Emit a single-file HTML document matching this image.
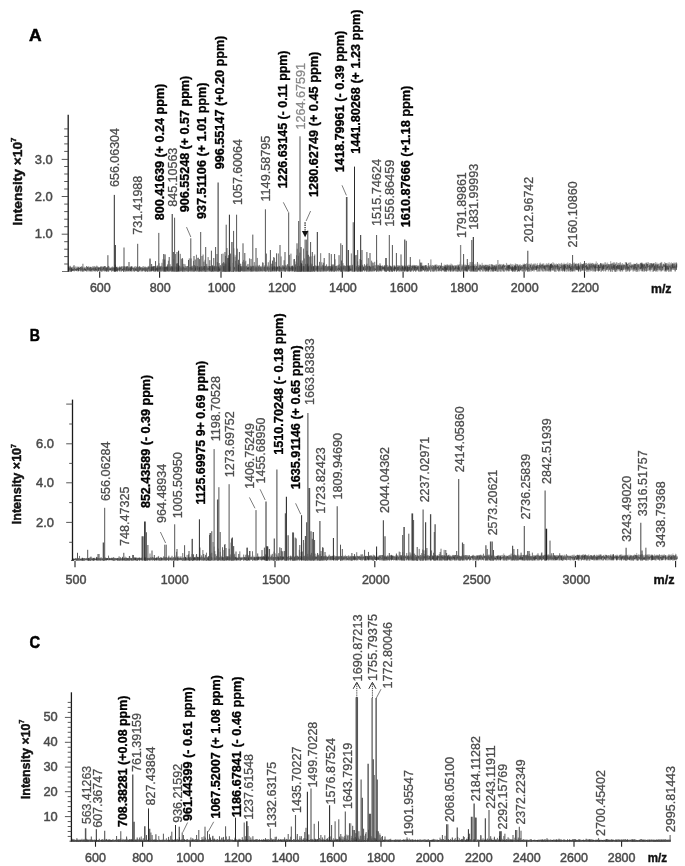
<!DOCTYPE html>
<html lang="en"><head><meta charset="utf-8"><title>Mass spectra A, B, C</title>
<style>html,body{margin:0;padding:0;background:#fff}svg{display:block;filter:grayscale(1)}text{font-family:"Liberation Sans", Arial, Helvetica, sans-serif}</style>
</head><body>
<svg width="685" height="866" viewBox="0 0 685 866">
<rect width="685" height="866" fill="#fff"/>
<path d="M68.5 267.58V271.54M69.08 267.06V271.01M69.81 267.64V270.46M70.44 266.67V270.42M71.16 267.44V271.67M71.67 267.73V271.13M72.28 266.69V270.98M72.91 267.05V270.72M73.48 265.59V270.8M74.15 266.83V270.66M74.9 267.58V270.86M75.62 266.4V270.97M76.32 267.32V271.19M77.07 266.23V271.2M77.81 267.15V270.64M78.52 266.77V270.91M79.18 266.62V271.1M79.82 267.7V270.47M80.62 266.88V270.93M81.27 266.31V271.44M82.03 267.4V271.09M82.7 267.07V270.77M83.49 267.73V271.45M84.25 266.65V271.49M84.92 267.11V270.48M85.59 267.44V271.08M86.2 267.22V271.13M86.88 267.05V270.44M87.44 266.87V271.56M88.18 266.53V270.74M88.88 266.19V270.42M89.45 267.56V271.24M89.97 267.48V271.11M90.55 266.67V271.01M91.2 267.68V270.92M91.75 267.55V271.61M92.32 266.3V271.5M92.86 266.65V270.61M93.56 266.9V270.7M94.3 266.94V270.7M94.92 266.85V270.83M95.44 267.26V271.7M96.03 266.43V270.81M96.75 265.53V270.74M97.27 266.49V271.69M97.82 266.41V271.71M98.47 267.13V270.86M99.17 267.05V270.66M99.87 267.25V271.07M100.63 266.35V270.42M101.23 266.22V271.45M101.8 266.68V271.53M102.4 266.37V271.32M103.19 267.33V271.37M103.74 266.32V270.68M104.43 266.42V270.89M105.01 266.38V271.21M105.78 267.47V271.14M106.29 267.56V271.57M107.04 267.16V271.22M107.65 266.81V270.69M108.23 266.34V271.15M108.87 267.25V271.46M109.37 266.66V270.51M110.14 267.59V270.71M110.77 267.48V270.61M111.49 267.5V271.63M112.28 266.29V270.78M112.92 266.98V271.27M113.72 267.2V271.2M114.31 267.55V271.63M115.1 267.47V270.67M115.9 266.83V271.32M116.47 266.83V270.8M117 267.21V271.73M117.69 266.67V271.67M118.29 267.14V270.81M119.05 267.17V270.84M119.73 265.94V270.71M120.25 266.8V270.47M120.94 267.19V271.46M121.7 267.39V271.06M122.22 266.19V270.61M123.02 266.38V270.81M123.67 266.23V270.78M124.21 266.24V270.42M124.99 266.4V271.62M125.71 266.57V270.62M126.26 266.53V271.29M126.78 266.15V271.49M127.44 266.32V271M128.04 267.21V270.4M128.66 266.74V270.45M129.21 267.41V270.73M129.83 266.99V271.21M130.33 266.79V271.06M130.96 266.55V271.38M131.61 266.87V270.68M132.28 266.22V271.64M132.97 267.51V270.46M133.73 267.34V271.43M134.33 266.53V271.54M135.04 266.46V271.19M135.81 266.12V271.16M136.38 267.25V271.15M136.9 266.54V271.36M137.55 265.64V271.38M138.29 266.61V270.73M139.08 267.36V271.44M139.78 266.5V270.98M140.57 266.98V271.48M141.12 267.07V270.53M141.91 267.38V271.2M142.44 267.11V270.7M142.94 266.01V270.97M143.63 266.28V270.64M144.29 267.14V271.17M144.99 266.34V271.49M145.66 266.8V271.55M146.33 266.96V270.75M147.07 267.36V271.4M147.86 266.38V271.72M148.51 266.66V270.79M149.12 266.73V270.35M149.75 267.07V270.91M150.46 266.78V271.26M151.02 267.53V270.74M151.78 266.26V271.07M152.42 266.25V270.92M153.22 267.06V270.59M153.88 266.97V270.35M154.51 266.9V271.56M155.23 266.14V271.4M155.95 266.53V271.26M156.57 266.55V271.24M157.31 266.21V271.43M157.99 266.97V270.72M158.75 266.67V270.56M159.4 266.79V270.41M160.12 266.85V270.84M160.62 266.72V271.68M161.25 266.44V271.2M161.81 266.13V270.72M162.56 266.69V270.86M163.28 267.23V271.27M164.02 267.08V271.2M164.69 267.22V271.46M165.29 267.14V271.71M166.04 267.44V271.62M166.64 266.82V271.42M167.19 266.51V270.57M167.83 266.06V271.37M168.41 266.66V270.53M169.12 266.92V271.4M169.84 266.36V270.77M170.46 266.71V270.47M170.97 266.54V271.6M171.48 266.37V271.5M172.17 266.94V271.53M172.87 267.32V270.9M173.49 267.2V270.66M174.13 266.56V270.63M174.73 266.53V271.63M175.24 266.21V271.56M175.85 266.55V271.64M176.62 266.27V270.54M177.12 267.23V271.28M177.74 267.25V270.99M178.51 267.4V270.41M179.02 267.02V270.49M179.53 266.45V271.39M180.28 266.4V270.88M181.07 266.44V270.67M181.85 266.51V270.83M182.52 266.62V270.41M183.15 267.12V271.59M183.85 266.31V271.39M184.57 267.04V271.73M185.35 266.08V271.55M185.87 266.15V271M186.67 267.36V271.09M187.21 266.8V271.34M187.71 266.6V270.45M188.24 267.37V270.87M188.83 267.21V271.47M189.59 266.94V270.93M190.26 266.89V270.81M191.05 266.49V270.47M191.68 265.85V271.36M192.39 266.56V271.61M192.98 267.16V270.85M193.51 265.38V271.15M194.2 266.91V270.74M194.8 266.21V271.04M195.34 265.95V270.78M195.87 265.84V271.01M196.64 265.86V271.5M197.42 266.12V270.5M198.09 265.81V271.45M198.82 266.81V271.68M199.44 266.65V271.74M199.99 267.15V271.31M200.76 267.09V270.91M201.28 267.22V271.1M201.81 266.96V271.23M202.33 267.26V271.55M202.88 266V270.34M203.64 266.24V270.72M204.32 265.99V271.61M205.02 266.5V271.69M205.74 266.07V271.76M206.3 266.17V271.43M206.94 266.72V271.59M207.62 267.3V271.55M208.18 266.24V271.31M208.77 265.94V271.4M209.43 266.44V271.11M210.09 266.04V271.7M210.78 266.86V270.74M211.46 266.47V271.73M212.15 265.75V271.38M212.76 266.7V271.67M213.46 265.9V271.66M214.07 266.6V271.47M214.8 266.57V270.79M215.33 266.06V270.91M215.91 265.96V271.16M216.71 266.92V271.05M217.42 266.64V271.44M218.13 266.54V271.73M218.66 267.12V271.72M219.17 266.92V271M219.79 266.16V271.52M220.47 265.72V271.1M221.08 265.79V271.72M221.74 266.64V271.28M222.32 266.87V271M223.08 266.04V271.29M223.7 266.23V270.72M224.47 267.13V271.55M225.08 265.84V270.58M225.71 265.87V271.76M226.36 265.86V271.09M227.08 265.07V271.01M227.78 265.8V271.72M228.44 266.59V271.41M229.01 266.85V271.33M229.55 266.98V271.12M230.34 266.43V271.19M230.96 266.84V271.32M231.53 266.69V270.98M232.21 267V271.59M232.87 267.19V270.76M233.56 265.96V271.61M234.21 266.75V270.47M234.79 267.14V271.08M235.46 266.16V270.61M236.13 265.31V270.91M236.72 266.27V270.4M237.42 265.66V270.78M238.08 267.24V270.77M238.65 265.42V271.29M239.37 267.1V270.75M239.89 267.22V270.48M240.67 266.22V270.63M241.25 266.42V270.75M241.85 265.94V271.23M242.54 265.83V270.88M243.22 266.39V271.12M243.84 265.78V271.22M244.36 266.42V270.53M244.99 266.35V270.64M245.65 266.47V270.87M246.26 266.17V271.09M247.01 265.19V271.3M247.72 266.99V271.64M248.48 266.89V271.54M249.08 265.78V270.5M249.69 266.51V270.44M250.28 266.14V271.47M250.78 265.66V271.65M251.39 266.31V271.6M252.13 266.24V270.9M252.75 266.23V270.34M253.26 265.43V270.26M253.8 266.39V270.8M254.6 265.72V271.25M255.34 266.82V271.48M256.01 266.63V270.5M256.79 266.7V271.59M257.48 265.56V271.43M258.11 266.59V270.7M258.75 266.05V271.22M259.26 266.09V271.61M259.96 266.4V270.77M260.75 267.17V271.62M261.5 266.91V271.35M262.1 265.59V271.25M262.74 266.42V271M263.45 266.87V270.92M264.13 265.65V271.53M264.74 267.01V270.29M265.29 265.91V271.27M265.88 266.93V271.74M266.66 267.16V270.85M267.38 265.66V271.07M267.89 265.84V271.75M268.59 266.61V270.61M269.37 265.57V270.51M270.02 266.46V271.46M270.74 266V271.3M271.4 266.76V271.44M272.09 266.52V271.1M272.74 263.88V270.61M273.33 266.7V270.88M274.12 265.98V270.73M274.76 266.32V270.88M275.38 266.51V270.55M275.99 266.91V271.11M276.72 266.11V271.37M277.26 266.73V270.78M277.9 266.9V270.44M278.46 265.8V271.07M279.09 265.68V271.13M279.71 266.82V271.2M280.44 267.05V271.39M281.15 266.15V270.44M281.67 266.74V270.83M282.37 265.48V270.79M282.94 265.94V270.77M283.46 265.74V270.56M284.05 265.77V271.15M284.78 266.7V270.32M285.37 265.76V271.71M285.9 265.69V271.21M286.47 266.27V270.42M287.18 265.74V270.83M287.72 265.27V270.63M288.28 265.83V270.82M288.96 266.67V271.22M289.74 266.27V271.56M290.47 266.4V270.65M291.22 266.89V271.1M291.73 266.75V271.51M292.51 265.57V270.37M293.02 266.39V270.91M293.7 266.78V271.02M294.26 266.49V271.59M294.99 266.99V271.64M295.74 266.8V270.45M296.33 267.03V271M297.08 266.42V271.77M297.83 265.99V270.84M298.47 265.5V271.08M299.12 266.36V271.14M299.66 266.08V271.55M300.42 265.74V271.43M301.22 265.73V271.12M301.89 267.06V271.63M302.5 266.14V271.22M303.15 265.99V271.55M303.8 265.69V270.22M304.4 266.71V271.62M304.93 266.53V271.01M305.73 265.03V271.17M306.42 265.66V270.63M307.08 266.08V271.19M307.63 265.46V270.63M308.22 265.82V270.63M308.8 266.24V271.37M309.56 265.38V271.51M310.16 265.47V271.56M310.79 265.55V271.39M311.51 265.53V270.27M312.21 265.55V270.88M312.77 266.85V270.41M313.31 266.59V270.52M314.1 266.47V271.73M314.66 265.44V270.22M315.17 265.19V271.08M315.7 265.63V270.26M316.26 266.54V270.98M316.88 265.91V270.51M317.59 266.52V271.68M318.23 266.99V270.24M318.92 265.88V271.71M319.63 266.44V270.32M320.34 265.64V271.71M321.01 266.07V271M321.71 266.03V271.56M322.35 265.58V271.27M323.02 265.62V271.16M323.61 265.97V270.27M324.38 266.61V270.9M325.16 265.8V271.19M325.79 265.9V270.76M326.29 265.7V271.38M326.8 266.42V271.14M327.56 266.64V270.33M328.36 265.88V270.4M329.14 265.94V270.57M329.85 266.68V271.42M330.53 266.36V270.66M331.18 266.19V271.58M331.74 265.36V271.16M332.43 266.57V270.82M332.98 265.26V271.38M333.48 265.76V270.68M334.18 266.93V270.78M334.94 266.09V270.7M335.62 266.47V271.07M336.12 266.44V270.33M336.77 265.46V271.39M337.57 266.51V270.79M338.1 266.07V271.01M338.88 264.68V270.3M339.6 264.33V270.29M340.2 266.94V270.2M340.76 266.45V271.07M341.33 266.6V271.61M341.99 266.17V270.72M342.5 266.64V271.21M343.06 266.65V271.64M343.8 265.41V270.42M344.35 266.88V270.64M345.02 266.18V271.46M345.56 266.6V271.38M346.34 265.52V270.53M346.92 265.4V270.58M347.48 266.33V270.91M348.18 265.86V271.57M348.8 266.51V271.52M349.58 265.87V270.36M350.32 265.37V271.04M351.1 265.6V270.78M351.7 265.58V270.94M352.25 265.93V271.59M352.8 266.12V271.19M353.32 265.85V270.55M353.87 265.41V270.68M354.54 265.36V271.66M355.24 266.8V270.47M356.04 265.63V270.48M356.83 266.02V271.58M357.56 265.8V271.25M358.1 265.23V270.22M358.78 265.2V270.51M359.54 266.33V270.82M360.05 264.62V271.3M360.59 266.25V271.62M361.16 266.35V271M361.82 265.3V271.05M362.58 265.87V270.94M363.19 266.13V270.29M363.92 266.66V270.5M364.53 266.81V270.75M365.23 265.35V270.31M365.79 266.28V271.1M366.49 265.13V270.19M367.14 266.82V270.25M367.8 266.64V270.27M368.53 265.87V271.79M369.29 265.86V270.95M369.81 266.77V271.24M370.32 266.56V270.7M371.07 266.42V270.66M371.86 265.33V271.2M372.63 266.48V270.74M373.3 265.84V271.16M373.9 266.24V270.81M374.57 265.3V270.81M375.32 265.12V270.55M375.89 265.53V270.22M376.57 265.6V271.66M377.23 265.96V270.17M377.9 265.52V270.42M378.42 265.55V271.51M379.12 265.66V270.65M379.85 266.21V270.42M380.6 265.13V271.09M381.15 265.96V270.16M381.92 266.73V271.23M382.71 265.03V270.35M383.51 266.23V270.44M384.2 266.26V271.06M384.83 265.81V270.42M385.62 265.73V271.45M386.17 266.79V271.77M386.78 265.61V271.36M387.41 265.31V270.87M387.93 265.47V270.29M388.56 266.45V270.88M389.07 266.43V271.76M389.69 265.11V271.43M390.37 266.44V271.43M391.11 266.64V271.68M391.86 265.95V271.62M392.38 265.89V271.69M393.03 266.45V271.03M393.8 265.38V270.93M394.34 264.95V271.15M395.08 266.33V270.88M395.62 266.54V270.2M396.23 265.05V270.59M396.86 265.35V270.63M397.46 265.32V270.41M398.09 265.86V271.02M398.68 265.18V271.73M399.38 265.36V270.65M400.01 265.79V270.78M400.58 266.24V270.45M401.15 265.23V271.65M401.75 264.92V270.69M402.43 265.44V270.8M403.19 266.13V270.48M403.9 265.41V270.4M404.67 264.86V271.13M405.42 266.24V270.21M406.03 265.31V270.6M406.78 266.47V270.79M407.44 265.26V271.79M407.98 265.81V271.02M408.69 264.79V271.71M409.24 264.79V270.36M409.77 265.51V270.31M410.37 265.11V271.3M410.91 265.93V270.38M411.56 265.68V271.68M412.22 265.53V270.33M412.76 264.9V270.68M413.41 265.59V271.62M413.97 264.86V270.08M414.48 265.02V270.4M415.23 265.11V270.26M415.76 265.2V271.81M416.45 265.29V270.32M417.06 265.13V270.79M417.72 266.16V270.18M418.23 265.27V270.87M418.9 266.44V271.49M419.4 265.72V271.44M420.16 265.2V271.22M420.89 265.41V270.14M421.6 265.52V271.09M422.35 266.05V271.18M422.9 266.48V270.28M423.54 266.46V270.17M424.33 265.67V270.88M424.86 265.46V271.24M425.55 265.44V270.78M426.21 265.57V271.35M426.73 265.34V271.59M427.26 266.28V271.66M427.96 266.31V270.96M428.53 265.88V271.13M429.19 265.71V270.11M429.78 265.25V270.82M430.58 265.83V271.77M431.24 265.93V270.35M431.87 265.3V270.36M432.57 264.96V271.23M433.28 265.27V270.89M433.87 266.31V270.29M434.64 264.8V270.49M435.37 265.36V270.57M436.17 264.45V271.56M436.89 264.61V271M437.68 265.34V271.41M438.2 265.49V270.04M438.99 265.03V271.04M439.7 265.19V271.17M440.48 265.49V271.12M441.15 265.03V270.35M441.69 266.29V271.02M442.42 266.04V270.28M442.95 265.66V271.27M443.53 266.09V271.06M444.29 264.59V271.71M444.87 265.4V270.8M445.43 264.81V270.07M446.17 265.48V271.56M446.78 264.51V271.82M447.35 264.44V270.67M447.95 265.89V270.47M448.74 265.27V270.19M449.51 264.74V270M450.24 264.9V271.83M450.98 263.49V270.69M451.62 264.55V270.23M452.31 264.5V271.28M452.97 266.09V270.43M453.52 265.56V271.18M454.29 265.4V271.01M455.02 265V271.74M455.55 265.67V271.12M456.11 265.71V271.09M456.86 266.04V271.43M457.58 264.66V271.73M458.08 264.9V271.67M458.72 264.71V270.5M459.34 264.26V270.02M459.88 264.67V271.78M460.63 265.75V270.02M461.26 266.05V271.23M461.78 264.38V270.62M462.3 265.58V270.54M462.98 264.46V271.57M463.67 264.4V270.43M464.47 264.89V271.28M465.27 264.48V270.57M465.77 265.2V271.6M466.31 265.68V270.26M466.87 265.84V271M467.63 264.89V270.55M468.19 266.09V270.36M468.9 265.52V270.37M469.55 264.51V270.79M470.08 265.67V270.94M470.74 266.13V271.76M471.4 265.74V270.41M472.09 264.25V270.45M472.67 266.07V269.96M473.47 266.04V270.09M474.06 265.61V271.6M474.62 264.23V271.13M475.32 265.28V271.81M475.96 263.69V271.75M476.46 265.82V271.68M477.13 265.69V269.95M477.7 264.96V271.61M478.36 265.5V270.27M478.98 263.63V270.33M479.58 265.62V270.69M480.3 264.82V271.53M480.81 264.62V270.17M481.43 265.49V270.01M482.14 262.84V271.68M482.7 264.94V270.95M483.23 265.02V270.02M483.99 265.99V271.47M484.51 264.77V270.83M485.25 264.81V271.49M486.04 264.59V271.61M486.64 264.98V270.9M487.39 264.74V271.56M488.17 265.21V271.84M488.78 264.64V270.1M489.46 264.23V270.04M490.14 265.82V271.39M490.83 264.3V271.75M491.48 264.02V271.22M492.16 264.27V271.55M492.71 264.43V271.3M493.36 265.08V271.78M493.94 265.85V270.04M494.64 265.42V271.34M495.25 264.5V271.42M495.99 264.85V271.19M496.66 264.12V271.73M497.17 265.18V270.94M497.88 265.82V271.61M498.67 265.09V271.55M499.18 264.71V270.65M499.74 263.82V270.2M500.43 265.46V271.54M501.21 264.33V271.81M501.96 264.47V271.29M502.62 265.19V270.53M503.14 263.95V271.36M503.77 263.93V270.87M504.42 265.39V271.85M505.01 264.99V271.28M505.67 265.12V270.56M506.44 262.89V270.29M507.02 263.79V270.16M507.76 265.17V269.86M508.29 265.38V270.61M508.82 264.49V271.16M509.34 265.6V270.79M509.9 264.37V270.04M510.66 263.59V270.62M511.41 264.69V270.53M512.12 264.04V270.71M512.66 265.55V271.8M513.18 264.32V271.82M513.98 265.32V271.29M514.51 265.18V271.77M515.19 263.57V271.28M515.78 263.7V270.08M516.43 264.02V269.86M517.04 265.26V271.69M517.72 264.64V271.59M518.49 265.41V271.07M519.26 264.32V270.77M519.77 265.53V270.37M520.39 264.33V270.35M521.16 264.96V270.59M521.78 265V271.31M522.49 265.49V271.26M523.07 263.76V271.6M523.78 264.52V271.01M524.38 263.48V271.43M525.1 265.4V271.49M525.81 264V270.66M526.57 263.19V269.79M527.3 264.1V271.38M527.92 265.39V271.74M528.58 264.04V271.51M529.25 263.77V271M529.83 263.87V271.42M530.61 264.48V270.06M531.23 263.12V271.71M531.92 264.25V271.12M532.71 264.5V270.58M533.45 263.67V270.08M534.03 264.11V270.28M534.73 263.52V269.96M535.37 263.54V269.82M536.12 265.15V269.8M536.63 264.39V271.49M537.38 263.2V271.84M538.13 264.98V270.97M538.89 264.94V271.52M539.54 263.43V271.17M540.3 262.59V271.48M540.97 265.08V269.9M541.49 264.64V270.37M542.27 263.42V270.71M543.06 264.76V271.11M543.71 263.15V271.77M544.43 265.05V270.64M545.01 264.37V271.37M545.79 264.92V270.18M546.35 263.22V270.48M547.06 264.21V271.07M547.57 264.52V270.83M548.13 263.2V270.22M548.89 262.8V271.4M549.62 264.99V271.46M550.19 264.17V269.99M550.94 263.57V271.45M551.52 263.14V270.4M552.19 264.81V270.16M552.96 262.08V269.7M553.7 263.45V270.24M554.22 263.46V271.21M554.96 264.68V271.82M555.57 264.33V271.45M556.24 263.43V271.79M556.83 264.25V269.82M557.58 264.56V270.72M558.16 265.03V270.99M558.72 263.23V271.4M559.47 264.04V271.05M560.02 263.62V271.55M560.8 263.84V270.57M561.57 262.82V271.14M562.16 263.67V269.71M562.9 264.42V271.11M563.44 264.21V270.36M564.03 262.73V270.94M564.61 264.3V271.46M565.16 264.05V271.17M565.91 263.77V270M566.42 263.54V271.85M567.08 264.23V270.57M567.76 262.43V269.91M568.37 263.88V271.26M568.88 264.92V270.63M569.62 263.08V271.47M570.18 262.95V270.27M570.69 263.96V271.82M571.39 263.98V270.61M572.19 264.08V270.96M572.75 263.62V269.8M573.37 263.25V271.41M574.16 262.39V270.72M574.85 263.17V270.09M575.44 264.23V269.78M576.16 263.1V270.3M576.68 264.43V270.17M577.19 263.85V269.6M577.69 263.88V269.8M578.4 264.67V271.41M579.09 263.48V271.27M579.72 264.79V269.58M580.4 262.34V271.55M581.18 263.81V270.54M581.7 263.66V270.85M582.4 264.33V270.97M582.98 264.07V270.17M583.52 263.19V270.42M584.17 264.26V271.6M584.68 264.25V269.96M585.23 263.15V271M585.8 263.17V270.45M586.56 262.95V271.79M587.32 263.76V271.59M587.9 264.08V271.59M588.45 263.31V269.89M589.03 262.8V270.05M589.54 263.93V269.57M590.22 262.77V271.49M590.85 263.85V271M591.41 263.68V270.49M591.93 262.91V271.23M592.6 262.96V269.85M593.12 263.21V269.82M593.83 263.79V271.19M594.36 263.89V270.76M595.11 263.8V271.8M595.67 263.48V271.17M596.21 261.41V270.88M596.96 264.64V270.29M597.49 262.91V270.95M598.24 264.59V270.01M598.92 264.21V270.48M599.47 264.6V270.74M600.17 264.13V270M600.96 263.34V271.85M601.69 263.27V270.43M602.35 264.3V270.9M603.01 263.26V270.88M603.68 264.45V271.66M604.29 263.6V270.89M604.99 262.15V269.67M605.79 262.5V270.65M606.43 263.78V269.91M607.07 264.01V270.04M607.66 262.57V269.75M608.28 264.18V271.55M608.8 264.21V271.21M609.39 264.19V269.57M609.99 264.1V269.79M610.71 261.16V271.77M611.36 263.3V270.56M612.03 263.59V271.85M612.54 263.09V271.85M613.1 262.53V269.62M613.64 262.52V269.96M614.21 263.4V271.2M614.73 262.24V271.55M615.25 263.65V271.85M615.8 264.2V271.88M616.5 262.28V271.52M617.19 262.59V270.1M617.75 264.39V271.38M618.48 263.07V269.74M619.03 263.29V270.52M619.7 262.63V271.25M620.48 262.25V270.39M621.03 263.65V271.55M621.65 264.68V270.04M622.4 263.05V269.75M623.13 263.89V269.94M623.91 264.12V270.32M624.7 264.56V269.57M625.34 262.14V269.61M626 262.34V271.85M626.57 262.28V269.55M627.2 263.97V271.66M627.81 263.88V270.53M628.47 262.85V270.16M629.2 262.81V271.76M629.98 262.33V270.37M630.78 262.44V270.87M631.32 264.32V269.85M632.11 264.15V269.85M632.87 264.33V269.6M633.46 264.64V269.87M633.98 263.46V271.25M634.57 264.31V270.55M635.2 263.88V270.67M635.7 264.05V271.58M636.44 263V271.92M637.01 262.77V271.47M637.8 264.06V271.58M638.36 264.07V269.73M638.95 263.73V269.81M639.62 264.1V271.44M640.36 262.77V270.56M641.13 264.16V269.76M641.83 262.18V270.99M642.46 264.47V271.13M643.08 263.65V270.3M643.76 264.44V271.68M644.48 263.71V269.8M645.05 263.82V271.13M645.61 262.75V271.01M646.28 264.47V271.12M646.96 262.12V271.23M647.63 263.96V270.65M648.28 262.04V270.73M649.05 263.11V269.82M649.7 263.47V269.65M650.45 263.19V269.95M651.01 263.68V270.08M651.7 263.12V269.9M652.27 263.24V271.86M653.03 264.36V269.56M653.6 263.71V271.29M654.36 262.92V270.95M655.06 264.49V271.06M655.65 262.04V271.61M656.27 263.8V269.79M656.96 262.68V270.53M657.65 263.93V271.73M658.44 264.01V270.22M659.08 263.09V271.24M659.72 264.36V269.57M660.44 262.91V269.99M661.21 261.91V271.07M661.83 262.31V271.28M662.61 264.53V270.15M663.39 263.62V269.76M664.09 264.24V271.18M664.72 262.04V271.53M665.43 263.52V270.41M665.95 263.19V269.88M666.51 263.21V271.7M667.29 263.75V269.82M667.92 262.76V270.91M668.53 263.97V271.93M669.17 262.15V271.5M669.85 263.78V271.62M670.64 263.34V271.16M671.29 262.33V271.55M672.07 263.87V269.87M672.81 263.43V269.55M673.38 264.34V269.89M673.99 262.39V270.02M674.58 263.77V269.85M675.16 262.72V271.18M675.86 262.69V269.72M676.51 262.33V269.75" stroke="#6a6a6a" stroke-width="0.6" fill="none"/>
<path d="M68.5 266.63V270.91M69.23 267.94V270.09M70.12 266.5V270.7M70.83 267.68V271.96M71.59 267.65V271.64M72.16 268.77V271.05M72.91 268.84V270.4M73.48 269.37V270.43M74.41 268.01V270.41M75.46 269.09V270.18M76.38 268.56V270.86M77 268.68V269.74M77.78 268.22V269.94M78.68 268.36V270.94M79.56 268.02V269.05M80.39 267.08V270.2M81 267.63V270.36M82.02 266.3V270.28M82.66 267.94V271.66M83.75 269.18V270.45M84.52 268.18V270.29M85.46 268.87V270.56M86.2 268.66V270.77M86.8 268.51V270.49M87.7 266.85V269.75M88.74 267.85V270.07M89.75 267.8V270.4M90.41 267.48V271.26M90.96 267.12V270.31M91.6 268.96V270.41M92.29 268.25V269.71M93.39 267.91V270.22M94.3 268.07V270.9M95.24 268.13V270.6M95.96 266.77V270M96.74 268.88V270.81M97.75 268.18V269.7M98.54 267.63V270.9M99.3 267.79V269.32M100.2 267.34V271.38M101.05 266.89V270.58M101.98 268.83V270.04M103.02 267.21V270.48M103.62 267.59V268.69M104.21 266.34V270.25M105.09 266.06V270.44M105.9 267.73V270.97M106.66 267.47V271.74M107.46 267.55V269.98M108.51 268.35V269.7M109.06 268.56V270.06M110.07 268.34V270.05M110.66 268.55V270.09M111.8 267.99V270.09M112.83 267.61V270.84M113.86 268.35V269.5M114.5 268.33V271.45M115.07 267.7V269.06M115.77 267.21V271.36M116.66 266.94V271.07M117.29 268.13V271.31M117.98 268.69V270.28M118.89 268.25V269.61M120 267.33V269.57M120.93 267.92V269.25M121.66 266.9V270.65M122.54 269.02V270.49M123.59 267.7V272M124.32 266.47V270.07M125.13 268.58V269.91M126.26 266.65V270.94M126.81 267.31V269.91M127.59 266.29V270.63M128.46 268.39V271.16M129.49 268.5V269.97M130.46 267.71V271.15M131.3 266.24V270.08M132.43 267.62V268.76M133.24 268.14V270.67M134.28 268.15V271.18M135.2 268.1V270.37M135.87 268.77V270.66M136.92 267.23V270.77M137.94 267.73V271.6M138.69 267.59V271.56M139.62 266.22V270.6M140.65 267.73V269.77M141.69 268.11V270.39M142.79 268.19V271.52M143.83 268.11V270.15M144.86 267.31V271.33M145.62 268.06V271.45M146.62 268.3V270.86M147.68 267.5V271.83M148.59 267.22V269.05M149.25 267.13V269.43M150.16 269.2V270.49M151.28 267.15V270.91M152.33 266.96V270.38M153.32 266.53V270.71M154.4 266.06V270M155.19 269.18V270.38M156.24 267.97V269.93M157.09 268.31V270.79M157.91 267.69V271.59M158.59 267.75V270.14M159.26 267.68V269.06M159.91 267.84V269.71M160.89 267.25V269.08M162.02 268.23V269.87M163.06 266.99V269.05M163.7 267.44V270.06M164.8 266.85V270.96M165.92 267.38V268.75M166.96 267.22V269.83M167.9 266.77V270.77M168.47 267.86V269.07M169.17 269.26V270.36M170.05 266.59V270.16M170.7 267.96V270.76M171.82 266.7V269.52M172.92 267.7V270.18M174.02 267.65V271.37M174.82 267.58V269.56M175.95 267.36V268.83M176.88 267.41V271.81M177.8 268.43V270.7M178.66 268.59V270.2M179.63 268.16V269.32M180.39 267.44V271.23M181.35 268.16V270.45M182.09 267.43V269.95M182.83 267.89V271.33M183.47 266.85V269.52M184.41 268V270.49M185.3 268.06V270.09M186.34 267.85V269.31M186.97 267.82V270.48M188.03 268.68V270.49M189.05 267.73V270.7M190.2 267V269.47M190.99 266.85V270.01M192.05 268.18V269.46M192.76 267.97V270.58M193.34 266.96V269.82M194.08 267.13V269.47M194.7 268.53V270.66M195.53 267.61V270.18M196.63 266.83V269.56M197.28 266.28V269.75M198.03 267.95V270.66M198.6 267.5V268.59M199.5 267.65V269.68M200.23 266.7V270.73M201.31 267.65V271.27M201.93 266.65V270.54M202.6 268.58V269.96M203.64 267.42V269.33M204.77 266.01V270.17M205.5 267.66V269.17M206.08 267.32V269.88M206.82 265.82V269.95M207.88 268.34V269.82M208.52 268V269.6M209.24 266.43V270.14M210.19 266.09V270.43M211.1 267.71V271.07M211.93 267.51V270.02M212.52 268.57V270.78M213.1 266.88V269.23M214.08 267.73V269.9M215.17 267.01V268.96M216.25 267.43V270.08M216.85 267.21V270.79M217.91 266.55V269.57M218.95 268.9V270.23M219.58 268.42V270.77M220.39 268.37V270.15M221.02 267.33V270.51M222.14 266.39V269.67M222.76 267.32V270.6M223.56 267.36V269.83M224.6 268.18V270.78M225.6 267.39V269.95M226.52 267.69V270.32M227.36 268.41V270.59M228.29 265.86V270.33M228.86 268.54V270.13M229.81 266.74V268.9M230.38 267.04V270.23M230.94 267.67V270.1M232.02 268.03V269.13M232.71 268.15V270.88M233.5 267.4V269.43M234.13 268.16V269.66M234.76 267.16V269.01M235.85 267.63V268.74M236.97 266.53V270.98M237.99 267.45V269.98M238.54 267.69V269.54M239.32 267.87V271.08M240.44 267.28V271.32M241.05 266.83V270.76M242.07 268.13V270.66M242.69 267.29V270.32M243.7 266.4V270.6M244.78 267.42V271.08M245.92 266.83V269.08M246.74 266.89V270.31M247.55 267.96V269.06M248.13 267.65V269.81M248.82 267.16V268.44M249.48 267.79V269.62M250.3 268.59V269.86M251.23 267.14V271.38M252.37 267.55V268.7M253.31 266.71V270.95M254.22 268.86V269.9M255.05 267.32V268.97M255.65 268.42V270.83M256.67 267.33V271.23M257.41 267.95V270.58M258.52 266.98V271.21M259.64 267.31V269.59M260.19 267.78V271M260.84 266.78V271.17M261.94 268.6V270.81M262.65 266.98V268.49M263.35 268.47V269.49M264.46 266.98V271.06M265.18 266.62V270.91M265.79 267.11V268.64M266.47 267.52V268.63M267.11 267.52V269.67M267.93 266.94V270.49M268.82 267.45V271.86M269.91 267.82V269.69M270.74 267.27V270.12M271.85 266.86V271.24M272.49 268.01V269.97M273.05 266.54V268.88M273.71 267.78V268.93M274.28 266.38V270.01M275.12 266.99V271.3M275.97 268.02V269.74M276.73 267.28V271.12M277.37 266.74V269.41M278.18 266.86V270.99M278.88 267.22V268.54M279.62 267.71V269.15M280.67 267.46V269.36M281.39 267.83V271.11M282.42 267.12V268.73M283.22 267.87V269.36M283.89 267.2V268.46M284.53 267.12V269.21M285.44 268.15V271.23M286.28 267.75V269.15M287.22 266.89V270.28M288.01 266.99V269.2M288.65 265.97V270.44M289.32 266.69V271.06M290.11 267.62V269.01M290.74 268.19V270.9M291.48 265.95V269.53M292.11 266.79V270.54M293.15 268.43V270.37M293.79 266.81V268.97M294.54 267.32V268.77M295.34 267.76V269.24M296.39 266.61V269.03M297.17 266.82V270.07M298.03 267.03V270.7M298.63 268.16V271.06M299.64 266.68V269.4M300.65 266.76V269.8M301.72 267.25V270.17M302.69 268.54V270.49M303.83 267.92V270.36M304.48 266.91V269.39M305.45 267.85V269.04M306.05 268.9V270.19M307.14 267.87V271.11M308.09 267.34V271.4M309.07 266.97V271.35M309.76 266.57V270.33M310.72 266.1V270.76M311.3 267.22V268.76M312.05 267.22V271.85M313.06 266.26V270.67M313.81 266.89V270.52M314.57 266.87V271.24M315.33 268.56V269.82M316.43 267.4V269.71M317.55 266.33V269.22M318.68 267.38V269.35M319.5 267.97V269.94M320.62 267.54V271.42M321.48 267.52V269.39M322.24 267.43V269.65M323.11 265.61V269.58M324.11 268.52V269.89M324.83 266.49V269.57M325.95 266.27V270.35M326.53 267.74V270.18M327.29 266.88V271M328.4 266.97V269.85M329.22 266.14V269.19M330.22 268.58V270.37M331.1 268.34V270.08M331.82 266.66V270.18M332.88 266.54V269.77M334.01 267.51V271.56M334.8 267.62V270.4M335.66 265.95V270.62M336.66 268.12V269.23M337.41 268.67V270.01M338.49 267.8V269.11M339.32 268.6V269.79M340.17 267.67V270.28M340.89 267.29V270.31M341.51 267.32V271.48M342.39 267.81V271.1M342.96 267.77V271.24M343.6 265.67V269.46M344.37 266.05V269.54M345.26 267.64V270.87M346.08 265.86V270.54M347.2 265.3V269.98M348.21 266.08V269.99M349.15 266.71V270.95M349.88 267.67V270.78M350.65 268.92V270.2M351.56 268.67V269.9M352.62 267.08V270.14M353.36 268.35V269.89M354.2 266.75V269.79M354.87 268.11V269.16M355.8 267.97V269.5M356.54 266.36V270.48M357.68 266.78V270.7M358.46 267.14V271.67M359.6 268.13V269.45M360.28 266.31V269.58M361.04 266.47V270.32M361.65 266.59V268.47M362.58 265.74V270.21M363.45 267.18V270.09M364.04 267.23V270.42M365.01 266.01V270.33M365.82 268.6V269.61M366.72 268.61V270.28M367.27 266.3V268.67M368.31 266.19V269.65M369.34 265.8V270.14M370.25 267.13V269.55M370.9 267.2V271.27M371.57 266.79V268.34M372.36 265.96V270.47M373.37 265.63V269.97M374.49 268.06V270.94M375.43 268.54V270.23M376.58 266.89V269.21M377.27 267.07V270.82M377.96 265.53V270.26M379 265.98V270.03M379.97 266.08V270.62M380.96 265.8V270.23M381.73 267.68V270.53M382.52 266.37V269.31M383.39 267.14V269.02M384.26 266.79V269.84M385.27 267.94V270.88M386.18 266.7V268.47M386.97 267.66V269.46M387.83 267.14V270.85M388.89 266.76V270.61M389.83 265.88V269.29M390.78 265.98V270M391.55 267.06V271.39M392.36 268.12V270.06M393.02 268.56V269.88M393.98 267.52V270.4M394.68 266.14V268.65M395.47 267.45V269.23M396.2 267.05V268.6M396.95 267.08V271.41M397.82 267.14V270.47M398.72 266.51V270.09M399.5 267.05V268.92M400.28 268.37V269.52M401.3 267.26V270.87M402.25 266.4V268.75M402.88 267.03V269.75M403.67 268.17V270.77M404.74 267.07V268.87M405.52 266.66V269.63M406.13 266.32V271.04M406.74 267.84V270.3M407.36 266.61V271.34M408.35 266.91V271.17M409.39 266.84V269.71M409.99 266.67V271.18M411.11 267.97V270.75M412.11 265.93V270.22M412.78 266.46V268.22M413.49 266.13V269.06M414.49 266.11V270.67M415.13 266.11V268.3M416.1 267.05V268.14M416.82 268.17V270.28M417.48 266.36V269.34M418.5 266.5V270.88M419.32 266.76V268.52M419.9 267.4V269.68M420.67 267.44V268.61M421.45 266.7V268.3M422.54 265.69V269.41M423.37 265.52V270.32M424.23 268.33V270.18M425.1 265.6V269.74M425.69 265.31V270.02M426.56 267.03V269.34M427.7 267.9V270.83M428.54 266.06V268.74M429.2 267.15V269.64M430.28 266.57V270.73M431.25 266.19V269.1M432 267.46V268.77M433.07 266.97V271.69M433.71 265.75V268.61M434.77 266.71V270.26M435.35 264.77V269.48M436.19 266.7V269.55M436.99 267.29V268.7M437.71 266.86V268.28M438.52 266.3V270.9M439.52 267.8V270.02M440.45 266.22V268.46M441.19 265.94V270.86M441.76 266.04V268.89M442.75 268.05V269.94M443.3 268.5V269.94M444.1 266.81V268.37M445.07 266.94V269.43M445.83 266.92V271.37M446.41 268.16V269.81M447.1 266.37V269.86M447.98 264.76V269.68M448.98 265.98V270.88M450.13 266.99V269.74M451.06 268.17V269.29M452.03 266.38V269.79M452.66 265.45V268.62M453.39 266.43V271.33M454.29 268.13V270.17M455.05 266.48V268.96M455.62 266.44V269.45M456.75 266.79V268.81M457.88 268.1V269.37M458.59 265.54V269.66M459.31 267.21V271.07M460.38 267.09V270.81M461.25 268.19V270M462.14 267.07V269.23M463.03 265.58V269.24M463.66 266.84V270.4M464.79 266.46V270.35M465.7 266.9V270.61M466.83 266.96V271.07M467.41 264.92V269.11M468.5 265.07V269.49M469.06 266.87V268.87M470.15 265.82V268.35M471.2 266.05V270.54M472.07 265.88V268.18M473 265.42V270.49M473.88 266.13V269.6M474.66 266.54V268.74M475.45 267.92V270.43M476.5 266.41V269.17M477.61 267.31V269.67M478.24 267.9V270.19M479.26 267.71V270.24M480.02 264.89V268.99M480.65 267.79V268.94M481.29 267.53V269.62M481.86 266.05V268.04M483 266.42V268.07M483.67 266.5V268.79M484.58 266.17V269.55M485.57 267.71V268.85M486.2 266.79V269.92M486.88 267.21V270.72M487.74 265.57V270.38M488.72 266.58V270.47M489.61 266.12V269.54M490.7 267.36V268.8M491.43 267.64V269.63M492.1 265V269.15M493.1 267.08V270.73M494.15 265.34V269.04M494.99 265.97V270.78M495.63 267.27V270.91M496.25 265.81V269.64M497.38 266.82V270.51M498.39 264.8V269.59M499.04 267.49V268.78M500.11 264.49V269.01M501.08 266.74V269.02M502.03 266.09V269.8M502.77 265.32V268.45M503.74 264.79V269.09M504.66 265.83V267.12M505.54 268.32V269.52M506.6 266.54V269.82M507.43 265.37V270.55M507.99 266.72V268.06M508.58 265.18V268.63M509.48 265V268.88M510.59 266.47V268.97M511.66 267.3V270.41M512.27 267.06V270.39M512.92 268.15V269.57M513.65 266.98V270.66M514.55 266.08V269.57M515.45 265.42V269.69M516.26 266.84V270.14M517.16 266.08V268.25M518.22 265.95V271.24M518.79 266.65V270.76M519.63 266.62V271.19M520.62 266.32V270.22M521.74 266.43V269.33M522.44 267.11V268.43M523.39 264.98V268.96M524.4 264.69V269.7M525.18 263.99V269.24M525.93 266.69V268.05M526.83 267.5V270.4M527.61 265.62V270.01M528.53 267.54V269.12M529.59 268.46V269.54M530.53 264.87V267.81M531.28 267.27V269.71M532.32 265.52V270.77M533.3 266.95V268.89M533.97 265.04V269.47M534.95 266.08V267.79M535.9 266.46V270.16M536.49 266.12V269.65M537.37 265.2V268.42M538.19 266.91V268.41M539.32 264.93V269.12M540.1 266.01V267.44M540.92 264.19V268.61M542.06 265.14V268.44M542.79 264.26V267.97M543.75 265.69V268.62M544.6 265.77V268.9M545.31 265.9V270.44M546.2 265.44V266.99M546.98 265.25V267.46M548.04 264.99V267.54M548.83 265.34V270.58M549.83 265.91V269.81M550.62 264.71V268.77M551.4 263.98V268.04M552.27 264.75V267.59M552.89 265.65V270.78M554.01 265.88V268.71M554.8 264.86V267.14M555.82 265.9V268.81M556.83 265.49V267.36M557.61 264.11V269.36M558.73 266.07V268.96M559.37 267.62V269.98M560.31 267.04V268.18M561.17 265.12V268.35M562.29 265.77V270.35M563.29 264.87V269.1M564.13 265.97V270.57M564.94 264.17V269.23M565.69 265.77V267.9M566.81 267.6V269.04M567.45 264.87V268.61M568.6 265.82V268.6M569.48 264.76V268.2M570.36 267.08V270.01M571.14 268.15V269.19M572.2 265.67V269.29M572.94 265.6V270.71M574.02 266.63V268.65M574.83 264.43V268.07M575.81 264.02V269.2M576.65 266.32V269.79M577.73 266.33V270.33M578.42 263.38V268.39M579.16 265.76V269.62M579.85 267.17V268.93M580.89 264.49V267.16M581.96 266.35V268.78M582.53 264.22V269.84M583.53 264.36V268M584.57 266.08V269.42M585.55 265.72V267.46M586.5 265.07V269.5M587.54 266.48V269.5M588.24 267.31V270.02M589.35 264.54V268.9M590.12 265.67V269.79M591.08 263.91V267.6M592.19 265.82V268.64M592.79 265.12V266.13M593.45 264.57V267.33M594.31 265.33V268.39M595.22 266.07V268.36M596.06 264.12V268.23M597.21 266.94V268.31M598.32 265.07V267.13M599.04 265.62V270.9M599.62 266.96V267.99M600.59 262.98V268.29M601.4 264.8V267.58M602.04 264.69V268.61M602.66 266.17V270.09M603.41 264.7V269.12M604.06 265.55V268.76M605.14 264.83V266.85M606.05 264.93V267.11M606.74 266.92V269.63M607.61 266.4V268.34M608.18 264.41V267.36M609.24 266.42V269.82M609.93 264.84V266.65M610.96 266.13V269.18M611.83 264.13V268.69M612.92 266.26V269.81M613.64 264.51V268.1M614.39 265.05V269.56M615.19 265.35V269.19M616.29 266.23V269.77M616.85 266.07V268.04M617.46 264.93V268.93M618.57 265.29V268.91M619.57 264.84V269.07M620.24 265.87V269.97M621.17 264.86V270.03M621.73 266.01V270.19M622.51 266.37V269.78M623.22 264.99V269.65M624.11 265.55V268.36M624.89 265.06V266.34M625.66 266.23V269.42M626.49 262.82V268.46M627.15 263.86V269.21M627.88 266.24V270.73M628.58 266.86V268.61M629.67 265.25V269.51M630.74 265.94V267.45M631.7 265.34V268.37M632.74 265.29V267.14M633.65 265.86V269.09M634.26 264.2V269.34M635.27 263.98V268.23M636.16 267.13V269.84M637.07 264.77V269.65M637.97 264.82V267.67M638.89 265.45V267.22M640.01 266.97V268.99M640.77 263.17V268.94M641.5 263.35V268.35M642.43 264.33V266.71M643.07 265.37V269.28M643.95 263.79V267.94M644.62 265.06V269.87M645.6 266.48V268.32M646.55 263.28V268.86M647.63 263.92V267.71M648.73 265.81V266.83M649.66 265.14V270.35M650.39 265.71V268.65M651.13 263.27V268.5M652.05 264.35V267.57M652.83 264.18V267.31M653.45 263.28V268.81M654.52 265.76V270.33M655.25 264.4V268.77M656.2 265.83V270.45M657.07 265.02V269.98M657.88 264.49V268.06M658.98 266.39V268.53M659.93 265.91V270.1M660.95 263.27V267.92M662.06 266V270.39M662.65 266.92V268.2M663.79 264.18V266.89M664.86 265.02V266.89M665.52 265.98V270.08M666.09 265.41V269.36M667.02 266.09V270.37M667.87 265.62V269.24M668.56 267.46V269.62M669.18 265.52V267.38M670.27 265.63V268.5M671.03 267.03V269.68M671.84 264.68V269.17M672.49 263.39V267.79M673.24 266.65V267.81M673.88 263.52V268.52M674.8 265.85V267.95M675.38 266.48V268.27M676.21 264.61V269.92M676.76 263.53V267.53" stroke="#242424" stroke-width="0.65" fill="none"/>
<path d="M70 271.5V265.76M74.17 271.5V265.21M80.8 271.5V267.27M82.91 271.5V263.78M86.5 271.5V266.05M88.92 271.5V267.3M90.9 271.5V267.49M94.1 271.5V265.97M97.31 271.5V266.91M101.69 271.5V267.52M104.84 271.5V266.6M108.56 271.5V265.89M111.78 271.5V267.41M115.4 271.5V264.63M121.4 271.5V266.4M125.59 271.5V267.46M127.26 271.5V267.14M134.32 271.5V267.43M138.61 271.5V267.44M141.64 271.5V267.43M145.98 271.5V267.36M148.98 271.5V265.89M150 271.5V259.23M154.31 271.5V266.42M159.06 271.5V263.18M161.13 271.5V265.77M161.97 271.5V262.81M163.05 271.5V259.23M168.4 271.5V260.72M170.1 271.5V264.25M171.96 271.5V266.19M173.72 271.5V259.32M175.45 271.5V254M179.53 271.5V265.61M180.25 271.5V253.87M181.35 271.5V259.09M183.82 271.5V263.88M185.01 271.5V264.27M186.32 271.5V266.29M187.47 271.5V265.96M188.17 271.5V266.16M189.27 271.5V258.37M192.8 271.5V265.76M193.47 271.5V260.88M194.47 271.5V265.11M196.43 271.5V254.73M198.15 271.5V257.63M201.18 271.5V266.03M203.08 271.5V254.54M206.69 271.5V263.87M208.12 271.5V257.09M210.7 271.5V266.26M211.64 271.5V265.24M216.19 271.5V266.1M217.3 271.5V262.1M220.33 271.5V265.07M221.68 271.5V253.94M222.71 271.5V263.22M223.55 271.5V266.18M224.4 271.5V265.78M227.06 271.5V261.64M228.54 271.5V255.19M231.14 271.5V265.34M232.63 271.5V266.13M235.47 271.5V260.84M237.17 271.5V263.54M239.33 271.5V263.43M240.1 271.5V266.2M240.85 271.5V266.22M242.77 271.5V261.77M243.72 271.5V259.95M244.9 271.5V262.26M245.75 271.5V260.77M246.47 271.5V266.2M249.55 271.5V258.33M252.38 271.5V265.88M253.39 271.5V266.07M254.28 271.5V262.07M255.92 271.5V265.55M257.3 271.5V257.91M258.12 271.5V265.67M259.34 271.5V264.9M260.92 271.5V266.17M262.52 271.5V262.38M263.19 271.5V262.73M265 271.5V265.28M266.47 271.5V253.55M268.29 271.5V262.28M270.06 271.5V260.39M271.36 271.5V263.66M275.82 271.5V261.87M278.34 271.5V253.46M281.12 271.5V256.43M282.74 271.5V265.35M285.9 271.5V264.84M287.5 271.5V264.19M290.94 271.5V253.64M293.88 271.5V259.27M294.57 271.5V265.76M296.49 271.5V255.26M298.42 271.5V264.24M300.41 271.5V260.25M302.26 271.5V260.51M304.75 271.5V266.07M305.96 271.5V264.62M307.67 271.5V263.68M309.29 271.5V265.96M312.03 271.5V264.01M314.74 271.5V254.47M315.86 271.5V265.99M317.08 271.5V265.8M318.43 271.5V265.67M319.5 271.5V261.86M320.69 271.5V253.16M321.83 271.5V262.26M322.85 271.5V264.69M325.45 271.5V265.95M326.55 271.5V264.32M328.06 271.5V265.96M333.21 271.5V264.67M334.09 271.5V264.21M335.04 271.5V259.29M336.49 271.5V266M338.04 271.5V265.16M340.68 271.5V265.98M342.98 271.5V263.18M344.43 271.5V265.49M345.62 271.5V265.96M347.49 271.5V265.96M348.99 271.5V265.63M351.32 271.5V253.42M353.52 271.5V260.24M354.59 271.5V263.68M355.45 271.5V255.18M356.73 271.5V254.92M357.63 271.5V261.38M359.36 271.5V265.85M361.43 271.5V260.01M362.63 271.5V264.77M364.47 271.5V264.19M366.3 271.5V265.21M368.36 271.5V258.1M371.61 271.5V260.68M372.28 271.5V262.45M373.22 271.5V262.68M374.71 271.5V261.81M376.62 271.5V259.91M377.9 271.5V264.74M378.83 271.5V265.32M222 271.5V263.88M222.52 271.5V263.63M223.04 271.5V253.55M226.56 271.5V264.23M227.51 271.5V258.08M229.42 271.5V249.95M230.55 271.5V253.51M232.4 271.5V262.86M233.81 271.5V248.25M235.15 271.5V256.7M236.12 271.5V254.96M237.35 271.5V248.61M239.7 271.5V263.25M296 271.5V261.49M297.26 271.5V248.71M297.88 271.5V262.84M298.54 271.5V255.89M299.84 271.5V252.6M302.95 271.5V264.06M303.52 271.5V248.57M304.32 271.5V258.44M305.65 271.5V263.84M309.6 271.5V256.56M381.63 271.5V265.96M386.57 271.5V264.74M392.69 271.5V266.69M396.47 271.5V266.3M399.46 271.5V266.01M404 271.5V266.49M410.47 271.5V265.09M413.35 271.5V265.77M418.59 271.5V266.67M424.5 271.5V266.5M426.04 271.5V265.38M428.39 271.5V263.01M430.69 271.5V264.81M433.24 271.5V266.58M434.37 271.5V266.17M436.26 271.5V265.85M438.91 271.5V266.51M441.45 271.5V262.78M448.65 271.5V266.43M451.84 271.5V266.47M453.03 271.5V266.42M456.25 271.5V265.24M460.3 271.5V261.61M462.01 271.5V265.87M463.58 271.5V262.42M467.65 271.5V263.24M470.17 271.5V262.03M472.14 271.5V261.93M474.56 271.5V266.26M476.21 271.5V266.31M477.46 271.5V261.98M480 271.5V266.76M483.06 271.5V264.85M497.59 271.5V266.62M500.11 271.5V265.23M503.44 271.5V266.37M506.75 271.5V266.14M517.55 271.5V264.37M519.4 271.5V265.16M523.25 271.5V266.38M525.09 271.5V265.39M529.79 271.5V265.7M534.03 271.5V266.27M538.97 271.5V265.85M542.23 271.5V265.88M545.97 271.5V264.94M548.08 271.5V264.76M554.72 271.5V265.84M558.71 271.5V266.03M562.72 271.5V265.48M568.08 271.5V265.91M574.88 271.5V265.81M580.69 271.5V265.84M584.26 271.5V264.92M588.91 271.5V264.74M593.03 271.5V264.53M601.29 271.5V264.27M605.68 271.5V265.73M610.43 271.5V263.99M615.34 271.5V263.77M620.34 271.5V265.37M622.63 271.5V264.96M626.07 271.5V265.59M629.59 271.5V265M633.09 271.5V265.21M637.89 271.5V264.35M644.36 271.5V265.63M646.44 271.5V265.67M650.15 271.5V265.66M653.53 271.5V265.66M656.27 271.5V264.4M660.96 271.5V265.45M670.93 271.5V265.61M675.19 271.5V265.44" stroke="#666" stroke-width="0.9" fill="none"/>
<path d="M78.14 271.5V267.23M119.75 271.5V267.46M131.23 271.5V266.76M151.63 271.5V263.99M153.3 271.5V266.08M155.54 271.5V261.08M157.34 271.5V265.48M159.93 271.5V266.15M164.71 271.5V259.5M166.18 271.5V266.37M167.71 271.5V264.4M176.47 271.5V263.51M177.5 271.5V263.21M178.22 271.5V264.9M182.64 271.5V259.24M191.04 271.5V258.48M195.22 271.5V259.52M199.61 271.5V259.12M203.98 271.5V261.61M205.17 271.5V259.76M209.81 271.5V260.14M212.51 271.5V265.42M214.31 271.5V265.78M219.12 271.5V263.14M225.59 271.5V255.79M229.27 271.5V262.61M233.76 271.5V254.52M238.53 271.5V264.92M247.99 271.5V263.94M251.05 271.5V258.95M272.54 271.5V260.6M274.26 271.5V258.03M276.55 271.5V253.32M279.48 271.5V266.11M284.14 271.5V260.22M289.31 271.5V254.88M292.45 271.5V265.79M295.3 271.5V264.38M297.73 271.5V266.05M299.64 271.5V265.79M303.64 271.5V266.08M310.93 271.5V256.3M313.69 271.5V266.03M323.68 271.5V262.7M329.91 271.5V265.99M331.31 271.5V254.08M332.05 271.5V264.34M339.04 271.5V255.16M341.48 271.5V260.53M349.85 271.5V265.53M352.45 271.5V264.8M360.06 271.5V259.02M366.97 271.5V263.72M369.72 271.5V265.92M223.72 271.5V262.13M224.7 271.5V263.4M225.62 271.5V263.83M228.33 271.5V257.94M231.23 271.5V253.92M233.31 271.5V257.43M238.47 271.5V259.8M240.74 271.5V263.8M300.9 271.5V262.76M301.5 271.5V263.36M306.9 271.5V250.73M308.34 271.5V254.82M310.78 271.5V263.21M380 271.5V263.38M384.76 271.5V265.18M389.72 271.5V265.37M394.41 271.5V266.75M402.75 271.5V266.24M407.28 271.5V266.37M415.8 271.5V266.66M420.5 271.5V262.55M421.71 271.5V262.6M444.74 271.5V266.41M445.89 271.5V265.4M450.42 271.5V265.5M458.03 271.5V266.43M466.27 271.5V265.28M485.85 271.5V264.96M488.66 271.5V266.72M493 271.5V266.67M508.89 271.5V265.71M512.27 271.5V266.19M515.19 271.5V265.57M550.37 271.5V263.97M564.6 271.5V264.98M571.06 271.5V265.72M578.52 271.5V265.84M595.18 271.5V265.11M598.39 271.5V264.98M642.12 271.5V263.28M665.7 271.5V263.42" stroke="#333" stroke-width="0.8" fill="none"/>
<path d="M114.3 271.5V194.9M115.3 271.5V245M165 271.5V254.4M172.2 271.5V214M178.6 271.5V250.7M218.1 271.5V182.5M229.4 271.5V214.7M301 271.5V247M317.3 271.5V232M348.3 271.5V250M354.5 271.5V166.6M360.7 271.5V235M404.8 271.5V239.5" stroke="#2a2a2a" stroke-width="1.0" fill="none"/>
<path d="M107.9 271.5V255.2M124 271.5V247.5M129 271.5V262M137.7 271.5V243.8M150 271.5V258.4M158.8 271.5V232.9M163.7 271.5V254M169.2 271.5V257M174.6 271.5V217.7M173.4 271.5V252M177 271.5V252M182.3 271.5V258M188.5 271.5V260M190.8 271.5V238.3M194 271.5V256M198 271.5V258M200.7 271.5V232M202 271.5V256M205.7 271.5V247M211.4 271.5V250.7M213.8 271.5V258M215.6 271.5V247M217 271.5V254M225 271.5V252M226.2 271.5V224.7M226.9 271.5V248M233.6 271.5V230.9M236.6 271.5V214.7M239.4 271.5V252M243 271.5V243.3M244.8 271.5V253M252.8 271.5V234.6M256 271.5V248M265.4 271.5V209.3M270.4 271.5V250M273.8 271.5V257M280 271.5V245M285 271.5V252M288.7 271.5V212.3M294.4 271.5V259M297 271.5V243.3M298.7 271.5V221M300 271.5V136.3M305.1 271.5V239.6M306.3 271.5V239.6M310.6 271.5V242M312.3 271.5V252M314.3 271.5V256M324.2 271.5V258M329.2 271.5V253M334.6 271.5V254M340.8 271.5V243.3M342.3 271.5V245M357.7 271.5V250M362 271.5V250M366.9 271.5V252M370 271.5V253M376.6 271.5V235M385.8 271.5V258M389.3 271.5V235M392.4 271.5V245M396.4 271.5V253M401 271.5V254.4M406.3 271.5V240.8M410.3 271.5V257M386.2 271.5V258M463.6 271.5V254M467.3 271.5V259M471.8 271.5V240M572.6 271.5V255M584.5 271.5V261" stroke="#555" stroke-width="1.0" fill="none"/>
<path d="M231.5 271.5V242M232.3 271.5V242M419.7 271.5V259.4M430.9 271.5V259.4M497.9 271.5V260" stroke="#858585" stroke-width="1.0" fill="none"/>
<path d="M307.8 271.5V230.6" stroke="#2a2a2a" stroke-width="0.9" fill="none"/>
<path d="M346.7 271.5V197" stroke="#555" stroke-width="1.6" fill="none"/>
<path d="M353.3 271.5V222.2" stroke="#858585" stroke-width="1.4" fill="none"/>
<path d="M460.6 271.5V245" stroke="#858585" stroke-width="1.3" fill="none"/>
<path d="M473.3 271.5V237" stroke="#2a2a2a" stroke-width="1.1" fill="none"/>
<path d="M527.8 271.5V250.7" stroke="#555" stroke-width="1.1" fill="none"/>
<path d="M68.2 114.8V271.9" stroke="#1a1a1a" stroke-width="1.3" fill="none"/>
<path d="M62 271.5H69.5" stroke="#4a4a4a" stroke-width="0.8" fill="none"/>
<path d="M68.2 264H64.2M68.2 256.6H64.2M68.2 249.2H64.2M68.2 241.7H64.2M68.2 226.7H64.2M68.2 219.2H64.2M68.2 211.6H64.2M68.2 204.1H64.2M68.2 189H64.2M68.2 181.5H64.2M68.2 174H64.2M68.2 166.5H64.2M68.2 151.4H64.2M68.2 143.9H64.2M68.2 136.4H64.2M68.2 128.9H64.2M68.2 234.2H61.7M68.2 196.5H61.7M68.2 159.4H61.7" stroke="#444" stroke-width="0.9" fill="none"/>
<path d="M99.7 271.5V277.7M159.6 271.5V277.7M221 271.5V277.7M281.4 271.5V277.7M342.3 271.5V277.7M403.1 271.5V277.7M463.6 271.5V277.7M524.1 271.5V277.7M584.5 271.5V277.7" stroke="#222" stroke-width="1.1" fill="none"/>
<g font-size="12.5" fill="#4a4a4a" stroke="#4a4a4a" stroke-width="0.45" text-anchor="middle">
<text x="100.3" y="292.2" textLength="20.85" lengthAdjust="spacingAndGlyphs">600</text>
<text x="160.2" y="292.2" textLength="20.85" lengthAdjust="spacingAndGlyphs">800</text>
<text x="221.6" y="292.2" textLength="27.8" lengthAdjust="spacingAndGlyphs">1000</text>
<text x="282" y="292.2" textLength="27.8" lengthAdjust="spacingAndGlyphs">1200</text>
<text x="342.9" y="292.2" textLength="27.8" lengthAdjust="spacingAndGlyphs">1400</text>
<text x="403.7" y="292.2" textLength="27.8" lengthAdjust="spacingAndGlyphs">1600</text>
<text x="464.2" y="292.2" textLength="27.8" lengthAdjust="spacingAndGlyphs">1800</text>
<text x="524.7" y="292.2" textLength="27.8" lengthAdjust="spacingAndGlyphs">2000</text>
<text x="585.1" y="292.2" textLength="27.8" lengthAdjust="spacingAndGlyphs">2200</text>
</g>
<g font-size="12.5" fill="#4a4a4a" stroke="#4a4a4a" stroke-width="0.45" text-anchor="end">
<text x="52.8" y="238.4" textLength="18" lengthAdjust="spacingAndGlyphs">1.0</text>
<text x="52.8" y="200.7" textLength="18" lengthAdjust="spacingAndGlyphs">2.0</text>
<text x="52.8" y="163.6" textLength="18" lengthAdjust="spacingAndGlyphs">3.0</text>
</g>
<text x="651" y="293" font-size="13" font-weight="bold" fill="#111" stroke="#111" stroke-width="0.4" textLength="20.5" lengthAdjust="spacingAndGlyphs">m/z</text>
<text transform="translate(21.8 225.5) rotate(-90)" font-size="13.7" font-weight="bold" fill="#111" stroke="#111" stroke-width="0.45" textLength="87.8" lengthAdjust="spacingAndGlyphs">Intensity ×10<tspan font-size="7.67" dy="-6.3">7</tspan></text>
<text x="28.9" y="40.7" font-size="16.4" font-weight="bold" fill="#000" stroke="#000" stroke-width="0.5" textLength="12.6" lengthAdjust="spacingAndGlyphs">A</text>
<path d="M186.5 227.1L190.8 237" stroke="#444" stroke-width="0.7" fill="none"/>
<path d="M283.3 202.3L288.2 211.8" stroke="#444" stroke-width="0.7" fill="none"/>
<path d="M310.6 211L306.1 221" stroke="#444" stroke-width="0.7" fill="none"/>
<path d="M342 185.3L346.4 195.4" stroke="#444" stroke-width="0.7" fill="none"/>
<path d="M305.1 222.3V231" stroke="#606060" stroke-width="1.7" stroke-dasharray="1.4 0.9" fill="none"/>
<path d="M301.9 230.9H308.3L305.1 237.2Z" fill="#111"/>
<text transform="translate(118.9 187) rotate(-90)" font-size="13.5" fill="#4c4c4c" stroke="#4c4c4c" stroke-width="0.3" textLength="59" lengthAdjust="spacingAndGlyphs">656.06304</text>
<text transform="translate(141.95 234.7) rotate(-90)" font-size="13.5" fill="#4c4c4c" stroke="#4c4c4c" stroke-width="0.3" textLength="58.9" lengthAdjust="spacingAndGlyphs">731.41988</text>
<text transform="translate(164.05 220.3) rotate(-90)" font-size="13.5" font-weight="bold" fill="#000" stroke="#000" stroke-width="0.35" textLength="136.6" lengthAdjust="spacingAndGlyphs">800.41639 (+ 0.24 ppm)</text>
<text transform="translate(177.25 206.7) rotate(-90)" font-size="13.5" fill="#4c4c4c" stroke="#4c4c4c" stroke-width="0.3" textLength="59" lengthAdjust="spacingAndGlyphs">845.10563</text>
<text transform="translate(189.45 212.2) rotate(-90)" font-size="13.5" font-weight="bold" fill="#000" stroke="#000" stroke-width="0.35" textLength="136.4" lengthAdjust="spacingAndGlyphs">906.55248 (+ 0.57 ppm)</text>
<text transform="translate(205.55 219.1) rotate(-90)" font-size="13.5" font-weight="bold" fill="#000" stroke="#000" stroke-width="0.35" textLength="136.6" lengthAdjust="spacingAndGlyphs">937.51106 (+ 1.01 ppm)</text>
<text transform="translate(224.15 169.2) rotate(-90)" font-size="13.5" font-weight="bold" fill="#000" stroke="#000" stroke-width="0.35" textLength="133.5" lengthAdjust="spacingAndGlyphs">996.55147 (+0.20 ppm)</text>
<text transform="translate(242.15 204.9) rotate(-90)" font-size="13.5" fill="#4c4c4c" stroke="#4c4c4c" stroke-width="0.3" textLength="65.8" lengthAdjust="spacingAndGlyphs">1057.60064</text>
<text transform="translate(270.05 201.5) rotate(-90)" font-size="13.5" fill="#4c4c4c" stroke="#4c4c4c" stroke-width="0.3" textLength="65.8" lengthAdjust="spacingAndGlyphs">1149.58795</text>
<text transform="translate(286.95 188.3) rotate(-90)" font-size="13.5" font-weight="bold" fill="#000" stroke="#000" stroke-width="0.35" textLength="137.7" lengthAdjust="spacingAndGlyphs">1226.63145 (- 0.11 ppm)</text>
<text transform="translate(305.05 129.5) rotate(-90)" font-size="13.5" fill="#888" stroke="#888" stroke-width="0.3" textLength="66.5" lengthAdjust="spacingAndGlyphs">1264.67591</text>
<text transform="translate(318.15 197) rotate(-90)" font-size="13.5" font-weight="bold" fill="#000" stroke="#000" stroke-width="0.35" textLength="145.2" lengthAdjust="spacingAndGlyphs">1280.62749 (+ 0.45 ppm)</text>
<text transform="translate(343.55 172.2) rotate(-90)" font-size="13.5" font-weight="bold" fill="#000" stroke="#000" stroke-width="0.35" textLength="141.5" lengthAdjust="spacingAndGlyphs">1418.79961 (- 0.39 ppm)</text>
<text transform="translate(359.55 153.8) rotate(-90)" font-size="13.5" font-weight="bold" fill="#000" stroke="#000" stroke-width="0.35" textLength="144.2" lengthAdjust="spacingAndGlyphs">1441.80268 (+ 1.23 ppm)</text>
<text transform="translate(380.75 226) rotate(-90)" font-size="13.5" fill="#4c4c4c" stroke="#4c4c4c" stroke-width="0.3" textLength="67" lengthAdjust="spacingAndGlyphs">1515.74624</text>
<text transform="translate(393.95 226.8) rotate(-90)" font-size="13.5" fill="#4c4c4c" stroke="#4c4c4c" stroke-width="0.3" textLength="67.1" lengthAdjust="spacingAndGlyphs">1556.86459</text>
<text transform="translate(410.35 227.3) rotate(-90)" font-size="13.5" font-weight="bold" fill="#000" stroke="#000" stroke-width="0.35" textLength="141.6" lengthAdjust="spacingAndGlyphs">1610.87666 (+1.18 ppm)</text>
<text transform="translate(465.85 238) rotate(-90)" font-size="13.5" fill="#4c4c4c" stroke="#4c4c4c" stroke-width="0.3" textLength="65.8" lengthAdjust="spacingAndGlyphs">1791.89861</text>
<text transform="translate(477.75 229.8) rotate(-90)" font-size="13.5" fill="#4c4c4c" stroke="#4c4c4c" stroke-width="0.3" textLength="66" lengthAdjust="spacingAndGlyphs">1831.99993</text>
<text transform="translate(532.65 242.5) rotate(-90)" font-size="13.5" fill="#4c4c4c" stroke="#4c4c4c" stroke-width="0.3" textLength="65.6" lengthAdjust="spacingAndGlyphs">2012.96742</text>
<text transform="translate(576.55 247.5) rotate(-90)" font-size="13.5" fill="#4c4c4c" stroke="#4c4c4c" stroke-width="0.3" textLength="66.1" lengthAdjust="spacingAndGlyphs">2160.10860</text>
<path d="M73 558.49V560.46M73.53 558.55V560.36M74.12 558.67V560.29M74.67 558.76V560.19M75.46 558.46V560.26M76.04 558.96V560M76.64 558.76V560.44M77.31 558.84V560M77.85 558.68V560.49M78.4 558.46V560.39M79.18 558.52V560.39M79.97 558.4V560.06M80.68 558.68V560.25M81.46 558.65V560.41M82.23 558.41V560.21M83 558.5V560.23M83.6 558.51V560.06M84.18 558.38V560.13M84.89 558.61V560.24M85.57 558.72V560.07M86.35 558.53V560M87.07 558.35V560.06M87.58 558.5V560.11M88.35 558.81V560.24M88.92 558.74V560.43M89.64 558.84V560.15M90.34 557.43V560.47M90.84 558.7V560.4M91.4 556.74V560.16M91.94 558.82V560.14M92.67 557.73V560.13M93.4 558.38V560.45M94.16 558.39V560.21M94.85 558.62V560M95.62 558.73V560.27M96.27 558.72V560.48M96.95 558.54V559.95M97.49 558.76V559.95M98.02 558.4V560.22M98.8 558.16V560.06M99.38 558.41V560.29M100.09 558.61V560.17M100.59 558.75V560.16M101.31 558.61V559.98M101.88 558.62V560.23M102.47 558.34V560.05M103.26 558.28V560.17M103.94 558.71V560.16M104.49 558.68V560.39M105.15 558.13V560.28M105.94 558.48V559.92M106.47 558.52V560.41M106.98 558.42V560.16M107.54 558.32V559.95M108.15 558.09V559.95M108.71 558.32V560.14M109.43 558.43V559.98M109.96 558.13V560.29M110.67 558.67V560.3M111.38 558.34V560.12M112.12 558.49V560.22M112.91 558.12V560.47M113.5 558.5V560.2M114.13 558.19V560.46M114.87 558.58V560.11M115.42 558.36V559.93M116.18 557.96V560.29M116.77 558.47V560.31M117.41 558.27V559.96M118.19 558.1V559.94M118.9 558.43V560.45M119.62 558.33V560.51M120.29 557.29V560.16M121.05 558.47V560.2M121.67 558.09V560.48M122.32 557.91V560.09M123.01 558.04V560.42M123.7 558.29V560.3M124.39 558.56V560.17M125.16 556.46V560.4M125.87 558.12V560.46M126.4 557.96V560.37M127.13 558.12V559.99M127.67 558.1V560.15M128.34 558.19V559.99M128.86 558.53V560.18M129.56 557.97V560.18M130.16 557.73V560.19M130.88 558.38V560.35M131.51 558.01V560.38M132.05 558.38V560.11M132.63 558.49V560.22M133.24 558.09V560.1M134.01 558.26V560.29M134.67 557.8V559.89M135.26 557.99V560.38M135.88 557.84V559.9M136.49 558.06V560.42M137.18 558.22V560M137.75 558.24V560.5M138.5 558.16V560.09M139.02 558.09V559.95M139.61 557.76V560.47M140.3 557.72V560.06M140.87 558.28V560.3M141.48 557.81V559.99M142.17 558.11V560.4M142.93 557.69V560.18M143.72 557.83V560.35M144.5 557.81V560.51M145.18 557.87V560.08M145.74 557.64V560.07M146.5 558.23V560.5M147.01 558.1V560.07M147.78 557.77V560.12M148.35 557.7V560.09M149.04 558.24V560.04M149.57 558.24V559.95M150.2 558.15V560.05M150.77 557.85V560.05M151.5 558.29V559.91M152.13 557.7V559.9M152.88 558.05V560.36M153.5 557.51V560.09M154.18 558.06V560.41M154.86 557.87V560.52M155.61 557.93V560.1M156.13 558.21V560.53M156.91 557.73V560.47M157.5 557.63V559.79M158.1 558.14V559.89M158.63 555.9V560.27M159.2 557.87V560.2M159.86 558.21V559.93M160.6 557.82V560.3M161.14 557.84V559.88M161.68 558.07V559.82M162.29 557.72V560.43M163.01 557.81V560.48M163.54 557.55V560.25M164.15 557.98V560.1M164.77 557.55V560.39M165.41 557.97V560.36M165.98 557.61V560.31M166.49 557.74V559.92M167.16 557.65V560.25M167.87 557.79V559.8M168.62 556.74V560.23M169.15 557.64V560.18M169.94 557.34V560.46M170.53 557.99V560.4M171.11 557.39V560.2M171.74 557.54V560.11M172.27 557.55V559.97M172.84 557.86V560.18M173.49 557.34V559.91M174.2 557.45V560.1M174.81 557.72V559.95M175.45 557.96V560.12M176.04 557.97V560.23M176.61 557.58V560.27M177.31 557.84V559.9M177.9 558.1V560.44M178.5 557.82V559.94M179.1 557.71V560.07M179.61 557.58V559.84M180.29 557.75V559.78M181.06 557.5V560.13M181.84 557.94V559.97M182.61 557.89V560.31M183.29 557.43V560.16M183.86 558V560.27M184.54 557.7V560.08M185.16 557.61V560.03M185.73 557.56V560.4M186.51 557.42V559.76M187.13 557.56V559.8M187.79 557.3V560.2M188.51 557.81V559.73M189.05 557.88V559.98M189.73 557.41V560.51M190.4 557.92V560.27M190.94 557.71V560.27M191.72 557.66V559.99M192.41 557.88V560.37M193.19 557.38V560.39M193.84 557.06V559.72M194.59 557.96V560.27M195.31 557.15V559.76M195.99 557.54V560.05M196.54 557.91V560.2M197.29 557.3V559.94M197.8 557.7V560.37M198.42 557.07V559.78M198.94 556.72V559.85M199.59 557.65V560.25M200.25 557.41V560.03M200.78 557.5V560.08M201.58 557.36V560.13M202.21 556.99V560.38M202.76 557.33V559.79M203.26 557.21V560.54M203.93 557.65V560.07M204.56 557.63V559.87M205.35 556.22V560.22M206.1 556.93V560.16M206.8 557.63V560.3M207.56 557.41V560.26M208.22 557.41V560.52M208.85 557.36V560.47M209.54 556.91V559.77M210.23 557.4V560.53M210.85 557.23V560.35M211.45 557.05V559.97M212.15 557.19V560.03M212.95 557.03V560.02M213.62 557.42V560.24M214.39 557.15V560.26M214.9 557.36V559.75M215.51 557.21V560.32M216.26 557.48V559.72M216.88 556.88V560.06M217.39 557.77V560.1M217.9 557.46V560.09M218.69 556.91V560.23M219.26 557.17V559.79M220.01 557.2V560.31M220.59 557.26V560.17M221.35 556.77V559.81M222.09 557.03V559.85M222.66 556.88V560.18M223.21 557.34V560.08M223.76 557.55V560.29M224.52 557.12V560.37M225.08 557.02V559.63M225.81 557.54V559.8M226.57 557.72V560.46M227.24 557.24V559.74M227.79 556.89V560.46M228.58 557.66V559.76M229.1 556.88V560.12M229.69 557.68V560.47M230.31 557.58V560.18M230.87 557.66V559.94M231.42 557.46V560.21M232.16 557.02V560.43M232.93 557.66V559.73M233.67 557.15V560.5M234.45 557.03V559.95M235.17 556.95V560.14M235.86 556.91V560.44M236.41 556.89V560.56M237.05 557.35V559.67M237.84 557.53V560.4M238.44 556.75V559.75M239.11 556.71V560.12M239.89 557.03V560.36M240.49 557.54V559.78M241.12 556.93V560.42M241.89 556.93V559.93M242.68 556.92V559.64M243.29 557.16V560.35M243.87 557.03V560.49M244.62 556.83V559.77M245.31 556.84V560.12M245.96 557.34V560.04M246.49 557.34V559.93M247.16 556.78V559.84M247.76 557.34V559.72M248.54 556.67V559.75M249.08 556.24V560.01M249.78 555.21V559.77M250.4 557.22V559.73M250.98 557.28V559.81M251.72 557.22V559.99M252.47 556.71V560.57M253.21 557.22V560.16M253.89 555.58V559.64M254.65 557.03V559.66M255.3 557.01V560.22M255.87 556.63V560.31M256.5 556.44V560.47M257.27 557.34V559.64M257.81 556.94V560.32M258.37 556.63V559.61M259.14 556.9V559.87M259.86 556.61V560.48M260.53 556.57V560.07M261.12 557.2V559.58M261.74 556.46V559.61M262.3 557.12V559.86M262.99 556.01V559.74M263.78 556.97V560.25M264.3 557.11V559.98M264.91 556.69V559.69M265.5 556.72V559.73M266.13 556.51V560.56M266.63 557.04V560.56M267.36 556.91V560.53M268.04 556.02V559.65M268.76 556.47V560.35M269.27 556.2V559.81M270.05 556.4V559.65M270.75 556.67V559.97M271.52 556.38V560.29M272.03 557.1V559.79M272.59 556.64V560.25M273.36 557.41V560.55M274.05 557.08V560.27M274.62 557.25V560.37M275.15 556.82V559.73M275.73 557.29V560.4M276.43 557.05V560.35M277.23 557.33V559.86M277.87 556.61V560.17M278.66 556.64V560.59M279.35 557.25V560.1M279.92 556.63V559.66M280.61 556.79V559.68M281.22 556.58V559.98M281.82 556.98V559.66M282.46 556.96V559.51M282.97 557.2V559.83M283.76 556.44V559.73M284.27 557.2V559.63M284.94 556.58V560.54M285.67 557.12V560.5M286.41 557.22V560.29M287.08 556.99V560.35M287.81 556.95V560.31M288.51 557.27V559.51M289.21 556.12V560.01M289.88 556.28V560.57M290.48 557.2V560.48M291.21 556.24V559.68M291.84 556.26V560.44M292.42 556.52V560.46M293.09 557V560.44M293.74 556.47V559.85M294.38 556.74V560.3M295.09 556.19V560.39M295.78 556.2V559.55M296.44 556.76V559.62M297.17 556.16V560.59M297.93 556.23V559.67M298.69 556.31V559.79M299.31 556.7V560.3M299.85 556.44V559.55M300.6 556.09V559.76M301.15 556.6V559.87M301.78 556.53V560.44M302.37 557.2V559.71M303.11 556.04V559.72M303.77 556.59V560.56M304.28 556.69V560.07M304.94 556.17V559.58M305.69 556.97V559.66M306.23 556.5V559.61M306.84 556.2V560.16M307.52 556.67V560.58M308.21 557.08V559.75M309 556.28V559.52M309.56 556.41V559.68M310.29 556.54V560.15M310.97 556.62V559.83M311.55 556.81V560.39M312.26 556.28V559.99M312.86 557.13V560.44M313.58 555.96V559.92M314.27 556.02V559.78M315.05 556.79V559.47M315.75 556.84V560.55M316.52 556.66V560.52M317.05 556.24V559.79M317.8 556.77V560.02M318.53 556.76V560.1M319.2 556.38V559.95M319.82 555.81V560.05M320.44 556.1V560.24M321.07 556.49V560.43M321.84 556.02V559.46M322.5 556.25V560.48M323.25 557.05V560.42M323.76 556V560.58M324.49 556.54V559.72M325.23 556.7V559.87M325.81 555.2V559.43M326.55 556.3V560.33M327.31 556.27V559.45M327.94 556.87V559.79M328.73 555.76V560.23M329.36 556.93V559.96M330.02 555.94V559.9M330.76 555.81V559.93M331.53 556.35V559.74M332.29 555.7V559.87M332.86 556.6V559.67M333.55 556.92V559.52M334.34 556.53V560.39M334.9 555.73V559.5M335.56 556.53V560.32M336.13 556.57V560M336.82 555.94V559.82M337.45 556.92V559.92M338.01 555.79V560.13M338.59 556.78V559.74M339.3 556.04V559.44M340.01 556.03V560.04M340.8 556.16V559.93M341.54 556.02V560.35M342.22 555.47V560.1M342.94 555.7V559.99M343.5 556.9V560.07M344.11 556.11V560.32M344.71 556.12V560.17M345.39 554.83V560.39M345.94 556.66V560.22M346.54 556.79V559.45M347.07 555.95V559.63M347.7 555.93V560.4M348.26 556.7V560.08M348.98 556.59V560.24M349.56 556.63V560.32M350.22 555.74V559.41M350.82 556.53V560.41M351.45 556.27V559.55M351.95 556.17V560.16M352.74 556.4V560.58M353.28 556.12V560.23M353.79 556.29V559.99M354.52 555.82V559.48M355.23 555.75V560.2M355.95 556.29V560.42M356.63 556.01V560.32M357.27 555.73V559.9M358.04 556.08V559.55M358.61 556.52V559.42M359.23 555.67V559.58M359.96 556.77V559.88M360.69 556.38V559.53M361.25 555.03V559.5M361.76 555.77V560.32M362.36 556.73V560.27M363.03 555.4V559.66M363.66 556.03V559.87M364.32 556.73V560.4M364.92 556.1V560.11M365.46 556.23V560.15M366.03 555.64V560.59M366.69 556.54V559.96M367.28 556.14V559.92M367.97 556.33V560.53M368.56 556.65V559.37M369.19 556.57V559.4M369.75 555.43V559.8M370.35 555.8V559.52M370.89 556.64V560.07M371.39 555.47V559.71M371.9 556.22V559.44M372.54 556.48V560.49M373.27 556.37V560.27M374 556.44V560.57M374.52 555.38V559.73M375.09 556.59V560M375.79 555.77V559.8M376.44 556.48V560.09M377.11 556.46V559.65M377.81 556.65V559.87M378.57 556.5V560M379.19 555.29V559.65M379.78 556.26V559.41M380.48 555.45V559.95M381.18 555.3V560.05M381.83 555.41V560.4M382.56 555.56V559.49M383.2 556.62V560.4M383.92 555.23V560.33M384.61 555.87V560.33M385.2 555.45V559.5M385.98 556.3V560.5M386.7 556.4V559.37M387.38 555.3V560.06M387.99 555.87V560.26M388.59 555.61V559.77M389.11 556.01V560.12M389.75 555.46V559.91M390.41 555.19V559.74M391.14 556.15V560.37M391.69 555.78V560.05M392.27 555.1V559.97M392.9 555.76V559.68M393.65 555.56V559.7M394.31 556.47V560.12M395.02 555.87V559.45M395.69 555.52V560.49M396.23 555.11V560.01M396.91 555.2V560.1M397.6 555.12V560.31M398.22 556.23V559.55M398.89 555.5V559.92M399.51 556.52V560M400.08 555.41V559.55M400.72 555.09V560.12M401.28 555.2V560.64M401.95 556.28V560.49M402.73 555.36V559.81M403.24 556.36V560.04M403.83 556.5V559.33M404.44 555.15V560.22M405.17 555.46V560.32M405.9 555.64V560.16M406.53 555.24V560.37M407.29 555.7V559.36M408.05 555.85V559.86M408.61 555.7V559.87M409.31 556.21V560.33M409.93 556.22V560.11M410.67 555.26V559.75M411.35 555.91V559.28M412.12 555.78V560.54M412.8 555.9V560.15M413.51 556.19V559.66M414.14 555.86V560.57M414.8 556.3V560M415.52 555.04V560.09M416.28 555.01V560.61M416.98 556.25V559.63M417.74 555.59V559.71M418.33 556.08V559.55M419.11 556.2V560.44M419.83 556.09V560M420.54 555.06V559.34M421.15 555.85V560.63M421.9 555.48V560.34M422.47 555.52V560.63M423.1 555.91V560.45M423.64 555.9V560.16M424.15 553.98V559.66M424.85 554.18V559.39M425.5 556.45V560.04M426.15 555.39V559.57M426.86 556.04V560.12M427.57 556.1V559.86M428.31 556.18V560.37M428.95 556.03V559.5M429.57 556.14V560.38M430.2 556.28V559.3M430.84 555.46V559.46M431.36 555.17V559.27M432.15 556.15V559.66M432.66 555.73V559.99M433.3 556.18V559.85M433.81 555.86V560.42M434.6 555.16V560.65M435.2 555.27V559.46M435.95 555.62V560.33M436.7 556.21V559.72M437.48 556.26V559.64M438.05 555.84V559.5M438.79 555.86V560.65M439.39 556.32V560.26M439.96 556.42V559.65M440.67 555.41V560.23M441.43 555.71V560.55M442.14 555.09V560.63M442.92 555.79V559.69M443.53 555.05V559.71M444.06 555.32V560.56M444.61 555.25V560.44M445.25 555.85V560M446.02 555.91V560.6M446.66 555.12V559.58M447.44 555.13V560.46M448.13 555.21V559.59M448.87 555.66V560.09M449.37 554.65V560.48M449.96 556.04V559.31M450.57 555.4V560.39M451.12 555.6V560.55M451.83 556.07V559.67M452.58 555.58V559.51M453.09 555.27V560.03M453.78 555.85V559.94M454.52 556.11V560.61M455.08 554.99V559.62M455.64 555.07V560.47M456.35 555.23V560.14M457.08 555V560M457.69 555.7V560.2M458.42 555.16V559.53M459.19 555.59V559.29M459.74 555.66V560.52M460.46 556.36V559.59M461.26 556.06V559.46M461.99 555.27V559.99M462.67 554.63V560.43M463.35 555.41V559.57M463.96 555.49V559.32M464.71 555.42V560.39M465.38 555.08V559.5M466.12 555.22V560.53M466.82 555.38V559.55M467.56 556.01V559.77M468.28 556.26V559.41M469.01 555.05V559.47M469.78 556.24V560.45M470.52 556.01V560.24M471.18 555.99V559.94M471.97 555.65V560.05M472.6 554.96V560.5M473.38 554.81V559.25M473.91 555.05V559.43M474.47 556.04V559.69M475.04 556.06V560.35M475.72 555.61V560.24M476.28 556.15V560.43M476.86 555.45V560.59M477.46 555.82V559.88M478.13 555.49V559.68M478.77 555.09V560.52M479.33 554.88V559.66M479.97 556.19V559.97M480.51 554.83V559.81M481.17 556.19V559.7M481.76 555.18V559.63M482.48 555.43V559.89M483.01 555.53V559.72M483.54 556.2V559.7M484.26 555.34V559.59M484.96 556.15V560.35M485.73 555.64V559.88M486.27 554.99V560.08M486.79 555.89V559.44M487.4 554.86V559.9M488.03 555.68V559.32M488.67 554.44V560.31M489.34 555.01V559.94M489.98 554.66V560.01M490.72 555.44V559.72M491.34 554.79V560.52M492.08 555.93V560.56M492.58 555.3V559.77M493.11 555.77V560.58M493.77 555.25V559.38M494.39 555.75V559.89M494.91 555.86V560.4M495.6 556.23V560.17M496.16 555.91V560.65M496.76 556.15V559.82M497.36 555.64V559.38M497.89 554.99V560.45M498.56 555.68V560.21M499.17 555.15V559.71M499.81 556.3V559.92M500.36 555.6V560.02M500.87 555.16V559.33M501.65 555.29V559.24M502.29 554.87V559.84M503.01 555.13V560.64M503.74 553.41V559.49M504.43 554.91V560.44M505.01 554.94V560.02M505.79 556.26V559.57M506.35 555.67V560.54M507 555.61V560.6M507.62 556.14V559.59M508.42 555.13V559.46M509.1 555.48V560.06M509.66 555.33V560.06M510.28 555.93V559.53M511.02 555.8V560.41M511.64 556.12V560.56M512.44 555.64V559.93M512.96 555.7V559.33M513.49 555.3V559.99M514.24 555.28V560.37M514.98 555.27V560.42M515.68 554.82V559.22M516.33 555.46V559.54M517 555.69V559.21M517.54 554.67V559.33M518.27 554.66V560.28M518.96 554.82V560.44M519.75 555.33V559.8M520.43 555.37V559.65M521.06 554.86V559.38M521.71 555.38V559.24M522.25 555.19V560.33M522.9 554.93V560.35M523.55 554.95V559.99M524.18 556.05V560.55M524.85 555.16V559.92M525.37 555.54V559.31M526 556.13V559.72M526.59 554.71V559.63M527.1 555.1V559.83M527.87 555.82V560.23M528.43 555.54V559.22M528.96 556.05V559.87M529.51 555.98V559.61M530.3 555.74V559.23M531.07 555.84V560.65M531.65 556.11V559.61M532.24 555.61V560.26M532.76 556.08V560.46M533.38 555.11V560.63M534.1 555.23V560.37M534.67 555.35V560.11M535.35 555.48V559.75M535.96 555.63V560.65M536.6 556.21V559.62M537.25 555.11V560.54M538.03 554.82V559.49M538.54 555.18V560.53M539.31 555.29V560.34M539.89 556.07V559.38M540.42 554.96V559.58M541.21 556.14V560.04M541.85 556.17V559.93M542.51 555.24V559.99M543.11 555.42V559.73M543.89 556.04V559.42M544.48 554.8V560.44M545.17 555.58V560.3M545.86 554.19V560.55M546.65 555.83V560.13M547.27 554.66V559.31M547.81 555.94V559.51M548.5 555.36V560.38M549.29 555.64V559.97M549.88 554.69V559.74M550.5 555.99V559.7M551.26 555.27V559.26M551.95 555.17V559.56M552.61 555.77V560.41M553.13 554.94V559.85M553.77 554.77V559.31M554.54 555.47V560.64M555.25 555.3V560.25M555.98 555.79V559.81M556.48 555.02V560.08M557.23 554.98V560.32M557.82 555.09V559.56M558.56 555.34V560.47M559.2 555.53V559.59M559.73 554.81V559.54M560.27 555.59V559.67M560.87 555.81V559.89M561.52 555.54V559.99M562.13 555.01V559.82M562.75 554.85V560.66M563.47 556.08V560.2M564.02 554.89V560.4M564.65 554.76V559.47M565.44 555.55V559.96M566.17 555.57V559.6M566.88 555.21V560.24M567.59 555.21V560.11M568.23 556V559.86M568.9 555.34V560.09M569.7 555.88V560.14M570.43 555.86V559.55M571.12 555.61V560.4M571.7 555.37V559.49M572.49 554.95V560.03M573.27 554.7V560.42M573.79 555.61V559.9M574.36 554.68V559.91M575.12 555.71V559.46M575.66 556.09V559.21M576.41 555.49V559.87M577 555.57V559.75M577.71 555.21V559.33M578.44 555.33V560.46M579.11 555.7V560.09M579.84 555.7V560.66M580.63 555.48V559.45M581.36 555.04V559.18M582.15 555.23V559.26M582.88 554.61V559.33M583.42 554.34V559.98M584.04 554.94V560.66M584.62 554.97V559.85M585.38 554.86V559.81M586.09 555.11V560.17M586.81 555.72V560.39M587.43 556.02V560.42M588.12 555.56V559.25M588.78 554.25V560.4M589.55 555.93V560.6M590.16 555.38V560.4M590.9 555.03V560.11M591.61 555.2V559.7M592.14 555.62V559.48M592.68 555.77V559.77M593.39 555.6V560.34M594.11 554.86V559.7M594.62 554.67V560.25M595.22 555.82V560.27M595.99 555.53V560.47M596.57 554.74V559.26M597.19 555.14V559.42M597.96 554.87V559.32M598.49 555.75V559.58M599.08 554.5V559.27M599.77 554.76V559.88M600.32 554.45V560.46M601.09 554.53V559.44M601.73 555.86V560.39M602.53 555.86V560.44M603.04 555.8V560.33M603.76 554.97V559.8M604.37 555.95V559.36M605.14 554.54V559.57M605.69 554.96V559.31M606.48 554.83V560.19M607.23 555.23V560.51M607.95 555.66V560.36M608.46 555.31V560.21M609.21 555.52V559.86M610 555.86V559.16M610.51 554.31V559.7M611.02 555.93V559.91M611.74 554.6V559.17M612.26 555.43V559.51M612.79 554.7V559.64M613.55 555.39V559.37M614.16 555.94V560.16M614.87 555.3V559.23M615.59 555.06V559.35M616.25 554.84V559.23M617.04 554.68V560.16M617.72 554.88V559.51M618.31 555.93V559.86M619.02 555.6V559.75M619.8 555.27V559.89M620.5 554.53V559.66M621.15 554.86V560.26M621.71 554.39V559.2M622.24 554.89V559.84M622.79 555.88V559.15M623.53 555.42V559.94M624.12 554.79V559.13M624.9 555.49V559.89M625.49 554.92V560.45M626.13 555.91V559.19M626.87 555.12V560.61M627.59 555.39V560.26M628.2 555.69V559.13M628.93 554.58V559.77M629.61 555.55V559.82M630.36 554.81V559.19M631.07 555.91V560.66M631.72 555.38V559.13M632.43 555.64V559.23M633.17 555.46V560.05M633.73 555.02V559.35M634.37 554.47V559.8M635 555.25V560.35M635.51 554.89V559.36M636.11 555.19V559.49M636.7 552.93V559.56M637.32 555.94V560.09M637.94 554.83V560.67M638.63 554.3V559.58M639.16 554.84V559.95M639.81 554.78V559.28M640.47 554.81V560.31M641.23 554.75V559.52M641.95 554.44V559.64M642.65 554.36V560.08M643.3 555.15V559.43M643.97 555.26V560.07M644.74 555.38V559.64M645.42 554.28V560.35M646.21 554.78V559.21M646.85 555.06V560.65M647.57 554.56V559.12M648.21 554.05V560.56M649 555.39V559.16M649.53 554.33V559.93M650.25 555.08V559.98M651.04 554.46V560.51M651.82 555.56V560.33M652.38 554.73V559.91M653.04 555.27V560.03M653.77 555.47V559.68M654.55 554.27V559.47M655.21 555.76V560.12M655.77 555.45V560.17M656.31 554.71V560.48M657.11 555.51V559.41M657.74 554.77V559.95M658.25 555.83V559.24M658.77 555.3V559.32M659.47 554.56V560.28M660.03 555.17V560.64M660.78 555V559.6M661.3 554.83V560.31M661.82 554.88V559.6M662.33 555.13V559.88M662.91 554.66V560.01M663.55 554.86V560.05M664.33 554.24V559.32M665 555.71V559.52M665.62 555.35V559.23M666.35 555.54V559.36M667.07 555.72V560.22M667.64 555.53V560.04M668.2 555.82V559.77M668.74 554.53V559.2M669.32 555.73V559.71M669.93 554.82V559.84M670.49 554.88V560.45M671.06 554.74V559.65M671.58 554.59V559.77M672.34 555.69V560.43M672.91 553.48V560.48M673.51 555.08V559.38M674.27 555.43V559.75M674.88 555.56V559.66M675.54 553.74V560.08M676.34 554.4V560.13M676.94 555.85V559.47" stroke="#747474" stroke-width="0.6" fill="none"/>
<path d="M73 558.65V560.32M73.56 558.94V560.12M74.6 558.91V560.17M75.28 558.51V559.88M76 558.46V560.36M76.59 558.81V560.73M77.73 558V560.53M78.8 558.05V560.75M79.51 558.91V560.3M80.57 558.92V560.57M81.27 558.72V560.47M82.18 557.82V560.9M83.1 558.6V560.8M84 558.17V560.9M85 558.16V560.62M85.99 558.58V559.86M86.91 557.91V560.6M87.47 559V560.1M88.03 558.28V560.08M88.65 557.98V560.9M89.57 557.66V560.73M90.71 557.72V560.9M91.62 558.5V559.58M92.27 559.02V560.46M93.35 557.97V560.9M94.29 557.78V560.61M94.86 558.36V560.17M95.88 558.65V559.98M96.5 558.17V560.1M97.37 557.36V560.63M98.28 557.97V560.4M99.43 558.5V559.67M100.13 557.84V560.9M101.01 557.73V560.36M102.12 558.73V560.2M103.02 558.16V560.69M103.77 558.35V560.38M104.76 557.71V560.39M105.87 558.45V560.07M106.57 557.94V560.42M107.43 558V560.11M108.12 558.15V560.02M109.09 558.47V560.04M109.65 557.84V560.27M110.58 558.2V559.95M111.54 557.74V560.2M112.4 557.93V560.29M113.03 558.32V560.2M113.69 557.62V560.8M114.74 557.81V560.75M115.72 558.48V560.02M116.44 558.55V559.81M117.34 557.94V560.57M117.91 558.29V560.89M118.79 557.71V560.45M119.47 558.88V560.34M120.31 557.38V560.75M121 558.72V559.91M122.1 558.24V560.9M122.71 558.37V559.7M123.5 558.94V560.11M124.11 558V560.22M124.79 557.69V560.66M125.62 557.73V560.51M126.58 557.61V560.71M127.59 558.2V560.59M128.25 557.98V560.82M129.16 558.1V560.45M130.13 557.9V560.05M131.23 558.2V560.88M131.79 558.56V559.71M132.87 557.88V560.73M133.78 557.67V560M134.82 557.45V560.34M135.45 557.88V560.02M136.03 557.89V560.19M136.9 558.02V560.9M137.59 558.29V560.72M138.63 557.76V559.79M139.38 557.51V560.76M139.97 558.3V559.59M140.98 557.97V560.28M141.87 557.62V560.06M142.79 558.63V560.19M143.63 558.5V559.69M144.65 557.41V560.25M145.36 557.64V560.9M145.95 557.43V560.31M146.65 557.85V559.86M147.62 558.11V560.73M148.28 558.5V559.63M149.22 558.56V560.05M149.79 557.73V560.75M150.9 556.97V560.25M151.9 558.22V559.34M152.95 557.56V559.68M153.72 558.43V559.81M154.59 558.27V560.28M155.19 558.23V560.06M156.29 558.12V559.57M157.14 558.33V559.51M158.05 557.13V560.53M158.69 557.48V559.81M159.68 558.05V560.86M160.78 557.53V560.5M161.58 557.51V560.51M162.15 558.08V560.35M163.15 558.44V559.51M164.11 557.22V559.81M165.2 558.01V560.04M166.18 557.01V560.37M166.75 558.84V559.94M167.83 557.69V560.11M168.57 557.45V560.9M169.21 558.32V559.7M170.22 557.58V559.44M170.9 558.43V559.98M171.99 558.62V559.92M173.12 557.87V560.82M174.1 557.92V559.55M174.84 557.89V560.9M175.49 557.28V560.03M176.34 558V559.35M177.04 557.89V559.58M177.77 557.51V560.58M178.67 558.01V559.46M179.26 558.67V560.22M180.19 558.12V559.38M181.14 558.44V559.55M182.09 558.36V560.34M182.91 557.92V560.86M183.97 557.29V560.42M184.72 557.63V559.42M185.42 556.85V560.39M186.02 558.27V560.05M186.81 558.13V560.71M187.74 558.64V559.81M188.5 556.76V560.09M189.45 557.98V560.51M190.04 557.18V560.48M191.16 558.69V559.81M192.26 557.46V560.21M192.86 557.89V560.87M193.75 558.19V560.22M194.5 557.91V559.28M195.51 557.51V560.31M196.53 557.6V559.9M197.39 556.8V560.27M198.39 557.73V559.38M199.45 557.43V559.63M200.14 558.09V559.48M200.88 556.96V559.7M201.8 556.8V560.25M202.93 558.43V560.18M203.93 558.37V559.71M204.73 557.88V560.59M205.31 557.1V559.48M206.41 557.29V560.9M207.13 556.85V560.02M207.95 557.82V560.7M208.68 558.75V559.85M209.81 557.91V560.6M210.44 557.83V558.98M211.29 556.58V559.88M212.15 558.24V560.16M212.98 558.24V559.3M213.59 558.11V559.65M214.66 558.23V559.91M215.53 558.26V559.7M216.49 557.66V558.68M217.4 557.24V560.01M218.04 558.13V560.24M219.06 558.29V560.06M219.73 557.34V559.83M220.87 557.89V559.37M221.9 557.36V560.9M222.98 557.41V559.5M223.68 557.33V560.79M224.45 558.27V559.36M225.03 557.91V559.7M225.8 556.35V560.11M226.83 558.14V560.11M227.46 556.42V560.03M228.29 556.52V560.12M229.38 556.65V559.93M230.03 557.38V558.97M230.98 557.57V559.64M231.99 556.67V559.88M232.97 557.85V558.94M233.7 557.84V559M234.26 558.43V559.43M235.41 557.06V559M236.3 558.34V559.91M236.99 557.77V560.73M237.61 558.28V559.64M238.42 557.95V559.79M239.49 557.33V558.73M240.43 557.81V560.67M241.37 557.78V559.88M242.14 558.21V559.47M243.28 557.62V559.57M243.95 557.21V560.52M244.7 557.22V559.61M245.35 558.57V559.71M246.32 557.41V560.64M246.91 557.71V558.72M247.94 556.88V560.69M248.55 558V560M249.5 558.31V560.08M250.48 557.51V558.6M251.27 556.5V559.69M252.15 557.55V558.88M252.98 557.53V560.49M254.05 556.77V560.22M254.78 558.15V560.26M255.86 557.58V560.33M256.63 557.07V559.32M257.7 557.28V560.22M258.48 556.72V559.85M259.11 556.69V559.31M260.22 557.14V558.57M261.11 556.69V560M261.99 558.05V559.17M262.74 557.01V559.41M263.42 556.1V559.6M264.25 557.53V559.22M264.84 556.49V559.82M265.92 557.07V560.7M267.03 557.53V559.58M267.66 557.87V560.05M268.59 557.02V559.19M269.15 557.7V559.03M269.99 557.64V560.64M270.74 557.28V558.57M271.69 555.81V559.78M272.4 557.84V559.47M273.38 556.94V560.62M274.39 556.78V560.21M275.17 557.29V558.5M275.79 557.13V559.49M276.88 556.97V560.75M277.54 556.49V559.15M278.35 556.83V560.43M279.33 558.13V559.23M280.33 556V559.61M281.07 557.08V559.26M282.19 556.51V559.8M283.34 556.57V559.14M283.93 556.98V558.79M285.07 558.33V559.34M286.18 557.95V558.98M287.09 556.82V559.61M288.23 556.9V558.85M289.1 557.94V559.52M290.17 557.69V558.74M291.31 557.46V558.91M292.22 557.75V559.78M292.94 556.97V560.11M293.81 556.95V560.31M294.46 557.34V560.7M295.32 556.77V558.73M296.24 557.68V559.31M297.25 555.79V559.6M297.94 557.56V560.36M298.59 557.01V558.83M299.17 556.92V559.48M299.78 556.61V559.64M300.81 558.16V559.33M301.59 557.15V559.03M302.72 556.96V559.94M303.42 556.27V559.97M304.38 557.42V560.2M304.96 558.27V559.74M305.64 556.7V559.64M306.55 556.73V559.91M307.14 556.89V558.85M308.14 557.47V559.17M309.12 556.32V559.81M309.77 555.87V559.3M310.4 557.41V560.27M311.22 555.91V559.36M311.78 557.44V559.51M312.71 556.35V558.97M313.51 557.08V558.12M314.2 557.81V558.91M314.81 556.33V559.16M315.93 556.53V559.07M316.55 557.06V558.6M317.49 556.39V560.26M318.45 555.6V559.6M319.22 556.74V560.79M320.06 556.98V560.42M320.65 556.71V560.2M321.7 556.18V558.86M322.51 558.29V559.54M323.26 556.8V559.5M323.96 556.14V559.39M325.07 556.55V559.4M325.85 555.73V559.8M326.8 557.05V560.9M327.65 557.05V560.02M328.78 556.19V558.83M329.85 557.5V558.63M330.63 556.35V560.38M331.29 556.82V558.74M331.95 556.21V559.92M332.79 555.87V559.87M333.62 555.96V559.42M334.26 557.86V559.03M335.15 557.67V559.53M335.91 556.87V560.23M336.93 556.08V560.08M337.79 557.33V558.73M338.78 556.36V559.83M339.9 556.74V559M340.88 556.81V560.78M341.65 556.23V559.28M342.69 557.83V559.66M343.49 557.33V559.13M344.08 557.28V559.11M344.97 556.52V559.17M346.07 556.52V558.48M346.64 556.48V560.23M347.69 558.1V559.73M348.32 556.68V560.05M349.39 557.62V559.2M350.19 556.49V559.92M351.25 556.82V560.82M352.2 557.18V559.55M353.17 555.94V559.85M353.9 557.1V559.2M354.76 557.47V559.3M355.58 556.58V559.8M356.49 557.79V559.14M357.31 556.2V559.98M358.24 556.69V558.52M358.87 556.65V558.52M359.82 555.99V559.87M360.68 557V560.15M361.77 556.81V558.87M362.84 557.1V559.52M363.88 556.76V558.43M364.78 557.4V559.73M365.33 556.22V560.17M366.24 556.19V558.28M367.39 556.06V559.33M368.04 556.96V559.61M368.62 558.04V559.73M369.46 556V559.27M370.14 555.44V559.28M371.28 555.55V559.51M371.87 558.12V559.5M372.52 557V559.83M373.35 556.4V560.59M374.38 555.63V559.4M375.51 556.9V559.99M376.66 555.83V559.92M377.67 557.18V559.7M378.42 557.51V559.63M379.04 555.79V559.22M379.62 555.61V558.92M380.44 556.57V557.94M381.26 557.91V559.19M382.37 555.01V559.21M383.1 556.51V559.17M383.89 556.31V558.88M384.74 556.94V559.23M385.4 557.59V558.7M386.01 556.29V559.06M386.61 557.05V560.45M387.45 557.01V559.14M388.02 557.31V560.01M389.11 556.89V558.59M390.05 558.02V559.57M390.94 555.66V558.62M391.76 555.66V559.73M392.59 555.97V559.62M393.7 556.59V558.07M394.84 556.48V560.08M395.97 557.22V560.23M396.64 557.1V559.42M397.58 556.55V559.13M398.46 557.11V559.53M399.46 556.39V557.68M400.39 555.51V559.54M401.2 557.35V559.25M402.17 556.83V559.53M403.19 556.03V558.69M403.9 556.08V560.41M404.93 557.39V558.43M405.61 556.34V558.13M406.74 557.01V559.84M407.34 555.85V558.95M408.36 556.79V559.82M409.46 557.23V558.5M410.19 555.41V559.42M411.24 557.19V559.16M412.29 555.31V559.31M413.06 556.26V558.69M414.11 556.28V560.27M414.67 557.58V559.93M415.8 556.96V559.68M416.63 556.56V560.57M417.41 556.49V560.89M418.36 556.13V558.38M419.19 555.47V558.48M419.92 557.6V559.63M420.5 556.85V560.69M421.44 556.52V559.09M422.3 555.44V559.54M422.94 557.47V558.59M424.04 556.59V558.28M425.06 556.03V558.25M425.64 556.85V558.2M426.69 556.19V558.48M427.75 555.39V558.76M428.32 557.77V559.33M429.37 555.84V559.26M430.36 556.83V558.52M431.2 557.42V558.62M431.79 557.79V558.97M432.46 555.49V559.1M433.02 557.52V558.83M433.67 556.17V559.29M434.53 555.67V559.08M435.37 557.9V559.61M436.2 556.29V560.31M436.94 557.47V559.35M437.61 555.97V560.36M438.66 555.77V558.24M439.67 556.44V560.25M440.23 555.7V558.46M440.93 556.39V559.77M441.74 555.78V558.12M442.63 557.07V558.61M443.58 556.32V559.48M444.46 555.41V559.34M445.28 556.08V557.98M446.32 555.93V559.46M447 556.59V558.95M447.85 556.25V560.18M448.68 554.9V559M449.78 557.09V559.51M450.92 556.42V560.63M451.72 557.21V558.85M452.39 556.71V558.77M453.02 554.9V558.91M453.63 556.86V558.19M454.41 557.28V559.2M455.26 554.94V559.02M456.4 557.04V558.84M457.22 557.17V558.28M457.82 555.34V558.8M458.89 556.51V558.72M459.49 556.14V559.47M460.2 556.4V560.71M460.91 556.91V560.19M461.7 556.6V558.75M462.26 556.93V559.08M463.21 556.53V559.24M464.14 556.16V557.6M465.02 557.34V558.88M465.89 555.24V559.57M466.83 556.54V560.29M467.86 557.78V559.4M468.45 556.7V558.74M469.18 555.01V559.18M469.83 557.38V558.64M470.38 557.58V559.71M471.32 556.15V558.04M472.41 555.89V558.54M473.23 556.33V559.36M473.95 556.04V557.7M475.06 557.63V559.01M476.08 557.11V559.22M476.98 555.36V559.37M477.54 555.73V558.46M478.4 556.12V559.63M479.23 555.26V559.56M479.84 556.26V558.94M480.89 554.76V559.18M481.73 555.87V557.89M482.57 557.26V559.47M483.52 555.91V558.57M484.36 556.37V557.63M484.92 555.81V558.29M486.06 556.64V559.59M486.99 556.27V560.44M487.56 557.52V558.94M488.59 555.65V558.9M489.6 556.6V560.28M490.68 556.37V559.87M491.43 556.05V558.49M492.1 555.53V558.5M492.78 557.58V559.02M493.38 555.95V560.17M493.97 556.97V559.73M494.92 557.72V559.06M495.5 557.83V559.32M496.45 556.75V558.37M497.05 556.3V558.84M497.67 556.05V559.6M498.22 555.61V559.17M499.28 556.81V559.39M500.12 556.79V558.3M500.84 557.06V560.21M501.95 557.08V558.95M502.81 556.75V557.85M503.71 556.32V560.37M504.32 555.56V558.37M505.13 557.65V558.93M506.13 556.67V560.4M506.87 556.77V559.21M507.55 556.13V558.24M508.27 556.5V559.39M509.09 557.57V558.58M510.02 554.76V559.18M510.93 557.01V558.5M511.89 557.59V559.76M512.84 556.95V558.27M513.63 555.15V559.54M514.36 556.06V558.4M515.37 555.32V559.6M516.13 556.18V560.65M516.77 556.49V559.36M517.79 557.17V558.31M518.8 556.26V559.79M519.4 557.83V559.46M520.12 556.29V559.05M520.87 557.2V559.58M521.9 557.39V559.41M522.51 557.02V560.34M523.34 555.37V559.12M524.21 554.88V559.19M525.29 555.74V558.08M526.23 556.25V560.4M527.02 554.95V558.83M527.92 555.6V558.07M528.93 556.32V559.64M530.06 556.25V560.23M530.89 556.47V559.82M532.01 556.48V560.42M532.7 555.98V558.55M533.67 556.76V559.51M534.29 556.95V560.28M535.41 555.68V559.14M536.15 557.73V559.04M536.8 554.74V558.77M537.91 555.53V560.07M539 555.96V559.03M539.75 556.19V560.22M540.57 556.18V559.19M541.44 556.14V559.03M542.22 556.72V558.32M543.34 555.83V559.18M544.11 554.96V559.26M545.06 556.83V559.85M545.74 554.87V558.91M546.38 556.95V559.7M547.14 555.47V559.51M548.25 555.69V559.02M549 556.84V558.95M550.09 555.44V558.15M550.86 557.47V558.85M551.46 555.79V559.27M552.07 556.65V558.95M553.06 557.89V559.31M554.16 555.98V559.52M554.85 555.09V559.2M555.84 556.98V560.03M556.91 556.84V560.14M557.68 556.42V559.3M558.53 555.89V558.26M559.6 555.08V559.24M560.58 555.52V558.48M561.41 555.7V559.98M562.05 556.32V560.87M563.13 557.52V559.63M563.83 556.35V558.93M564.97 556.39V559.74M566.05 557.27V559.79M566.82 556.59V558.46M567.79 556.03V557.43M568.91 556.36V559.57M570.03 556.19V558.07M570.81 556.16V558.53M571.74 557V558.08M572.7 556.83V558.92M573.6 557.01V558.07M574.29 557.49V559.67M574.9 556.6V560.52M575.58 555.86V557.56M576.55 557.47V559.65M577.12 554.99V559.21M577.75 554.7V559.23M578.54 555.26V558.6M579.68 554.74V559.11M580.68 557.54V558.63M581.48 556.14V560.15M582.19 554.85V558.77M582.89 556.09V560.01M583.83 555.8V557.66M584.49 555.41V559.56M585.22 554.38V558.95M586.15 555.36V559M586.92 556.36V560.36M587.89 555.13V559.12M588.87 556.44V558.82M589.95 556.61V558.97M590.92 555.17V558.91M591.75 555.83V559.46M592.66 556.57V559.81M593.67 555.82V558.74M594.22 555.08V559.5M594.82 556.7V557.73M595.82 556.55V559.36M596.66 556.79V560.21M597.4 556.4V560.32M598.24 555.71V558.97M599.12 556.19V558.55M599.77 555.56V558.9M600.84 554.78V558.99M601.47 556.54V559.55M602.38 556.23V557.72M603.38 555.85V557.67M604.01 556.56V558.19M604.67 556.89V558.99M605.4 556.9V559.85M606.52 555.3V558.53M607.27 555.86V557.37M607.82 557.18V558.38M608.96 555.29V558.37M609.73 557.79V559.09M610.59 555.67V557.77M611.35 556.51V560.35M612.37 556.54V560.37M613.18 554.61V559.06M613.75 557.67V558.72M614.43 556.74V557.91M615.32 556.24V558.21M616.42 556.41V560.26M617.17 555.86V559.37M618.27 557.02V558.41M619.3 555.99V557.71M620.2 555.26V558.53M620.98 557.35V559.53M621.62 556.35V560.58M622.39 556.25V558.64M623.28 556.11V558.32M624.2 556.78V559.49M624.82 555.73V559.5M625.45 555.75V560.09M626.12 556.18V558.25M626.99 554.81V558.86M627.75 556.51V559.67M628.78 557.48V559.5M629.58 556.54V560.26M630.51 556.13V558.55M631.07 555.13V559.69M632.08 556.52V560.26M633.22 556.3V560.74M633.81 555.85V558.53M634.58 557.84V558.97M635.21 554.86V558.7M636.33 555.04V558.31M636.96 556.26V560.6M637.92 556.52V560.39M638.89 556.78V558.19M639.55 557.48V558.73M640.44 554.88V559.21M641.32 557.77V558.84M641.9 554.34V558.84M643 556.82V559.84M643.58 557.88V559.2M644.39 557.3V559.64M644.96 557.41V559.39M645.88 556.12V558.4M646.91 556.43V559.53M648 556.16V558.86M648.89 556.71V559.64M649.73 556.91V558.66M650.84 555.99V557.87M651.81 555.85V559.34M652.46 555.42V559.82M653.16 556.1V559.77M654.12 556.89V559.61M655.08 555.92V559.5M656.14 555.7V558.61M657.15 555.6V558.49M658.19 555.59V559.62M659.06 556.32V559.63M660.15 556.73V558.76M660.83 557.01V558.33M661.47 556.94V559.98M662.54 556.29V560.11M663.36 556.2V558.56M664.02 555.77V557.5M665.1 556.78V557.95M665.93 557.44V559.46M666.84 557.48V558.63M667.91 557.21V558.5M668.67 555.9V560.06M669.57 556.15V557.21M670.36 556.87V559.24M671.34 556.06V559.84M671.93 556.58V559.07M673.01 555.03V559.43M673.83 556.2V558.2M674.45 556.18V560.1M675.36 555.23V558.9M676.31 557.85V559.13M677.12 556.64V558.98" stroke="#242424" stroke-width="0.65" fill="none"/>
<path d="M76 560.4V557.93M79.52 560.4V555.91M84.07 560.4V558.18M90.79 560.4V556.65M101.21 560.4V557.44M108.51 560.4V555.61M113.28 560.4V557.12M115.25 560.4V558.02M119.1 560.4V556.25M125.78 560.4V557.97M129.32 560.4V556.23M132.54 560.4V554.95M136.88 560.4V557.39M150 560.4V553.49M152.62 560.4V556.9M158.27 560.4V556.39M160.56 560.4V557.52M163.73 560.4V556.29M165.99 560.4V557.01M168.88 560.4V555.66M171.59 560.4V557.66M172 560.4V555.82M173.66 560.4V557.38M174.95 560.4V555.57M176.56 560.4V551.81M178.88 560.4V556.38M182.73 560.4V553.03M184.53 560.4V554.45M187.11 560.4V554.98M190.7 560.4V556.74M196.18 560.4V555.46M197.06 560.4V557.2M198.66 560.4V557.44M199.75 560.4V554.22M200 560.4V547.52M201.58 560.4V555.38M202.88 560.4V550.02M203.74 560.4V556.44M205.5 560.4V554.87M206.48 560.4V552.66M210.46 560.4V553.76M214.8 560.4V551.1M215.73 560.4V554.19M216.61 560.4V555.87M217.49 560.4V555.26M220.25 560.4V551.86M221.02 560.4V555.83M223.95 560.4V550.06M224.93 560.4V556.34M228.2 560.4V556.25M230.22 560.4V554.44M231.31 560.4V556.31M233.23 560.4V546.68M234.65 560.4V553.81M239.82 560.4V551.34M243.66 560.4V554.55M247.17 560.4V553.91M252.51 560.4V551.24M261.56 560.4V556.74M265.64 560.4V554.4M269.56 560.4V548.98M271.15 560.4V554.64M272.39 560.4V553.83M274 560.4V551.58M275.08 560.4V553.35M276.88 560.4V554.55M285.11 560.4V552.71M286.29 560.4V555.96M288.46 560.4V555.99M295.57 560.4V555.96M296.83 560.4V555.68M299.3 560.4V549.87M302.35 560.4V551.47M304.43 560.4V555.74M305.49 560.4V554.23M307.72 560.4V553.88M309.17 560.4V550.33M310.64 560.4V554.66M311.51 560.4V552.85M313.78 560.4V555.86M317.19 560.4V554.62M318.36 560.4V554.76M320 560.4V553.98M324.84 560.4V556.72M326.59 560.4V556.8M329.21 560.4V554.68M331.72 560.4V556.76M333.96 560.4V555.39M335.74 560.4V556.37M342.17 560.4V556.47M343.94 560.4V555.84M346.2 560.4V556.64M348.66 560.4V555.37M350.1 560.4V556.59M352.22 560.4V556.22M356.72 560.4V552.2M357.88 560.4V556.58M361.02 560.4V554.34M362.25 560.4V554.19M366.56 560.4V556.23M369.87 560.4V556.56M371.99 560.4V556.06M373.26 560.4V554.66M379.59 560.4V555.96M380.88 560.4V555.07M382.26 560.4V555.01M387.38 560.4V555.74M389.42 560.4V555.83M393.59 560.4V556.25M397.65 560.4V555.97M399.21 560.4V551.56M400 560.4V552M402.72 560.4V552.14M404.54 560.4V555.39M406.75 560.4V553.03M409.96 560.4V552.27M410.96 560.4V553.47M414.57 560.4V553.59M415.62 560.4V554.91M417.61 560.4V555.37M419.23 560.4V548.91M420.71 560.4V554.95M421.79 560.4V553.1M422.69 560.4V549.5M425.9 560.4V550.39M427.99 560.4V555.1M430.36 560.4V554.31M431.55 560.4V550.46M435.65 560.4V554.94M439.26 560.4V554.12M441.02 560.4V548.69M444.15 560.4V549.89M452.3 560.4V556.28M455.72 560.4V556.25M459.41 560.4V556.29M461.01 560.4V556.28M463.91 560.4V554.93M467.15 560.4V555.05M469.51 560.4V555.9M473.64 560.4V555.78M475.21 560.4V556.26M476.95 560.4V556.23M478.49 560.4V555.91M481.11 560.4V556.02M483.46 560.4V553.68M485.61 560.4V556.19M487.96 560.4V555.45M490.26 560.4V554.64M493.4 560.4V555.15M496.53 560.4V555.96M498.97 560.4V555.89M504.31 560.4V555.96M505.98 560.4V556.07M508 560.4V556.21M511.13 560.4V553.58M514.45 560.4V554.52M516.25 560.4V555.43M518.02 560.4V555.95M523.64 560.4V556.18M525.35 560.4V555.2M527.11 560.4V554.83M529.73 560.4V553.84M532.39 560.4V552.64M537.97 560.4V553.29M541.42 560.4V553.52M545.07 560.4V555.83M548.28 560.4V554.41M551.62 560.4V553.28M559.7 560.4V553.24M560 560.4V556.6M562.82 560.4V556.5M566.42 560.4V554.17M570.25 560.4V555.83M573.16 560.4V556.1M581.49 560.4V556.51M586.25 560.4V555.92M589.3 560.4V556.51M594.08 560.4V555.84M598.95 560.4V556.5M603.42 560.4V555.57M605.81 560.4V555.04M610.01 560.4V556.46M619.83 560.4V554.81M623.9 560.4V556.33M626 560.4V555.56M630.99 560.4V556.24M633.11 560.4V556.49M637.8 560.4V555.14M642.73 560.4V556.26M646.11 560.4V554.85M647.91 560.4V554.98M655.15 560.4V556.18M659.38 560.4V554.43M661.87 560.4V556.42M669.09 560.4V554.58M673.91 560.4V555.5M675.9 560.4V556.42" stroke="#666" stroke-width="0.9" fill="none"/>
<path d="M82.45 560.4V557.86M88.49 560.4V558.21M93.09 560.4V558.13M96.46 560.4V556.91M103.51 560.4V557.97M105.19 560.4V557.53M122.44 560.4V556.84M135.17 560.4V557.56M154.75 560.4V557.73M156.49 560.4V557.47M177.63 560.4V556.63M180.93 560.4V556.33M185.45 560.4V557.23M188.6 560.4V554.32M189.58 560.4V557.55M192.06 560.4V554.07M193.52 560.4V554.3M194.64 560.4V557.05M197.83 560.4V557.15M208.47 560.4V556.12M211.84 560.4V552.78M213.91 560.4V546.59M218.3 560.4V548.56M222.56 560.4V547.23M226.7 560.4V556.19M229.21 560.4V548.78M233.95 560.4V555.38M236 560.4V551.51M245.86 560.4V554.79M248.81 560.4V555.11M254.79 560.4V557.11M257.7 560.4V553.45M262 560.4V550.02M264.42 560.4V547.64M267.2 560.4V555.81M278.8 560.4V553.13M281.28 560.4V550.86M282.7 560.4V551.28M290.7 560.4V555.65M293.08 560.4V555.45M301.23 560.4V552.04M314.99 560.4V553.65M321.62 560.4V556.03M337.28 560.4V556.59M340.53 560.4V553.48M354.48 560.4V554.08M365.37 560.4V556.49M368.47 560.4V551.92M376.52 560.4V552.38M384.86 560.4V556.47M391.35 560.4V554.85M396.42 560.4V553.54M401.38 560.4V555.39M408.36 560.4V555.38M413.19 560.4V553.81M423.93 560.4V550.36M433.62 560.4V552.78M437.25 560.4V555.21M442.1 560.4V555.19M445 560.4V556.25M447.54 560.4V556.27M449.77 560.4V556.3M454.18 560.4V555.19M500.4 560.4V555.89M521.08 560.4V552.63M534.92 560.4V556.14M555.81 560.4V556.13M578.21 560.4V556.17M613.38 560.4V554.18M616.91 560.4V556.12M651.86 560.4V554.77M665.3 560.4V555.15" stroke="#333" stroke-width="0.8" fill="none"/>
<path d="M77.5 560.4V552.8M87.7 560.4V549.8M98 560.4V554M99 560.4V554M104.7 560.4V507.8M123.8 560.4V552.8M129.6 560.4V556M133.4 560.4V555M147.9 560.4V545M152 560.4V550.5M154.3 560.4V555M164.8 560.4V544.7M166.2 560.4V544.7M174.7 560.4V524.3M177 560.4V549M184.6 560.4V545.2M189 560.4V551M192.3 560.4V538.8M196.6 560.4V554M203.7 560.4V554M209.5 560.4V535M211.8 560.4V531.2M214.1 560.4V449.1M218.9 560.4V487.2M220.2 560.4V532M224.5 560.4V545M226 560.4V548M229.1 560.4V484.2M231.1 560.4V542.6M233.7 560.4V546M238.8 560.4V554M246.9 560.4V547.7M249.9 560.4V551M256 560.4V510.1M269.3 560.4V549M281.2 560.4V548M284.3 560.4V551M292.7 560.4V532.5M295.2 560.4V537.6M299.8 560.4V545M303.4 560.4V540M305.4 560.4V543M312.3 560.4V538.8M313.6 560.4V548M317.6 560.4V553M323.2 560.4V547.7M325 560.4V552M340.5 560.4V544.7M342.3 560.4V549M351.9 560.4V553M364.6 560.4V549.8M389.3 560.4V553M402.7 560.4V535M408.8 560.4V533.7M413.6 560.4V520M417.2 560.4V547M426.9 560.4V548M434.3 560.4V532M440.2 560.4V552M445.8 560.4V550M446.6 560.4V553M456.7 560.4V551M463.8 560.4V544M487.2 560.4V549M493.5 560.4V550M513.9 560.4V549M517.7 560.4V549M529.1 560.4V551M541.8 560.4V552.5M550 560.4V540.6M553.3 560.4V553M645.9 560.4V547.7M296.2 560.4V538.5M314.6 560.4V540M279.8 560.4V547.3M225 560.4V544M247.4 560.4V547.7M249.6 560.4V551M322.5 560.4V547.3M321 560.4V551M192.2 560.4V539" stroke="#555" stroke-width="1.0" fill="none"/>
<path d="M103.4 560.4V542.6M490.6 560.4V541.4M313.3 560.4V532M210.2 560.4V533" stroke="#555" stroke-width="1.4" fill="none"/>
<path d="M142.3 560.4V536.3M217.7 560.4V499.4M404.1 560.4V526.9M293.3 560.4V532.4M305.6 560.4V536M231.8 560.4V538.5" stroke="#555" stroke-width="1.5" fill="none"/>
<path d="M143.6 560.4V536.3" stroke="#858585" stroke-width="1.0" fill="none"/>
<path d="M144.9 560.4V521.5" stroke="#2a2a2a" stroke-width="1.6" fill="none"/>
<path d="M146.3 560.4V532.3M232.4 560.4V537.6M288.1 560.4V535.3M306.7 560.4V522.3M311 560.4V531.2M319.9 560.4V521M383.4 560.4V520.3M385 560.4V536.3M462.5 560.4V542.6M485.9 560.4V545.2M492.2 560.4V541.4M512.6 560.4V545.7M527.8 560.4V551M642 560.4V550.5M274.3 560.4V538.5" stroke="#555" stroke-width="1.2" fill="none"/>
<path d="M199.4 560.4V519.3M266 560.4V501.5M301.6 560.4V515.2M333.4 560.4V538M376.6 560.4V546.5" stroke="#2a2a2a" stroke-width="1.0" fill="none"/>
<path d="M213.1 560.4V542" stroke="#858585" stroke-width="1.4" fill="none"/>
<path d="M267.7 560.4V546.5" stroke="#555" stroke-width="1.3" fill="none"/>
<path d="M276.9 560.4V469.5M307.9 560.4V413M337.2 560.4V506.3M423.1 560.4V509.6M458.7 560.4V479.1M524.3 560.4V526.1M545.1 560.4V490.5M626.1 560.4V547.7M640.8 560.4V522.8" stroke="#555" stroke-width="1.1" fill="none"/>
<path d="M286.4 560.4V496.8" stroke="#2a2a2a" stroke-width="1.1" fill="none"/>
<path d="M309.3 560.4V488" stroke="#555" stroke-width="1.8" fill="none"/>
<path d="M412.3 560.4V513.4" stroke="#444" stroke-width="1.7" fill="none"/>
<path d="M425.6 560.4V522.3M435.1 560.4V524.3" stroke="#484848" stroke-width="1.2" fill="none"/>
<path d="M430.6 560.4V514.2" stroke="#484848" stroke-width="1.3" fill="none"/>
<path d="M546.4 560.4V528.7" stroke="#222" stroke-width="1.5" fill="none"/>
<path d="M285.6 560.4V513.3" stroke="#555" stroke-width="1.6" fill="none"/>
<path d="M266.9 560.4V546.2" stroke="#2a2a2a" stroke-width="1.4" fill="none"/>
<path d="M72.5 399.6V560.8" stroke="#1a1a1a" stroke-width="1.3" fill="none"/>
<path d="M71 560.4H74" stroke="#3a3a3a" stroke-width="0.9" fill="none"/>
<path d="M72.5 424H69.2M72.5 463.4H69.2M72.5 502.6H69.2M72.5 542.3H69.2M72.5 404.1H66.2M72.5 443.8H66.2M72.5 482.8H66.2M72.5 522.4H66.2" stroke="#444" stroke-width="0.9" fill="none"/>
<path d="M75 561V567.2M173.7 561V567.2M275 561V567.2M374.8 561V567.2M475.7 561V567.2M575.4 561V567.2M675.6 561V567.2" stroke="#222" stroke-width="1.1" fill="none"/>
<g font-size="12.3" fill="#4a4a4a" stroke="#4a4a4a" stroke-width="0.45" text-anchor="middle">
<text x="76" y="584.2" textLength="20.85" lengthAdjust="spacingAndGlyphs">500</text>
<text x="174.7" y="584.2" textLength="27.8" lengthAdjust="spacingAndGlyphs">1000</text>
<text x="276" y="584.2" textLength="27.8" lengthAdjust="spacingAndGlyphs">1500</text>
<text x="375.8" y="584.2" textLength="27.8" lengthAdjust="spacingAndGlyphs">2000</text>
<text x="476.7" y="584.2" textLength="27.8" lengthAdjust="spacingAndGlyphs">2500</text>
<text x="576.4" y="584.2" textLength="27.8" lengthAdjust="spacingAndGlyphs">3000</text>
<text x="676.6" y="584.2" textLength="0" lengthAdjust="spacingAndGlyphs"></text>
</g>
<g font-size="12.3" fill="#4a4a4a" stroke="#4a4a4a" stroke-width="0.45" text-anchor="end">
<text x="54" y="448.3" textLength="18" lengthAdjust="spacingAndGlyphs">6.0</text>
<text x="54" y="487.3" textLength="18" lengthAdjust="spacingAndGlyphs">4.0</text>
<text x="54" y="526.9" textLength="18" lengthAdjust="spacingAndGlyphs">2.0</text>
</g>
<text x="653.5" y="584.4" font-size="13" font-weight="bold" fill="#111" stroke="#111" stroke-width="0.4" textLength="21" lengthAdjust="spacingAndGlyphs">m/z</text>
<text transform="translate(21.3 524.2) rotate(-90)" font-size="12.3" font-weight="bold" fill="#111" stroke="#111" stroke-width="0.45" textLength="80.2" lengthAdjust="spacingAndGlyphs">Intensity ×10<tspan font-size="6.89" dy="-5.66">7</tspan></text>
<text x="29.8" y="341.3" font-size="16.4" font-weight="bold" fill="#000" stroke="#000" stroke-width="0.5" textLength="10.2" lengthAdjust="spacingAndGlyphs">B</text>
<path d="M160.4 532L165.6 543" stroke="#444" stroke-width="0.7" fill="none"/>
<path d="M249.4 497.4L255 508.3" stroke="#444" stroke-width="0.7" fill="none"/>
<path d="M260.1 489.3L265.2 500" stroke="#444" stroke-width="0.7" fill="none"/>
<path d="M295.6 503.3L300.7 514.2" stroke="#444" stroke-width="0.7" fill="none"/>
<text transform="translate(109.75 501) rotate(-90)" font-size="13.5" fill="#4c4c4c" stroke="#4c4c4c" stroke-width="0.3" textLength="59.5" lengthAdjust="spacingAndGlyphs">656.06284</text>
<text transform="translate(129.35 546) rotate(-90)" font-size="13.5" fill="#4c4c4c" stroke="#4c4c4c" stroke-width="0.3" textLength="59.6" lengthAdjust="spacingAndGlyphs">748.47325</text>
<text transform="translate(150.35 508.1) rotate(-90)" font-size="13.5" font-weight="bold" fill="#000" stroke="#000" stroke-width="0.35" textLength="133.3" lengthAdjust="spacingAndGlyphs">852.43589 (- 0.39 ppm)</text>
<text transform="translate(165.95 522.9) rotate(-90)" font-size="13.5" fill="#4c4c4c" stroke="#4c4c4c" stroke-width="0.3" textLength="59" lengthAdjust="spacingAndGlyphs">964.48934</text>
<text transform="translate(181.55 518.2) rotate(-90)" font-size="13.5" fill="#4c4c4c" stroke="#4c4c4c" stroke-width="0.3" textLength="66.1" lengthAdjust="spacingAndGlyphs">1005.50950</text>
<text transform="translate(204.95 504.5) rotate(-90)" font-size="13.5" font-weight="bold" fill="#000" stroke="#000" stroke-width="0.35" textLength="143.6" lengthAdjust="spacingAndGlyphs">1125.69975 9+ 0.69 ppm)</text>
<text transform="translate(220.45 441.3) rotate(-90)" font-size="13.5" fill="#4c4c4c" stroke="#4c4c4c" stroke-width="0.3" textLength="65.2" lengthAdjust="spacingAndGlyphs">1198.70528</text>
<text transform="translate(234.45 477.3) rotate(-90)" font-size="13.5" fill="#4c4c4c" stroke="#4c4c4c" stroke-width="0.3" textLength="66" lengthAdjust="spacingAndGlyphs">1273.69752</text>
<text transform="translate(254.05 488.8) rotate(-90)" font-size="13.5" fill="#4c4c4c" stroke="#4c4c4c" stroke-width="0.3" textLength="65.6" lengthAdjust="spacingAndGlyphs">1406.75249</text>
<text transform="translate(265.45 483.4) rotate(-90)" font-size="13.5" fill="#4c4c4c" stroke="#4c4c4c" stroke-width="0.3" textLength="65.7" lengthAdjust="spacingAndGlyphs">1455.68950</text>
<text transform="translate(282.65 454.8) rotate(-90)" font-size="13.5" font-weight="bold" fill="#000" stroke="#000" stroke-width="0.35" textLength="141.4" lengthAdjust="spacingAndGlyphs">1510.70248 (- 0.18 ppm)</text>
<text transform="translate(299.95 489.3) rotate(-90)" font-size="13.5" font-weight="bold" fill="#000" stroke="#000" stroke-width="0.35" textLength="143.9" lengthAdjust="spacingAndGlyphs">1635.91146 (+ 0.65 ppm)</text>
<text transform="translate(313.75 405) rotate(-90)" font-size="13.5" fill="#4c4c4c" stroke="#4c4c4c" stroke-width="0.3" textLength="66.7" lengthAdjust="spacingAndGlyphs">1663.83833</text>
<text transform="translate(324.85 513.8) rotate(-90)" font-size="13.5" fill="#4c4c4c" stroke="#4c4c4c" stroke-width="0.3" textLength="66.5" lengthAdjust="spacingAndGlyphs">1723.82423</text>
<text transform="translate(342.05 499.4) rotate(-90)" font-size="13.5" fill="#4c4c4c" stroke="#4c4c4c" stroke-width="0.3" textLength="66.4" lengthAdjust="spacingAndGlyphs">1809.94690</text>
<text transform="translate(389.25 513) rotate(-90)" font-size="13.5" fill="#4c4c4c" stroke="#4c4c4c" stroke-width="0.3" textLength="66" lengthAdjust="spacingAndGlyphs">2044.04362</text>
<text transform="translate(429.45 502.3) rotate(-90)" font-size="13.5" fill="#4c4c4c" stroke="#4c4c4c" stroke-width="0.3" textLength="65.4" lengthAdjust="spacingAndGlyphs">2237.02971</text>
<text transform="translate(464.35 472.3) rotate(-90)" font-size="13.5" fill="#4c4c4c" stroke="#4c4c4c" stroke-width="0.3" textLength="65.9" lengthAdjust="spacingAndGlyphs">2414.05860</text>
<text transform="translate(496.85 535.3) rotate(-90)" font-size="13.5" fill="#4c4c4c" stroke="#4c4c4c" stroke-width="0.3" textLength="65.4" lengthAdjust="spacingAndGlyphs">2573.20621</text>
<text transform="translate(530.35 519.6) rotate(-90)" font-size="13.5" fill="#4c4c4c" stroke="#4c4c4c" stroke-width="0.3" textLength="65.7" lengthAdjust="spacingAndGlyphs">2736.25839</text>
<text transform="translate(550.75 484) rotate(-90)" font-size="13.5" fill="#4c4c4c" stroke="#4c4c4c" stroke-width="0.3" textLength="65.7" lengthAdjust="spacingAndGlyphs">2842.51939</text>
<text transform="translate(631.35 541.7) rotate(-90)" font-size="13.5" fill="#4c4c4c" stroke="#4c4c4c" stroke-width="0.3" textLength="65.9" lengthAdjust="spacingAndGlyphs">3243.49020</text>
<text transform="translate(646.65 516.3) rotate(-90)" font-size="13.5" fill="#4c4c4c" stroke="#4c4c4c" stroke-width="0.3" textLength="66" lengthAdjust="spacingAndGlyphs">3316.51757</text>
<text transform="translate(664.95 547.5) rotate(-90)" font-size="13.5" fill="#4c4c4c" stroke="#4c4c4c" stroke-width="0.3" textLength="66.1" lengthAdjust="spacingAndGlyphs">3438.79368</text>
<path d="M72 840.27V841.12M72.68 838.64V840.97M73.26 840.27V841.25M74.01 840.19V841.15M74.7 840.06V841.11M75.4 840.33V841.18M75.99 840.34V841.21M76.71 840.06V841.17M77.33 840.08V841.09M78.09 840.32V840.99M78.88 840.2V841.14M79.53 840.22V841.06M80.21 840.05V841.16M80.96 840.02V841.16M81.72 840.03V841.23M82.44 840.28V841.2M83.02 840.33V841.21M83.55 840.08V841.08M84.14 838.86V841.22M84.65 840.11V841.05M85.44 840.18V841.25M85.97 840.15V840.96M86.59 838.6V841M87.18 840.03V841.22M87.82 840.18V841.15M88.49 840.14V841.24M89.12 840.11V841.02M89.91 839.18V841.12M90.59 840.34V841.14M91.1 840.14V841.09M91.71 839.54V841.18M92.41 840.03V841.03M93.09 840.24V841.06M93.7 840.15V841.04M94.43 840.34V841.12M95.03 840.27V841.2M95.58 840.2V841.16M96.18 840.24V841.2M96.94 840.29V841.05M97.7 840.2V841.02M98.36 840.28V841.2M98.92 840.26V841.2M99.66 840.23V840.99M100.4 840.26V841.06M101.02 840.21V841.23M101.52 840.04V841.22M102.15 840.03V841.23M102.88 840.07V841.15M103.46 840.23V841.02M104.14 838.67V841.2M104.85 840.04V841.22M105.52 840.34V841.18M106.11 840.13V841.11M106.89 840.15V841.06M107.65 840.19V841.19M108.21 840.17V841.2M108.95 840.04V841.2M109.45 839.31V841.21M110.03 840.17V841.08M110.76 840.35V840.97M111.3 840.32V841.25M111.83 840.18V841.05M112.43 840.13V841.13M112.99 840.24V840.99M113.7 840.22V840.98M114.32 840.15V841.19M115.06 840.14V841.08M115.71 840.12V841.08M116.34 840.27V841.11M116.87 840.21V841.08M117.65 840.22V841.22M118.22 840.19V840.99M118.92 840.05V841.19M119.64 840.16V840.98M120.15 839.69V841.19M120.67 838.55V841.01M121.21 840.07V841.16M122 838.74V841.19M122.65 840.11V840.98M123.43 840.33V841.05M124.18 840.27V841.01M124.86 840.1V841.07M125.48 840.23V841.08M126.13 840.03V841.08M126.68 840.12V841.18M127.34 840.19V841.15M127.88 840.32V841.18M128.54 840.2V841.17M129.12 840.28V841.13M129.69 840.12V841.24M130.4 840.21V841.21M130.98 840.28V840.96M131.59 840.29V841.06M132.33 840.3V841.25M133 840.19V841.2M133.67 840.19V841.17M134.29 840.11V841.24M134.86 840.27V841.17M135.65 840.07V841.03M136.23 840.29V841.17M137 840.26V841.21M137.62 840.11V840.98M138.37 840.25V841.06M139.08 840.35V841.05M139.72 840.28V841.13M140.34 840.17V840.99M141.04 840.31V841.22M141.57 840.04V841.07M142.29 840.25V841.16M143.04 840.26V841.18M143.74 840.17V840.99M144.34 840.11V841.16M144.9 840.13V841.14M145.67 840.13V840.99M146.21 840.24V841.17M146.87 840.13V841.09M147.43 840.32V841.17M148.09 840.1V841.06M148.71 840.06V840.97M149.28 840.09V841.06M149.9 840.17V841.19M150.65 840.31V841.03M151.19 840.09V841.17M151.75 840.21V841.18M152.47 840.15V841M153.03 840.17V841.12M153.6 840.09V840.96M154.37 840.03V841.07M155.05 840.14V841.25M155.64 840.06V841.1M156.35 840.35V841.19M157 840.17V841.09M157.66 840.34V841.1M158.29 840.16V841.24M158.83 840.09V841.14M159.44 840.27V840.98M160.22 840.24V841.22M160.76 840.06V841.13M161.48 840.1V841.06M162.26 840.06V841.08M162.9 840.31V840.97M163.46 840.29V841.1M164.12 840.21V841.15M164.76 840.1V841.07M165.53 840.11V841.06M166.19 839.4V841.02M166.92 840.3V841.09M167.49 840.29V841.07M168 840.31V841M168.51 840.34V841.09M169.22 840.33V841.07M169.73 840.03V841.02M170.38 840.29V841.14M170.91 840.33V841.17M171.65 840.19V841.23M172.22 840.26V841.2M172.83 840.32V841.16M173.5 840.35V840.96M174.06 840.34V840.97M174.83 840.28V841.25M175.57 839.18V841.24M176.25 840.04V840.98M177 840.31V841.07M177.71 840.04V841.01M178.43 840.07V841.12M179.04 840.21V841.02M179.68 840.26V841M180.36 840.11V841.07M180.91 840.11V840.96M181.64 840.12V840.98M182.39 840.14V841.22M183.02 840.05V841.17M183.64 840.32V841.07M184.17 840.16V840.99M184.86 840.27V840.97M185.56 840.15V840.96M186.35 840.27V841.12M187.08 840.15V841.19M187.64 840.29V840.98M188.17 840.34V841.24M188.94 840.32V841.09M189.69 840.14V841.15M190.45 840.23V841.13M190.98 840.07V841.13M191.54 840.17V841.09M192.07 840.23V841.1M192.73 840.1V841.08M193.41 840.28V841.06M194.01 840.21V840.98M194.56 840.04V841.17M195.36 840.15V841.23M195.99 840.03V841.23M196.63 840.09V841.08M197.41 840.25V841.24M197.94 840.11V841.04M198.63 840.33V841.18M199.26 840.23V841.18M199.84 840.31V841.04M200.37 840.3V841.18M201.16 840.02V841.22M201.71 840.24V841.09M202.37 840.23V841.21M203.01 840.05V841.2M203.58 840.08V840.96M204.24 840.17V841M204.8 840.09V841.09M205.54 840.02V840.96M206.04 840.2V841.05M206.71 840.32V841.05M207.45 839.19V841.03M208.14 840.12V841.23M208.71 840.3V841.18M209.36 840.07V841.12M209.91 840.34V841.15M210.68 840.19V841.15M211.43 840.15V841.08M211.98 840.29V841.16M212.64 840.21V841.06M213.39 840.2V841.24M213.98 840.18V841.08M214.73 838.85V841.14M215.39 840.19V841.04M216.17 840.31V841.15M216.82 840.05V841.24M217.38 840.04V841.01M218.13 840.24V841.03M218.91 840.24V841.07M219.45 840.26V841.25M220.02 840.28V840.98M220.74 840.07V841.14M221.24 840.25V841.24M221.82 840.19V841.03M222.34 840.27V841.24M223.11 840.29V841.25M223.8 840.3V840.97M224.36 840.28V841.2M224.87 840.03V841.11M225.4 840.22V841.25M225.94 840.3V840.99M226.72 840.32V841.01M227.52 840.02V841.03M228.3 840.19V841.17M228.81 840.23V841.18M229.48 840.19V841.12M230.14 840.07V841.01M230.92 840.07V841.01M231.67 840.29V841.03M232.19 840.02V841.08M232.72 840.34V841.22M233.52 840.12V841.11M234.05 840.17V841.09M234.73 840.24V841.11M235.32 840.23V841.13M236.1 840.06V841.21M236.9 840.26V840.99M237.62 840.23V841.15M238.41 840.2V841.1M239.17 840.02V841.11M239.85 840.32V841.08M240.59 840.33V841.21M241.38 840.23V841.02M242.15 840.21V841.21M242.75 840.25V841.11M243.37 840.13V841.22M243.91 840.27V841.06M244.45 840.32V841.05M244.96 840.17V841.23M245.68 840.07V841.21M246.31 840.12V840.99M246.93 840.19V841.22M247.49 840.08V841.13M247.99 840.23V840.95M248.55 840.26V841.07M249.18 840.14V841.15M249.71 840.02V841.16M250.34 840.1V841.25M250.84 840.19V841.08M251.59 840.24V841.08M252.36 840.28V841.07M253.05 840.34V841.24M253.72 840.32V841.02M254.48 840.17V841.04M255.18 840.17V841.01M255.95 840.3V841.11M256.55 840.09V841.23M257.27 840.28V840.97M257.87 840.28V841.22M258.61 840.04V840.99M259.23 839.18V841.01M259.85 840.07V841.2M260.47 840.22V841.01M261.05 840.12V841.06M261.61 840.2V841.12M262.32 840.28V841.16M262.88 840.1V841.07M263.56 840.14V841.09M264.29 840.06V841.1M264.87 840.05V841.16M265.62 840.02V841.06M266.26 840.29V841.17M266.98 840.15V840.99M267.74 840.19V841.12M268.37 840.18V841.13M268.93 840.32V841.18M269.52 840.05V841.22M270.32 840.07V841.18M270.82 840.12V841.17M271.47 840.16V841.03M272.14 840.22V840.99M272.73 840.11V841M273.29 840.21V841.13M273.81 840.19V841.01M274.36 840.31V841.12M275.12 840.18V841.07M275.7 840.24V841.24M276.49 840.19V841.08M277.27 840.29V841.13M277.83 840.27V841.25M278.55 840.05V840.98M279.28 840.27V841.09M279.88 840.1V841M280.46 840.18V841.07M281.18 840.18V841.16M281.92 840.26V841.12M282.54 840.33V841M283.1 840.1V841.11M283.86 838.94V841.07M284.58 840.04V841.01M285.37 840.1V841.1M285.92 840.17V841.15M286.47 840.3V841.14M287.01 840.35V840.98M287.63 840.2V841.25M288.21 840.12V840.95M288.92 840.29V840.96M289.51 840.03V840.98M290.13 840.08V841.09M290.73 840.27V841.09M291.33 840.27V841.08M291.93 840.16V841.12M292.51 840.34V840.96M293.07 840.16V841.03M293.75 840.13V841.17M294.38 840.25V840.97M295.03 840.31V841.23M295.72 840.2V840.99M296.27 840.23V841.25M296.92 840.19V841.03M297.54 838.99V841.1M298.3 840.05V840.97M298.89 840.19V841.04M299.43 840.14V840.98M299.95 840.03V841.01M300.67 840.17V841.19M301.36 840.32V841.16M302.15 840.35V840.97M302.93 840.21V841.17M303.54 839.33V841.13M304.27 840.26V841.1M304.87 840.13V841.18M305.52 840.28V841.05M306.09 840.15V841.14M306.64 840.32V841.01M307.22 840.06V841.12M307.85 840.33V841.17M308.46 840.11V841.03M309.03 840.28V841.14M309.74 840.31V841.18M310.36 840.18V841.08M310.98 840.13V841.17M311.53 840.05V841.19M312.33 840.3V841.19M312.86 840.15V841.24M313.62 840.05V841.08M314.19 840.07V841.08M314.82 838.4V841.03M315.41 840.22V841.25M315.94 840.05V841.03M316.72 840.27V841.23M317.31 840.28V841.12M317.93 840.18V841.04M318.71 840.1V841.2M319.29 840.28V841M320.06 840.05V841.12M320.69 840.33V841.23M321.27 840.04V841.01M321.87 840.13V840.98M322.49 840.23V841.15M323.06 838.76V841.13M323.66 840.29V841.05M324.26 840.17V841.08M324.85 840.19V841.19M325.58 840.19V840.99M326.33 840.19V841.07M327.08 840.22V841.06M327.59 840.17V841.1M328.22 840.19V841.17M329.02 840.31V841.21M329.76 840.26V840.98M330.51 840.07V841.22M331.02 840.22V840.98M331.66 840.1V841.19M332.36 840.06V841.12M333.13 840.32V840.98M333.71 840.13V840.96M334.43 840.34V841.11M334.99 840.11V841.18M335.72 840.12V840.96M336.38 840.03V841.02M336.92 840.07V841.09M337.62 840.3V841.17M338.38 840.25V841.02M339.15 840.2V841.07M339.86 840.24V841.05M340.59 840.25V840.97M341.31 840.15V841.07M341.94 840.28V840.98M342.62 840.23V841.24M343.26 840.13V841.13M343.91 840.17V841.1M344.47 840.09V841.04M344.99 840.19V841.09M345.55 840.26V840.99M346.22 840.35V841.01M347.01 840.2V841.12M347.71 839.05V841.16M348.35 840.33V841.19M348.94 840.14V841.13M349.7 840.18V841.06M350.36 840.23V841.11M350.87 840.34V841M351.62 840.16V841.02M352.31 840.33V841.18M353.11 840.3V841.04M353.87 840.08V841.13M354.5 840.12V840.97M355.25 840.04V841.16M356.04 840.26V841.04M356.6 840.08V840.98M357.22 840.06V841.18M357.97 840.33V841.03M358.6 840.13V841.22M359.38 840.12V841.06M360.1 840.08V841.06M360.79 838.99V841.22M361.43 840.28V841.12M362.22 840.06V841.13M362.99 840.29V841.2M363.78 840.1V841.07M364.48 840.28V841.18M365.23 840.23V841.04M365.93 840.22V841.12M366.62 840.18V841.04M367.38 840.1V841.04M368.1 840.08V841.15M368.82 840.17V841.07M369.45 840.13V841.18M369.99 840.16V841.24M370.66 840.07V840.96M371.35 840.15V841.05M371.89 840.17V841.03M372.63 840.19V841.18M373.28 840.29V841.21M374.01 839.14V841.2M374.66 840.33V841.08M375.35 840.24V841.2M376.11 840.22V840.98M376.64 840.26V841.19M377.3 840.06V841.13M378.03 840.08V841.13M378.62 840.21V841.25M379.12 840.28V841.02M379.68 840.29V841.18M380.48 840.2V841.22M381.04 840.09V841.08M381.55 840.12V841.12M382.3 840.28V841.09M382.91 840.06V841.1M383.48 840.13V841.04M384 840.06V841.14M384.6 840.32V841M385.11 840.31V841.19M385.87 840.07V841.12M386.58 839.56V841.08M387.15 840.2V840.99M387.83 840.1V841.22M388.59 840.03V841.03M389.33 840.05V841.19M390.01 840.31V841.02M390.74 838.65V841.23M391.31 840.08V841.2M391.95 840.12V841.04M392.48 840.06V841.13M393.26 840.24V840.97M393.77 840.25V841.17M394.46 840.07V841.2M395.08 840.26V841M395.64 840.1V841.05M396.3 840.14V841M397.01 840.28V841.16M397.62 840.03V841.14M398.28 840.1V841.16M398.94 840.16V841.09M399.71 840.09V841.2M400.42 839.43V841.24M401.21 840.22V841.17M401.83 840.2V841.12M402.49 840.09V841.04M403.17 840.1V841.22M403.96 840.15V841.03M404.49 840.27V841.21M405.25 840.29V840.99M405.9 840.11V841.04M406.58 840.25V841.19M407.26 840.29V840.97M407.91 840.15V841.07M408.65 840.3V840.95M409.27 840.31V841.01M409.82 840.22V841.16M410.52 840.03V841.19M411.21 840.25V841.15M411.88 840.19V841.18M412.6 840.02V840.96M413.39 840.32V841.2M413.91 840.14V840.95M414.5 840.04V841.22M415.12 840.3V841.18M415.65 840.31V841.21M416.24 840.2V841.12M417.03 840.24V841.1M417.6 840.29V841.21M418.37 840.08V841.07M418.9 840.06V841.09M419.45 840.27V841.22M420.12 840.14V841.11M420.74 840.28V841.2M421.41 840.26V841.23M421.96 840.14V841.2M422.49 840.02V841M423.29 840.09V841.18M424.04 840.22V840.96M424.82 840.33V841.09M425.42 840.25V841.19M426.22 840.07V841.21M426.78 840.12V841.13M427.45 840.25V841.01M428.06 840.31V841.25M428.76 840.24V841M429.51 840.26V841.23M430.28 840.29V841.09M430.83 840.18V841.06M431.39 840.25V841.05M431.92 840.21V841.21M432.49 840.02V840.99M433 840.2V841.21M433.58 838.79V840.98M434.11 840.17V841M434.86 840.2V841.04M435.57 840.33V841.03M436.23 840.26V841.15M437 840.23V841.02M437.54 840.28V841.22M438.17 840.03V841.24M438.74 840.24V841.11M439.34 840.28V841.03M440.03 840.2V841.1M440.73 840.34V841.21M441.33 840.03V841.18M441.84 840.2V841.09M442.37 840.16V841.03M443.03 840.25V841.2M443.55 840.26V840.97M444.33 840.04V841.15M444.9 840.28V841.07M445.41 840.19V841.08M446.15 840.22V841.13M446.79 840.14V840.97M447.44 840.29V841.03M448.05 840.28V841.04M448.67 840.23V841.05M449.32 840.15V840.98M449.91 840.02V841.24M450.62 840.23V840.99M451.39 840.09V841.15M452.06 840.12V841.15M452.81 840.25V841.02M453.49 840.23V841.21M454.2 840.17V841.16M454.94 840.31V841.23M455.52 840.28V841.13M456.23 840.32V841.22M456.86 840.1V841.14M457.45 840.19V840.96M458.2 840.31V840.98M458.81 840.17V841.13M459.41 840.09V840.95M460 840.14V841.04M460.61 840.15V841.05M461.35 840.28V841.18M461.92 840.28V841.23M462.46 840.09V841.23M463.19 840.25V841.19M463.83 840.31V841.15M464.42 840.33V840.98M465.22 840.1V841.22M465.76 840.22V841.24M466.55 840.08V841.17M467.33 840.21V840.96M467.83 840.26V841.13M468.41 840.32V841.06M469.09 840.04V840.97M469.61 840.04V841.14M470.35 840.35V841.23M471.04 840.21V841.18M471.62 840.27V841.17M472.17 840.23V841.12M472.85 840.07V841.15M473.44 840.06V841.24M473.95 840.32V841.18M474.66 840.18V841.12M475.34 840.02V841.01M476.1 840.13V841.06M476.82 840.04V841.22M477.54 840.08V841.07M478.16 840.28V840.95M478.88 840.33V840.97M479.45 840.11V841.01M480.11 840.23V841.21M480.76 840.13V841.07M481.55 840.1V841.12M482.24 840.25V840.97M483.01 840.31V841.25M483.81 840.09V841.03M484.57 840.02V841.2M485.23 840.09V841.2M485.82 840.07V841.24M486.32 840.29V841.15M487.1 840.14V841.16M487.76 840.11V841.23M488.34 840.18V841.25M488.86 840.29V841.17M489.57 838.75V841.2M490.31 840.12V841.21M490.99 840.06V841.12M491.58 840.04V841.05M492.34 840.12V841.19M492.99 840.32V841.01M493.65 840.17V840.97M494.18 840.22V840.96M494.73 840.04V841.06M495.36 840.24V841.21M496.01 840.14V841.25M496.53 840.2V841.24M497.14 840.31V841.03M497.7 840.05V841.03M498.4 840.27V841.11M498.98 840.17V841.14M499.57 840.29V841.11M500.22 840.05V841.01M500.86 840.28V841.09M501.47 840.09V841.25M502.03 840.22V841.24M502.56 840.33V841.24M503.19 840.32V841.22M503.9 840.05V841.12M504.45 840.25V841M504.97 840.33V841.22M505.71 840.23V841.09M506.45 840.25V841.11M507.2 840.23V840.95M507.96 840.29V841.14M508.55 840.14V840.98M509.22 840.22V841.18M509.81 840.1V841.18M510.48 840.16V841.18M511.06 840.13V841.17M511.83 840.24V841.12M512.51 840.29V841.15M513.17 840.2V841.16M513.97 840.27V841.23M514.62 840.33V841.21M515.2 840.25V841.02M515.79 840.17V841.06M516.57 840.04V841.07M517.29 840.11V841.07M518.02 840.13V841.06M518.54 840.09V841.22M519.07 840.12V841.19M519.75 839.45V841.02M520.51 840.15V841.19M521.05 840.07V841.22M521.65 840.29V841.09M522.23 840.12V841.14M522.78 840.18V841.17M523.48 840.05V841.18M524.2 840.13V841.06M524.81 840.11V841.18M525.48 840.32V841.13M526.21 840.06V840.97M526.76 840.03V841.25M527.35 840.3V841.23M528.14 840.08V841.06M528.74 840.24V841.08M529.34 840.16V841.12M529.98 840.21V841.12M530.7 839.32V841.01M531.45 840.15V841.14M532.2 840.25V841.02M532.77 840.15V840.98M533.48 840.26V841M534.04 840.05V841.14M534.7 840.19V841.03M535.49 840.28V840.98M536.15 840.16V841.23M536.73 840.25V841.15M537.29 840.27V841.11M538.04 840.13V841M538.71 840.32V841.08M539.35 840.11V841.02M540.05 840.16V840.96M540.55 840.2V841.01M541.14 840.3V841.04M541.68 840.16V841.24M542.47 840.31V841.15M543.25 840.18V841.17M543.79 840.31V841.2M544.42 840.34V840.96M545.13 840.22V841.16M545.63 840.1V841.25M546.4 840.2V841.14M547.13 839.41V841.08M547.75 840.04V841.1M548.31 840.26V841.02M549.05 840.23V841.05M549.68 840.06V841.16M550.31 840.22V841.09M551.09 840.16V841.1M551.85 840.15V841.08M552.49 840.11V841.03M553.15 840.18V840.95M553.76 839.32V841.07M554.32 840.1V841.02M554.9 840.29V840.96M555.56 840.09V841.15M556.07 840.04V841.03M556.63 840.15V841.15M557.2 840.34V841.13M557.74 840.27V841.18M558.28 840.02V841.17M558.88 840.03V841.09M559.67 840.07V841.01M560.23 840.31V841.22M560.88 840.23V841.1M561.59 840.21V841.21M562.36 840.1V841M563.11 840.23V841.13M563.85 840.24V841.06M564.38 840.35V841.08M564.92 840.22V841.19M565.69 840.09V840.97M566.33 840.34V841.19M567.06 840.12V841.03M567.7 840.28V840.96M568.26 840.26V841.19M568.89 840.34V841.18M569.42 840.1V841.23M570.08 840.05V841.11M570.63 840.34V841.22M571.18 840.13V841.01M571.79 840.12V841.11M572.47 839.31V840.97M573.18 840.03V841.09M573.9 840.26V841.09M574.54 840.18V841.17M575.18 840.18V841.12M575.76 840.19V841.09M576.5 840.03V841.12M577.11 840.2V841.06M577.89 840.23V841.02M578.39 840.23V841.12M578.98 839.33V841.25M579.64 840.02V841.06M580.22 840.22V841M580.88 840.11V841.04M581.65 840.27V841.24M582.37 840.04V841.09M582.98 840.2V841.23M583.5 840.3V841.11M584.02 840.08V841.05M584.63 840.29V841.08M585.4 840.16V841.03M585.98 838.61V840.95M586.71 838.77V841.14M587.39 840.11V841.08M588.14 840.24V840.98M588.91 840.26V840.97M589.45 840.21V841.19M590.08 840.04V841.22M590.59 840.03V841.12M591.38 839.71V841.25M592.03 840.15V841.13M592.56 840.11V841.05M593.25 840.12V840.99M593.83 840.28V841.08M594.43 840.19V841.14M594.96 840.21V841.17M595.53 840.13V841.21M596.08 840.33V841.25M596.67 840.1V841.13M597.27 840.13V841.07M597.87 840.1V841.21M598.39 840.26V841.18M598.9 840.07V841.08M599.62 840.18V841.21M600.37 840.06V841.07M601.02 840.13V841.02M601.54 840.06V841.01M602.29 840.07V841.21M602.81 840.02V841.04M603.43 840.2V841.12M604.17 840.15V841M604.7 840.07V841.01M605.37 840.23V841.22M605.97 840.21V841.18M606.66 840.24V841.12M607.43 840.23V841.19M608.02 840.27V841.23M608.61 840.19V841.17M609.14 840.22V841.17M609.68 840.08V840.95M610.24 840.07V841.06M610.9 840.05V840.96M611.52 840.14V840.99M612.19 840.33V841.05M612.96 840.34V841M613.53 840.16V841.06M614.2 840.23V841.01M614.94 840.11V841.17M615.72 840.22V841.12M616.45 840.19V841.19M617.04 840.22V841.18M617.65 840.17V840.98M618.44 839.4V841.2M619.1 840.24V841.24M619.69 840.3V841.23M620.34 840.33V840.96M621.05 840.19V841.05M621.66 840.21V841.14M622.26 840.27V841.15M622.82 840.09V841.15M623.36 840.07V841M623.88 839.24V841.07M624.54 840.19V841M625.25 840.26V841.05M625.75 840.15V841.04M626.51 840.24V841.04M627.15 840.33V841.07M627.68 840.07V841.16M628.2 840.11V841.07M628.9 840.27V841.18M629.5 840.09V841.05M630.02 840.15V841.04M630.53 840.09V841.04M631.3 840.08V841.02M631.99 840.07V841.23M632.6 840.05V841.04M633.11 840.16V841.05M633.61 840.22V841.17M634.36 840.13V841.22M635.12 840.15V841.07M635.69 840.26V841.11M636.3 840.32V841.25M636.95 840.23V841.12M637.73 840.15V841.24M638.37 840.24V841.24M638.94 840.09V841.02M639.55 840.19V841.09M640.15 840.25V841.01M640.72 840.28V841.23M641.34 839.06V840.98M642.12 840.32V841.09M642.62 840.15V841.03M643.37 840.06V841.19M644.07 840.16V841.04M644.71 840.21V841.08M645.28 840.07V841M645.91 840.22V841.1M646.48 840.21V841.01M647.18 840.14V841.16M647.69 840.32V841.22M648.48 840.24V841.07M649.23 840.21V841.1M649.8 840.05V841.23M650.35 840.06V841.09M650.97 840.32V841.18M651.75 839.53V841.06M652.45 840.32V840.99M652.95 840.18V841.02M653.66 840.18V841.23M654.25 840.09V841.16M654.98 840.34V841.16M655.68 840.12V841.15M656.21 840.22V841.05M656.98 840.03V841.05M657.75 840.34V841.12M658.27 840.2V841.17M658.87 840.19V841.12M659.42 840.34V841.05M659.97 840.1V841.15M660.72 840.33V841.05M661.41 840.07V840.96M662.03 840.09V841.13M662.69 840.34V841.24M663.38 840.13V841.18M663.95 840.13V841.25M664.69 840.29V841.05M665.36 840.05V841.14M665.99 840.29V841.03M666.76 840.13V841.16M667.27 840.34V840.96M668.06 840.16V841.02M668.57 840.34V840.99M669.12 840.27V841.14M669.66 840.09V841.04M670.24 840.12V840.96" stroke="#666" stroke-width="0.6" fill="none"/>
<path d="M72 839.43V841.7M72.68 839.57V841.42M73.5 839.44V841.49M74.31 839.34V841.7M75.39 839.81V841.42M76.4 839.74V841.7M77.32 839.36V841.7M78.22 839.99V841.59M78.81 839.71V841.7M79.84 839.48V841.7M80.6 839.68V841.7M81.4 839.92V841.11M82.09 839.75V841.41M83.01 839.77V841.7M83.96 839.26V841.65M84.83 839.91V841.61M85.76 839.37V841.7M86.57 839.41V841.7M87.44 839.45V841.7M88.3 839.4V841.7M89.15 840.12V841.33M90.24 840.17V841.22M90.8 839.51V841.7M91.72 839.87V841.35M92.56 839.68V841.7M93.14 839.95V841.12M94.21 839.36V841.7M95.02 840.02V841.14M95.72 839.7V841.48M96.47 839.38V841.7M97.25 839.98V841.57M97.96 840.18V841.36M98.55 839.87V841.7M99.35 839.37V841.7M100.12 840.14V841.4M101.21 839.73V841.5M101.76 839.59V841.37M102.38 839.22V841.7M103.11 839.67V841.7M104.03 839.78V841.7M105.08 839.33V841.7M105.94 839.8V841.26M107.06 839.71V841.7M107.91 839.66V841.7M108.59 839.48V841.7M109.61 839.56V841.7M110.36 839.63V841.7M111.01 839.85V841.7M111.59 840.08V841.53M112.4 839.47V841.51M113.27 839.33V841.7M114.35 839.82V841.62M115.46 839.73V841.36M116.35 839.53V841.66M116.97 840.03V841.07M117.78 839.23V841.7M118.48 839.31V841.7M119.15 839.76V841.7M119.79 839.23V841.7M120.52 839.63V841.7M121.64 840.28V841.4M122.42 839.85V841.69M123.28 840.16V841.19M123.85 839.91V841.7M124.66 839.42V841.7M125.75 839.35V841.62M126.3 839.35V841.7M127.14 839.24V841.7M128.1 839.77V841.7M128.84 839.74V841.7M129.39 839.05V841.7M130.33 839.21V841.7M131.33 838.98V841.7M131.99 839.44V841.7M132.83 839.61V841.57M133.76 839.45V841.7M134.9 839.79V841.7M135.66 839.39V841.7M136.4 839.92V841.61M136.98 839.24V841.7M137.85 839.43V841.7M138.88 839.16V841.7M139.48 840.07V841.24M140.26 839.49V841.7M141.4 839.65V841.69M142.05 839.24V841.7M142.81 839.99V841.59M143.84 839.07V841.7M144.46 839.41V841.56M145.47 839.83V841.64M146.45 839.71V841.36M147.18 840V841.08M147.85 839.56V841.7M148.6 839.86V841.52M149.64 839.19V841.7M150.73 839.55V841.7M151.87 839.91V841.1M152.72 839.7V841.7M153.56 839.66V841.58M154.64 839.32V841.63M155.25 840.02V841.55M156.28 839.45V841.7M157.13 839.86V841.7M157.99 839.9V841.4M159.1 839.94V841.24M159.78 839.34V841.7M160.68 840.11V841.55M161.76 840.04V841.47M162.37 839.7V841.54M163.21 840.01V841.47M163.92 839.92V841.24M164.73 839.92V841.46M165.36 840.15V841.33M166.43 839.97V841.42M166.98 840.26V841.31M167.99 839.47V841.7M168.66 839.99V841.5M169.56 839.74V841.7M170.21 839.64V841.46M171.25 839.88V841.66M172.16 839.6V841.58M172.9 839.95V841.7M173.64 839.98V841.42M174.25 839.3V841.7M175.02 839.77V841.35M175.94 839.53V841.59M176.79 839.65V841.29M177.84 839.29V841.7M178.43 839.72V841.57M179.37 839.83V841.08M180.16 839.81V841.7M181.23 839.18V841.7M181.83 840.04V841.55M182.51 839.74V841.58M183.66 839.6V841.7M184.35 839.6V841.48M185.1 839.83V841.24M185.8 839.96V841.18M186.54 839.49V841.7M187.46 839.39V841.7M188.07 839.64V841.3M188.93 840.32V841.37M189.9 840V841.53M190.91 840.2V841.39M191.86 839.37V841.7M192.5 840.2V841.23M193.07 839.78V841.47M193.88 839.04V841.7M194.68 839.79V841.51M195.76 839.09V841.7M196.42 839.87V841.7M197.33 839.23V841.7M198.01 839.61V841.7M199.1 839.54V841.7M199.76 840.17V841.38M200.79 840.18V841.45M201.37 839.92V841.62M202.32 839.34V841.7M203.18 839.38V841.7M204.2 839.18V841.7M205 839.93V841.69M205.84 839.86V841.07M206.95 839.4V841.7M207.78 839.72V841.7M208.42 839.44V841.7M209.06 840.26V841.39M209.95 839.57V841.7M210.59 839.29V841.7M211.38 839.87V841.12M212.33 839.67V841.25M213.45 839.2V841.7M214.01 839.98V841.08M215 839.41V841.7M216.04 840.13V841.35M216.87 839.17V841.7M217.64 839.25V841.7M218.79 839.81V841.58M219.86 840.07V841.5M220.68 839.35V841.7M221.78 839.98V841.31M222.87 839.43V841.63M223.65 839.92V841.65M224.42 839.56V841.7M225.57 839.87V841.13M226.53 839.26V841.7M227.36 839.5V841.45M228.06 839.46V841.7M229.13 839.43V841.56M229.79 840.19V841.49M230.74 840.04V841.44M231.64 839.95V841.05M232.36 839.54V841.42M233.31 840.06V841.58M234.15 839.91V841.54M234.88 839.27V841.7M235.65 840.11V841.4M236.39 839.84V841.3M237.03 839.3V841.7M237.98 840.03V841.66M238.71 839.56V841.54M239.33 839.85V841.69M239.91 839.72V841.58M240.57 839.4V841.7M241.72 839.93V841.45M242.29 839.84V841.32M243.1 839.85V841.41M243.75 839.37V841.7M244.73 839.75V841.7M245.72 839.47V841.7M246.78 839.44V841.7M247.7 839.29V841.7M248.79 839.88V841.21M249.34 839.87V841.23M250.01 839.7V841.33M250.67 840.26V841.4M251.22 839.94V841.7M252.22 840.06V841.09M252.79 840.27V841.37M253.61 839.41V841.7M254.39 840.06V841.49M255.26 839.81V841.7M256.38 839.09V841.7M257.17 839.65V841.7M257.87 840.09V841.42M258.74 840.08V841.41M259.32 840.1V841.47M260.33 839.94V841.33M261.39 839.84V841.36M262.48 840.01V841.67M263.62 839.2V841.7M264.52 839.65V841.45M265.26 839.8V841.64M266.07 839.87V841.56M266.67 839.28V841.7M267.36 839.15V841.7M268.01 840.03V841.63M268.68 839.35V841.7M269.51 839.93V841.19M270.07 839.49V841.7M270.81 839.38V841.7M271.78 839.31V841.7M272.47 839.71V841.7M273.21 839.92V841.53M274.01 839.47V841.7M274.92 839.41V841.7M275.7 839.04V841.7M276.29 840.03V841.23M277.16 840.23V841.3M278.01 839.44V841.7M279.1 840.16V841.28M279.86 839.97V841.3M280.92 839.74V841.45M281.6 839.36V841.7M282.22 839.85V841.45M282.81 839.47V841.7M283.73 839.64V841.7M284.83 839.56V841.7M285.92 839.54V841.7M286.67 839.2V841.7M287.23 839.27V841.7M287.96 839.8V841.5M288.89 840.22V841.34M289.69 839.88V841.7M290.83 839.56V841.56M291.48 839.82V841.7M292.52 839.96V841.49M293.59 839.06V841.7M294.61 839.47V841.62M295.37 839.19V841.7M296.19 840.14V841.23M296.77 839.72V841.56M297.88 839.29V841.7M298.78 840V841.64M299.34 839.6V841.7M300.01 839.57V841.51M301.1 839.79V841.65M301.99 839.7V841.48M302.65 840.2V841.25M303.52 839.84V841.13M304.52 839.79V841.7M305.65 839.69V841.7M306.57 839.86V841.05M307.56 839.14V841.7M308.27 839.85V841.28M309.38 839.91V841.42M309.97 840.17V841.2M311.03 839.25V841.7M312.1 839.48V841.65M313.06 839.72V841.54M314.14 839.49V841.62M314.7 839.21V841.7M315.49 839.92V841.57M316.26 839.23V841.7M317.01 839.42V841.52M317.91 839.72V841.66M318.64 839.99V841.48M319.34 839.96V841.08M320.02 839.82V841.62M320.84 839.79V841.3M321.8 840.18V841.46M322.77 839.79V841.7M323.85 839.24V841.7M324.47 839.94V841.13M325.02 839.9V841.6M325.79 839.99V841.49M326.85 839.05V841.7M327.93 839.22V841.7M328.98 840.03V841.62M329.78 839.63V841.52M330.67 839.96V841.62M331.55 839.62V841.51M332.13 839.55V841.7M333.03 839.78V841.7M333.75 839.93V841.7M334.42 839.45V841.7M335.13 839.96V841.13M336.01 839.31V841.7M336.66 840.04V841.34M337.33 839.35V841.64M338.31 839.3V841.7M339.35 839.65V841.7M340.16 839.32V841.7M340.89 839.05V841.7M342 839.38V841.7M342.58 839.67V841.7M343.31 839.39V841.7M344.41 840.2V841.29M345.31 839.86V841.31M345.89 839.91V841.45M346.65 839.25V841.7M347.36 839.53V841.7M348.36 840.06V841.51M349.43 839.52V841.44M350.42 839.96V841.65M351.38 840.18V841.28M352.38 840.14V841.42M353.12 839.19V841.7M354.25 839.63V841.42M354.87 839.76V841.19M355.98 840.11V841.51M356.91 839.76V841.65M357.96 839.72V841.26M358.58 839.52V841.7M359.4 839.14V841.7M360.42 839.36V841.7M361.37 839.35V841.7M362 839.98V841.59M362.82 840.29V841.3M363.57 839.87V841.68M364.66 840.01V841.46M365.51 839.43V841.7M366.48 840.08V841.23M367.55 839.39V841.65M368.59 840.08V841.18M369.47 839.82V841.16M370.15 839.44V841.6M371.15 839.18V841.7M371.74 839.76V841.4M372.62 839.94V841.49M373.42 839.76V841.44M374 840.22V841.28M374.81 839.62V841.46M375.78 839.4V841.7M376.71 840.05V841.07M377.34 839.92V841.68M378.12 839.76V841.43M378.79 839.59V841.53M379.61 839.86V841.09M380.18 839.49V841.7M381.26 839.51V841.7M382.28 839.63V841.7M382.92 839.5V841.7M383.65 840.01V841.42M384.26 839.54V841.63M385.05 839.09V841.7M386.02 839.99V841.13M387 839.6V841.7M387.96 839.64V841.7M388.58 839.74V841.53M389.48 839.39V841.64M390.45 839.44V841.68M391.21 839.75V841.69M392.33 840.09V841.18M392.92 840.13V841.32M393.93 839.8V841.49M394.73 839.75V841.7M395.53 839.56V841.7M396.35 839.83V841.64M397.07 839.55V841.45M397.73 839.86V841.2M398.49 839.8V841.7M399.21 839.68V841.6M399.79 839.77V841.7M400.94 839.96V841.45M402.08 839.83V841.16M402.71 839.88V841.15M403.8 839.52V841.5M404.44 839.98V841.17M405.21 839.34V841.7M406.35 839.56V841.49M407.28 840.28V841.41M408.22 839.61V841.61M409.19 839.84V841.61M410.23 839.95V841.41M410.89 839.22V841.7M411.96 839.43V841.61M412.56 839.3V841.66M413.44 839.69V841.56M414.26 839.82V841.39M415.37 839.39V841.57M416.03 840.05V841.14M416.67 840.16V841.23M417.47 839.62V841.7M418.08 839.79V841.44M419.11 839.7V841.7M420.13 839.14V841.7M421.11 840.14V841.47M422.08 839.52V841.7M423.16 839.92V841.16M424.05 839.07V841.7M425.15 839.34V841.7M426.06 839.76V841.7M426.74 840.08V841.61M427.36 839.61V841.7M428.42 839.12V841.7M429.47 840.19V841.22M430.48 839.96V841.24M431.23 840.01V841.64M432.06 839.6V841.7M432.83 839.54V841.63M433.7 839.6V841.7M434.36 839.5V841.7M435.21 839.56V841.46M436.28 839.74V841.38M437.24 839.42V841.7M438.03 840.01V841.47M438.61 839.99V841.46M439.69 839.74V841.42M440.74 838.99V841.7M441.49 839.63V841.3M442.12 839.55V841.55M443 839.03V841.7M443.64 839.73V841.26M444.19 840.14V841.45M444.75 839.86V841.54M445.37 839.95V841.32M445.97 839.91V841.39M446.73 839.16V841.7M447.64 839.88V841.48M448.47 839.21V841.7M449.58 839.87V841.69M450.56 839.28V841.7M451.68 839.94V841.11M452.82 839.39V841.7M453.88 840.17V841.37M454.58 839.23V841.7M455.57 839.9V841.18M456.6 840.28V841.32M457.35 839.57V841.43M457.91 839.94V841.27M458.49 840.18V841.49M459.6 839.89V841.59M460.37 839.83V841.37M461.27 839.42V841.59M462.11 839.07V841.7M462.84 839.48V841.7M463.83 839.72V841.64M464.63 840.18V841.31M465.52 839.83V841.7M466.36 839.44V841.7M467.11 839.38V841.7M468.03 839.04V841.7M468.78 840.16V841.26M469.74 839.27V841.7M470.43 839.63V841.29M471.24 839.91V841.53M472.25 840.26V841.32M473.39 839.72V841.24M473.99 839.32V841.7M474.7 839.21V841.7M475.71 839.59V841.52M476.81 839.81V841.7M477.71 839.59V841.37M478.74 839.77V841.16M479.63 839.78V841.14M480.64 839.53V841.52M481.75 839.47V841.7M482.34 839.63V841.69M483.18 840.08V841.21M484.1 839.39V841.7M484.8 839.85V841.7M485.85 839.88V841.44M486.66 839.53V841.59M487.43 839.06V841.7M488.56 839.59V841.7M489.6 839.79V841.62M490.45 840.2V841.33M491.25 839.42V841.55M491.82 839.99V841.26M492.57 840.1V841.57M493.34 840.06V841.48M494.03 839.51V841.7M494.7 839.99V841.12M495.41 839.51V841.7M496.14 839.38V841.7M496.86 839.48V841.7M497.97 839.61V841.7M498.9 839.21V841.7M499.56 839.97V841.22M500.42 839.67V841.7M500.98 840.25V841.36M501.64 840.12V841.16M502.67 839.26V841.7M503.61 839.89V841.35M504.35 839.37V841.7M505.01 839.51V841.7M505.7 839.95V841.51M506.46 839.08V841.7M507.03 839.46V841.69M507.88 839.54V841.55M508.72 839.72V841.61M509.37 839.9V841.56M510.4 839.22V841.7M511.1 839.24V841.7M511.83 839.72V841.7M512.38 839.81V841.56M512.97 839.57V841.7M514.09 839.64V841.37M514.98 839.96V841.21M515.75 839.63V841.62M516.57 839.62V841.62M517.53 839.57V841.53M518.58 839.48V841.7M519.69 839.31V841.7M520.71 839.33V841.7M521.56 840.02V841.34M522.55 839.65V841.51M523.41 839.28V841.7M524.48 839.92V841.51M525.36 839.85V841.55M526.45 839.55V841.6M527.59 839.61V841.46M528.69 839.88V841.7M529.66 840.09V841.26M530.76 839.38V841.7M531.44 839.35V841.7M532.5 840.24V841.34M533.46 839.95V841.23M534.31 839.68V841.29M535.12 839.79V841.43M535.97 840V841.3M536.65 840.06V841.1M537.52 840.06V841.56M538.6 839.65V841.55M539.62 839.63V841.62M540.72 839.54V841.42M541.45 839.6V841.7M542.41 839.14V841.7M543.53 839.65V841.7M544.56 839.35V841.59M545.38 839.4V841.7M546.16 840.2V841.41M546.86 840V841.28M547.48 839.96V841.48M548.11 839.37V841.7M549.03 839.92V841.48M550.13 839.46V841.7M551 839.57V841.51M551.78 840.06V841.34M552.45 840.03V841.31M553.1 839.72V841.61M554.14 839.79V841.7M555.08 839.52V841.7M555.85 839.79V841.7M556.55 839.27V841.7M557.12 839.6V841.7M557.97 839.81V841.31M558.73 839.61V841.7M559.58 839.68V841.52M560.21 839.41V841.7M560.77 840.31V841.34M561.59 839.53V841.6M562.3 840.15V841.23M563.39 839.45V841.7M564.36 839.38V841.63M565.25 839.81V841.7M566.27 840.04V841.11M566.92 840.02V841.67M567.55 839.07V841.7M568.58 840.07V841.18M569.61 839.2V841.7M570.42 840.08V841.11M571.37 839.85V841.7M572.44 839.7V841.35M573.25 839.04V841.7M574.11 839.32V841.59M574.75 839.28V841.7M575.5 839.2V841.7M576.21 840.29V841.36M576.8 839.73V841.7M577.68 839.97V841.56M578.75 839.2V841.7M579.6 839.35V841.7M580.63 839.55V841.47M581.73 839.92V841.34M582.56 839.93V841.08M583.46 839.55V841.36M584.2 839.91V841.63M585.02 840.04V841.37M585.85 839.63V841.43M586.89 839.38V841.7M587.92 839.54V841.39M588.69 839.64V841.56M589.64 839.36V841.54M590.23 839.32V841.7M591.18 839.28V841.7M592.28 839.46V841.68M593.12 839.73V841.58M593.68 840.05V841.11M594.76 840.21V841.32M595.69 839.67V841.7M596.64 839.76V841.53M597.39 839.68V841.29M598.06 839.75V841.49M598.8 840.12V841.57M599.58 839.91V841.64M600.16 839.83V841.52M601.19 839.75V841.41M602.05 840.07V841.33M602.63 840V841.5M603.75 839.74V841.7M604.34 840.04V841.07M605.24 839.45V841.7M606.01 839.44V841.7M606.97 839.23V841.7M607.82 839.06V841.7M608.43 839.73V841.46M609.49 839.64V841.7M610.64 839.66V841.7M611.44 839.16V841.7M612.42 839.9V841.7M613.54 839.69V841.27M614.66 840.08V841.44M615.42 839.41V841.67M616.38 839.79V841.59M616.97 839.16V841.7M617.96 839.6V841.7M618.75 839.76V841.16M619.49 839.6V841.31M620.23 839.7V841.53M621.25 839.26V841.7M622.13 839.63V841.53M623.09 839.3V841.7M624.22 839.55V841.7M625.27 839.4V841.51M626.05 839.63V841.41M626.63 840.13V841.32M627.41 839V841.7M628.1 840.15V841.19M628.82 840.1V841.13M629.9 840.17V841.24M630.72 839.58V841.42M631.73 839.2V841.7M632.57 839.22V841.7M633.23 839.33V841.7M634.08 839.27V841.7M634.9 839.06V841.7M635.54 840.07V841.42M636.36 839.89V841.43M637.25 840.03V841.66M638.17 840.18V841.47M639.25 839.69V841.7M639.82 839.83V841.29M640.68 839.1V841.7M641.81 839.17V841.7M642.62 839.71V841.61M643.38 839.57V841.7M644.12 839.67V841.41M644.78 839.65V841.7M645.78 839.58V841.7M646.46 840.01V841.22M647.49 839.65V841.7M648.35 839.54V841.62M649.36 839.56V841.7M649.96 839.49V841.59M651.03 839.56V841.57M651.78 839.71V841.29M652.74 839.65V841.55M653.6 839.57V841.7M654.57 839.66V841.7M655.45 839.87V841.7M656.32 839.35V841.62M657.22 840.25V841.39M657.92 839.47V841.7M658.87 839.12V841.7M659.76 839.46V841.7M660.7 839.5V841.7M661.33 839.32V841.7M662.24 839.47V841.7M663.19 839.17V841.7M664.22 839.49V841.6M664.83 839.68V841.42M665.68 839.32V841.7M666.68 839.75V841.4M667.29 839.79V841.55M668.18 839.46V841.7M669.18 839.62V841.61M670.14 839.4V841.66" stroke="#242424" stroke-width="0.65" fill="none"/>
<path d="M74 841.2V839.89M78.48 841.2V839.79M81.95 841.2V838.79M85.14 841.2V839.92M89.95 841.2V839.38M92.9 841.2V839.99M99.36 841.2V838.77M102.92 841.2V840.03M113.12 841.2V840.01M116.37 841.2V839.33M119.18 841.2V839.52M123.21 841.2V839.06M126.79 841.2V838.49M137.25 841.2V839.46M141.24 841.2V836.43M143.26 841.2V838.13M149.66 841.2V838.16M152.49 841.2V839.54M158.78 841.2V836.02M161.99 841.2V839.52M164.96 841.2V839.53M166.38 841.2V838.29M170.59 841.2V835.83M177.18 841.2V838.86M179.42 841.2V837.13M182.34 841.2V839.14M187.25 841.2V839.15M189.79 841.2V839.51M195.72 841.2V839.28M198.74 841.2V839.53M205.46 841.2V837.66M207.98 841.2V838.96M212.93 841.2V835.74M217.49 841.2V839.32M221.74 841.2V838.25M226.42 841.2V836.48M228.93 841.2V838.98M230.57 841.2V839.33M231.79 841.2V839.54M236.36 841.2V839.53M247.6 841.2V839.54M249.15 841.2V836.07M252.04 841.2V838.97M257.25 841.2V839.03M268.65 841.2V839.25M271.17 841.2V838.05M273.7 841.2V839.09M276.49 841.2V836.68M282.81 841.2V839.36M286.24 841.2V838.89M293.92 841.2V839.45M295.79 841.2V836.3M297.7 841.2V839.54M299.8 841.2V836.11M300 841.2V837.92M301.88 841.2V838.98M305.07 841.2V838.08M306.71 841.2V838.76M310.46 841.2V839.03M314.29 841.2V838.82M319.5 841.2V837.96M320.84 841.2V839.03M326.29 841.2V838.97M333.39 841.2V838.25M340.84 841.2V838.54M341.89 841.2V836.35M343.06 841.2V836.82M344.19 841.2V837.76M345.95 841.2V838.33M346.88 841.2V834.61M347.55 841.2V835.58M350.1 841.2V838.54M351.28 841.2V835.84M353.73 841.2V838.16M355.23 841.2V837.04M358.75 841.2V837.65M360.37 841.2V835.68M360.96 841.2V836.21M362.47 841.2V834.27M365.35 841.2V838.14M366.13 841.2V832.05M367.4 841.2V838.24M368.53 841.2V829.75M369.9 841.2V829.72M371.14 841.2V836.09M373.62 841.2V838.11M375.65 841.2V838.25M378.39 841.2V831.53M379.83 841.2V833.38M380.44 841.2V838.28M381.42 841.2V836.79M389.27 841.2V839.68M392.82 841.2V839.84M395.83 841.2V839.57M397.96 841.2V839.71M400.29 841.2V839.72M409.31 841.2V838.47M413.21 841.2V840.04M416.48 841.2V839.96M419.55 841.2V839.96M421.15 841.2V839.87M425.29 841.2V839.99M427.08 841.2V839.84M429.02 841.2V839.84M434.91 841.2V839.69M436.75 841.2V840.04M440 841.2V837.67M441.23 841.2V839.49M443.47 841.2V839.13M445.06 841.2V835.82M446.68 841.2V837.39M450.63 841.2V838.92M452.48 841.2V838.34M455.27 841.2V837.96M457.8 841.2V836.88M459.36 841.2V838.2M464.36 841.2V837M470.37 841.2V839.28M473.66 841.2V839.53M478.09 841.2V839.46M480.96 841.2V835.7M483.05 841.2V838.27M485.37 841.2V839.25M487.43 841.2V838.44M489.86 841.2V838.98M497.43 841.2V837.89M501.74 841.2V838.53M506.62 841.2V839.47M509.26 841.2V838.61M514.83 841.2V837.68M516.03 841.2V839.45M520.79 841.2V838.03M523.77 841.2V839.39M525 841.2V839.48M529.96 841.2V839.34M545.58 841.2V839.77M560.86 841.2V839.51M566.44 841.2V840.08M574.74 841.2V839.11M580.77 841.2V840.14M618.81 841.2V839.79M625.3 841.2V839.23M629.12 841.2V839.49M635.46 841.2V839.9M640.95 841.2V839.96M645.17 841.2V840.01M648.19 841.2V840.13M660.37 841.2V840.07M665.19 841.2V839.31" stroke="#666" stroke-width="0.9" fill="none"/>
<path d="M96.54 841.2V839.36M106.41 841.2V838.94M131.13 841.2V839.98M140 841.2V839.54M146.5 841.2V835.72M155.52 841.2V839.52M168.57 841.2V836.9M172.24 841.2V839.47M175.39 841.2V839.5M184.26 841.2V838.97M192.75 841.2V838.26M202 841.2V837.08M204.03 841.2V836.38M210.54 841.2V837.51M214.22 841.2V838.57M219.48 841.2V836.21M223.48 841.2V836.93M235.01 841.2V837.67M239.11 841.2V838.82M242.28 841.2V837.22M245.27 841.2V836.18M250.8 841.2V837.47M255.18 841.2V839.26M259.39 841.2V839.36M261.71 841.2V839.53M263.23 841.2V839.43M265.49 841.2V838.1M272.37 841.2V839.52M278.76 841.2V838.86M280.34 841.2V839.13M284.64 841.2V837.36M289.47 841.2V839.46M290.76 841.2V836.69M303.94 841.2V838.09M308.82 841.2V834.49M312.09 841.2V838.88M315.38 841.2V838.92M317.61 841.2V839.01M322.38 841.2V837.46M324.82 841.2V835.28M327.37 841.2V838.15M329.04 841.2V836.88M330.88 841.2V836.36M335.87 841.2V838.55M337.14 841.2V839M339.53 841.2V836.58M340 841.2V837.52M344.84 841.2V835.82M348.9 841.2V835.2M351.88 841.2V837.88M352.62 841.2V830.01M354.4 841.2V830.06M355.88 841.2V833.15M356.74 841.2V838.54M357.71 841.2V836.01M364.05 841.2V835.69M372.04 841.2V837.63M374.56 841.2V837.77M377.05 841.2V830.72M385 841.2V839.93M403.75 841.2V839.44M407.27 841.2V838.99M432.04 841.2V839.81M448.39 841.2V839.49M461.98 841.2V838.92M466.78 841.2V838.71M468.31 841.2V837M476.36 841.2V839.53M491.83 841.2V838.57M494.34 841.2V838M499.47 841.2V835.92M503.89 841.2V835.96M512.12 841.2V839.54M518.27 841.2V837.56M537.66 841.2V839.88M542.48 841.2V840.1M552.71 841.2V840.01M569.92 841.2V839.82M589.21 841.2V839.28M593.76 841.2V839.89M599.03 841.2V839.8M606.59 841.2V839.07M612.68 841.2V839.56M657.13 841.2V839.8" stroke="#333" stroke-width="0.8" fill="none"/>
<path d="M76.9 841.2V838.2M91.3 841.2V836.5M116.6 841.2V836M120.8 841.2V831.2M126.6 841.2V836.5M137.2 841.2V837.5M139.7 841.2V837.5M146.4 841.2V835M150.9 841.2V832.5M152.1 841.2V835M163.4 841.2V833.7M171.8 841.2V831.7M182.2 841.2V832.5M183.4 841.2V835M190.9 841.2V837.5M196.6 841.2V835M198.8 841.2V830M205 841.2V826.7M207.5 841.2V831.2M209.5 841.2V834.2M212.7 841.2V836.2M221.9 841.2V837.5M225.6 841.2V826.3M229.3 841.2V836.2M244.2 841.2V822.5M248 841.2V826M252.9 841.2V836.2M270.3 841.2V828.7M275.2 841.2V836.8M288.2 841.2V834M291.3 841.2V826.5M297.3 841.2V834M301.3 841.2V836.2M304.8 841.2V832M306 841.2V827.8M314.2 841.2V823.8M318.5 841.2V821.3M320.9 841.2V835M331.6 841.2V825M335.1 841.2V821.3M338.8 841.2V819.3M340.8 841.2V834M352.7 841.2V825.8M353.9 841.2V830M358.9 841.2V831.2M363.6 841.2V828.7M365.6 841.2V833.7M374.2 841.2V775M378 841.2V831.2M380 841.2V835M382.5 841.2V836M385 841.2V836.5M407 841.2V837.4M442.4 841.2V835M447.9 841.2V824.3M452.3 841.2V837.4M463.4 841.2V836.2M469.6 841.2V833.7M480.8 841.2V835M490.7 841.2V836.2M494.4 841.2V836.7M501.3 841.2V831.2M504.9 841.2V833.7M508.1 841.2V837.4M513 841.2V835M516.8 841.2V830M521 841.2V830.7M547 841.2V838.2M559 841.2V838.7M598.6 841.2V838.2M670.1 841.2V835" stroke="#555" stroke-width="1.0" fill="none"/>
<path d="M85.6 841.2V828.2M144.8 841.2V826.3" stroke="#555" stroke-width="1.5" fill="none"/>
<path d="M96.3 841.2V829.2M148.5 841.2V808.4M175.5 841.2V825M179.2 841.2V826.7M235.5 841.2V817.6M457.2 841.2V827.5M468.4 841.2V829.2M485.3 841.2V818.3" stroke="#2a2a2a" stroke-width="1.0" fill="none"/>
<path d="M104.7 841.2V830.7M155.9 841.2V834.2M295.5 841.2V815.1M311 841.2V788.5M345.3 841.2V811.4M357.5 841.2V697.2M361.1 841.2V779.6M362.4 841.2V797.7M370.6 841.2V813.8M377.3 841.2V779.6M489 841.2V810.1M519.3 841.2V826.7" stroke="#555" stroke-width="1.1" fill="none"/>
<path d="M132.8 841.2V774.6M307.4 841.2V791.8M329.6 841.2V805.2M356.2 841.2V697.2M368.1 841.2V763.7M376.1 841.2V698M474.1 841.2V803.4" stroke="#2a2a2a" stroke-width="1.1" fill="none"/>
<path d="M134 841.2V821.8" stroke="#555" stroke-width="1.6" fill="none"/>
<path d="M149.7 841.2V828.7M372.1 841.2V698M515.6 841.2V830" stroke="#555" stroke-width="1.2" fill="none"/>
<path d="M246.8 841.2V821.3" stroke="#2a2a2a" stroke-width="1.4" fill="none"/>
<path d="M349.6 841.2V823.3M369.4 841.2V813.8M475.4 841.2V817.6" stroke="#555" stroke-width="1.3" fill="none"/>
<path d="M350.8 841.2V823.3M472.7 841.2V816.8M476.5 841.2V817.6" stroke="#858585" stroke-width="1.0" fill="none"/>
<path d="M373.2 841.2V759.3M446.7 841.2V824.3M471.5 841.2V816.8" stroke="#555" stroke-width="1.4" fill="none"/>
<path d="M500 841.2V831.2" stroke="#2a2a2a" stroke-width="1.5" fill="none"/>
<path d="M71.4 692.3V841.6" stroke="#1a1a1a" stroke-width="1.3" fill="none"/>
<path d="M69.5 841.2H670.8" stroke="#333" stroke-width="0.9" fill="none"/>
<path d="M71.4 722.36H67.7M71.4 727.32H67.7M71.4 732.28H67.7M71.4 737.24H67.7M71.4 747.26H67.7M71.4 752.22H67.7M71.4 757.18H67.7M71.4 762.14H67.7M71.4 772.06H67.7M71.4 777.02H67.7M71.4 781.98H67.7M71.4 786.94H67.7M71.4 796.66H67.7M71.4 801.62H67.7M71.4 806.58H67.7M71.4 811.54H67.7M71.4 821.56H67.7M71.4 826.52H67.7M71.4 831.48H67.7M71.4 836.44H67.7M71.4 712.4H67.7M71.4 707.4H67.7M71.4 702.4H67.7M71.4 717.4H64.9M71.4 742.3H64.9M71.4 767.1H64.9M71.4 791.7H64.9M71.4 816.6H64.9" stroke="#444" stroke-width="0.9" fill="none"/>
<path d="M95.5 841.2V846.8M142.6 841.2V846.8M190.2 841.2V846.8M238 841.2V846.8M285.6 841.2V846.8M333.3 841.2V846.8M381 841.2V846.8M429.7 841.2V846.8M478.8 841.2V846.8M526.7 841.2V846.8M574 841.2V846.8M621.6 841.2V846.8" stroke="#222" stroke-width="1.1" fill="none"/>
<g font-size="12.6" fill="#4a4a4a" stroke="#4a4a4a" stroke-width="0.45" text-anchor="middle">
<text x="95.5" y="861.6" textLength="20.85" lengthAdjust="spacingAndGlyphs">600</text>
<text x="142.6" y="861.6" textLength="20.85" lengthAdjust="spacingAndGlyphs">800</text>
<text x="190.2" y="861.6" textLength="27.8" lengthAdjust="spacingAndGlyphs">1000</text>
<text x="238" y="861.6" textLength="27.8" lengthAdjust="spacingAndGlyphs">1200</text>
<text x="285.6" y="861.6" textLength="27.8" lengthAdjust="spacingAndGlyphs">1400</text>
<text x="333.3" y="861.6" textLength="27.8" lengthAdjust="spacingAndGlyphs">1600</text>
<text x="381" y="861.6" textLength="27.8" lengthAdjust="spacingAndGlyphs">1800</text>
<text x="429.7" y="861.6" textLength="27.8" lengthAdjust="spacingAndGlyphs">2000</text>
<text x="478.8" y="861.6" textLength="27.8" lengthAdjust="spacingAndGlyphs">2200</text>
<text x="526.7" y="861.6" textLength="27.8" lengthAdjust="spacingAndGlyphs">2400</text>
<text x="574" y="861.6" textLength="27.8" lengthAdjust="spacingAndGlyphs">2600</text>
<text x="621.6" y="861.6" textLength="27.8" lengthAdjust="spacingAndGlyphs">2800</text>
</g>
<g font-size="12.6" fill="#4a4a4a" stroke="#4a4a4a" stroke-width="0.45" text-anchor="end">
<text x="57.7" y="721.4" textLength="14.3" lengthAdjust="spacingAndGlyphs">50</text>
<text x="57.7" y="746.3" textLength="14.3" lengthAdjust="spacingAndGlyphs">40</text>
<text x="57.7" y="771.1" textLength="14.3" lengthAdjust="spacingAndGlyphs">30</text>
<text x="57.7" y="795.7" textLength="14.3" lengthAdjust="spacingAndGlyphs">20</text>
<text x="57.7" y="820.6" textLength="14.3" lengthAdjust="spacingAndGlyphs">10</text>
</g>
<text x="647.8" y="861.6" font-size="13" font-weight="bold" fill="#111" stroke="#111" stroke-width="0.4" textLength="19.3" lengthAdjust="spacingAndGlyphs">m/z</text>
<text transform="translate(29.6 799.1) rotate(-90)" font-size="12.3" font-weight="bold" fill="#111" stroke="#111" stroke-width="0.45" textLength="79.5" lengthAdjust="spacingAndGlyphs">Intensity ×10<tspan font-size="6.89" dy="-5.66">7</tspan></text>
<text x="29.4" y="647.6" font-size="16.4" font-weight="bold" fill="#000" stroke="#000" stroke-width="0.5" textLength="10.6" lengthAdjust="spacingAndGlyphs">C</text>
<path d="M187.6 822.5L182.7 832.5" stroke="#444" stroke-width="0.7" fill="none"/>
<path d="M213.7 821.8L208.2 831.7" stroke="#444" stroke-width="0.7" fill="none"/>
<path d="M376.3 698.1L381 689.2" stroke="#444" stroke-width="0.7" fill="none"/>
<path d="M356.8 698V683" stroke="#333" stroke-width="0.9" stroke-dasharray="1.3 0.9" fill="none"/><path d="M353.2 688.8L356.8 682.3L360.40000000000003 688.8" stroke="#222" stroke-width="0.95" fill="none"/>
<path d="M372.4 698V683" stroke="#333" stroke-width="0.9" stroke-dasharray="1.3 0.9" fill="none"/><path d="M368.79999999999995 688.8L372.4 682.3L376.0 688.8" stroke="#222" stroke-width="0.95" fill="none"/>
<text transform="translate(91.45 824.1) rotate(-90)" font-size="13.5" fill="#4c4c4c" stroke="#4c4c4c" stroke-width="0.3" textLength="58.2" lengthAdjust="spacingAndGlyphs">563.41263</text>
<text transform="translate(102.15 827.8) rotate(-90)" font-size="13.5" fill="#4c4c4c" stroke="#4c4c4c" stroke-width="0.3" textLength="58.9" lengthAdjust="spacingAndGlyphs">607.36747</text>
<text transform="translate(126.65 827) rotate(-90)" font-size="13.5" font-weight="bold" fill="#000" stroke="#000" stroke-width="0.35" textLength="131.3" lengthAdjust="spacingAndGlyphs">708.38281 (+0.08 ppm)</text>
<text transform="translate(140.55 772) rotate(-90)" font-size="13.5" fill="#4c4c4c" stroke="#4c4c4c" stroke-width="0.3" textLength="59" lengthAdjust="spacingAndGlyphs">761.39159</text>
<text transform="translate(155.25 805.5) rotate(-90)" font-size="13.5" fill="#4c4c4c" stroke="#4c4c4c" stroke-width="0.3" textLength="59" lengthAdjust="spacingAndGlyphs">827.43864</text>
<text transform="translate(181.85 822.8) rotate(-90)" font-size="13.5" fill="#4c4c4c" stroke="#4c4c4c" stroke-width="0.3" textLength="58.9" lengthAdjust="spacingAndGlyphs">936.21592</text>
<text transform="translate(192.25 821.1) rotate(-90)" font-size="13.5" font-weight="bold" fill="#000" stroke="#000" stroke-width="0.35" textLength="134.1" lengthAdjust="spacingAndGlyphs">961.44399 (- 0.61 ppm)</text>
<text transform="translate(219.75 818.6) rotate(-90)" font-size="13.5" font-weight="bold" fill="#000" stroke="#000" stroke-width="0.35" textLength="143.5" lengthAdjust="spacingAndGlyphs">1067.52007 (+ 1.08 ppm)</text>
<text transform="translate(240.85 817.3) rotate(-90)" font-size="13.5" font-weight="bold" fill="#000" stroke="#000" stroke-width="0.35" textLength="140.7" lengthAdjust="spacingAndGlyphs">1186.67841 (- 0.46 ppm)</text>
<text transform="translate(252.55 819.8) rotate(-90)" font-size="13.5" fill="#4c4c4c" stroke="#4c4c4c" stroke-width="0.3" textLength="65.8" lengthAdjust="spacingAndGlyphs">1237.61548</text>
<text transform="translate(275.65 827.7) rotate(-90)" font-size="13.5" fill="#4c4c4c" stroke="#4c4c4c" stroke-width="0.3" textLength="65.8" lengthAdjust="spacingAndGlyphs">1332.63175</text>
<text transform="translate(300.85 812.9) rotate(-90)" font-size="13.5" fill="#4c4c4c" stroke="#4c4c4c" stroke-width="0.3" textLength="66.4" lengthAdjust="spacingAndGlyphs">1435.70227</text>
<text transform="translate(316.85 787.6) rotate(-90)" font-size="13.5" fill="#4c4c4c" stroke="#4c4c4c" stroke-width="0.3" textLength="65.9" lengthAdjust="spacingAndGlyphs">1499.70228</text>
<text transform="translate(334.95 804.4) rotate(-90)" font-size="13.5" fill="#4c4c4c" stroke="#4c4c4c" stroke-width="0.3" textLength="66.5" lengthAdjust="spacingAndGlyphs">1576.87524</text>
<text transform="translate(351.55 809.1) rotate(-90)" font-size="13.5" fill="#4c4c4c" stroke="#4c4c4c" stroke-width="0.3" textLength="66.3" lengthAdjust="spacingAndGlyphs">1643.79219</text>
<text transform="translate(361.65 681.4) rotate(-90)" font-size="13.5" fill="#4c4c4c" stroke="#4c4c4c" stroke-width="0.3" textLength="66.9" lengthAdjust="spacingAndGlyphs">1690.87213</text>
<text transform="translate(377.05 681) rotate(-90)" font-size="13.5" fill="#4c4c4c" stroke="#4c4c4c" stroke-width="0.3" textLength="67" lengthAdjust="spacingAndGlyphs">1755.79375</text>
<text transform="translate(391.55 688.6) rotate(-90)" font-size="13.5" fill="#4c4c4c" stroke="#4c4c4c" stroke-width="0.3" textLength="66.6" lengthAdjust="spacingAndGlyphs">1772.80046</text>
<text transform="translate(412.55 835.9) rotate(-90)" font-size="13.5" fill="#4c4c4c" stroke="#4c4c4c" stroke-width="0.3" textLength="65.8" lengthAdjust="spacingAndGlyphs">1901.95547</text>
<text transform="translate(453.55 822.1) rotate(-90)" font-size="13.5" fill="#4c4c4c" stroke="#4c4c4c" stroke-width="0.3" textLength="65.1" lengthAdjust="spacingAndGlyphs">2068.05100</text>
<text transform="translate(480.45 801.2) rotate(-90)" font-size="13.5" fill="#4c4c4c" stroke="#4c4c4c" stroke-width="0.3" textLength="65.1" lengthAdjust="spacingAndGlyphs">2184.11282</text>
<text transform="translate(494.55 808.7) rotate(-90)" font-size="13.5" fill="#4c4c4c" stroke="#4c4c4c" stroke-width="0.3" textLength="63.4" lengthAdjust="spacingAndGlyphs">2243.11911</text>
<text transform="translate(506.95 829.5) rotate(-90)" font-size="13.5" fill="#4c4c4c" stroke="#4c4c4c" stroke-width="0.3" textLength="65.6" lengthAdjust="spacingAndGlyphs">2292.15769</text>
<text transform="translate(525.35 824.6) rotate(-90)" font-size="13.5" fill="#4c4c4c" stroke="#4c4c4c" stroke-width="0.3" textLength="65.1" lengthAdjust="spacingAndGlyphs">2372.22349</text>
<text transform="translate(604.75 836) rotate(-90)" font-size="13.5" fill="#4c4c4c" stroke="#4c4c4c" stroke-width="0.3" textLength="65.9" lengthAdjust="spacingAndGlyphs">2700.45402</text>
<text transform="translate(674.95 832.3) rotate(-90)" font-size="13.5" fill="#4c4c4c" stroke="#4c4c4c" stroke-width="0.3" textLength="66.4" lengthAdjust="spacingAndGlyphs">2995.81443</text>
</svg></body></html>
